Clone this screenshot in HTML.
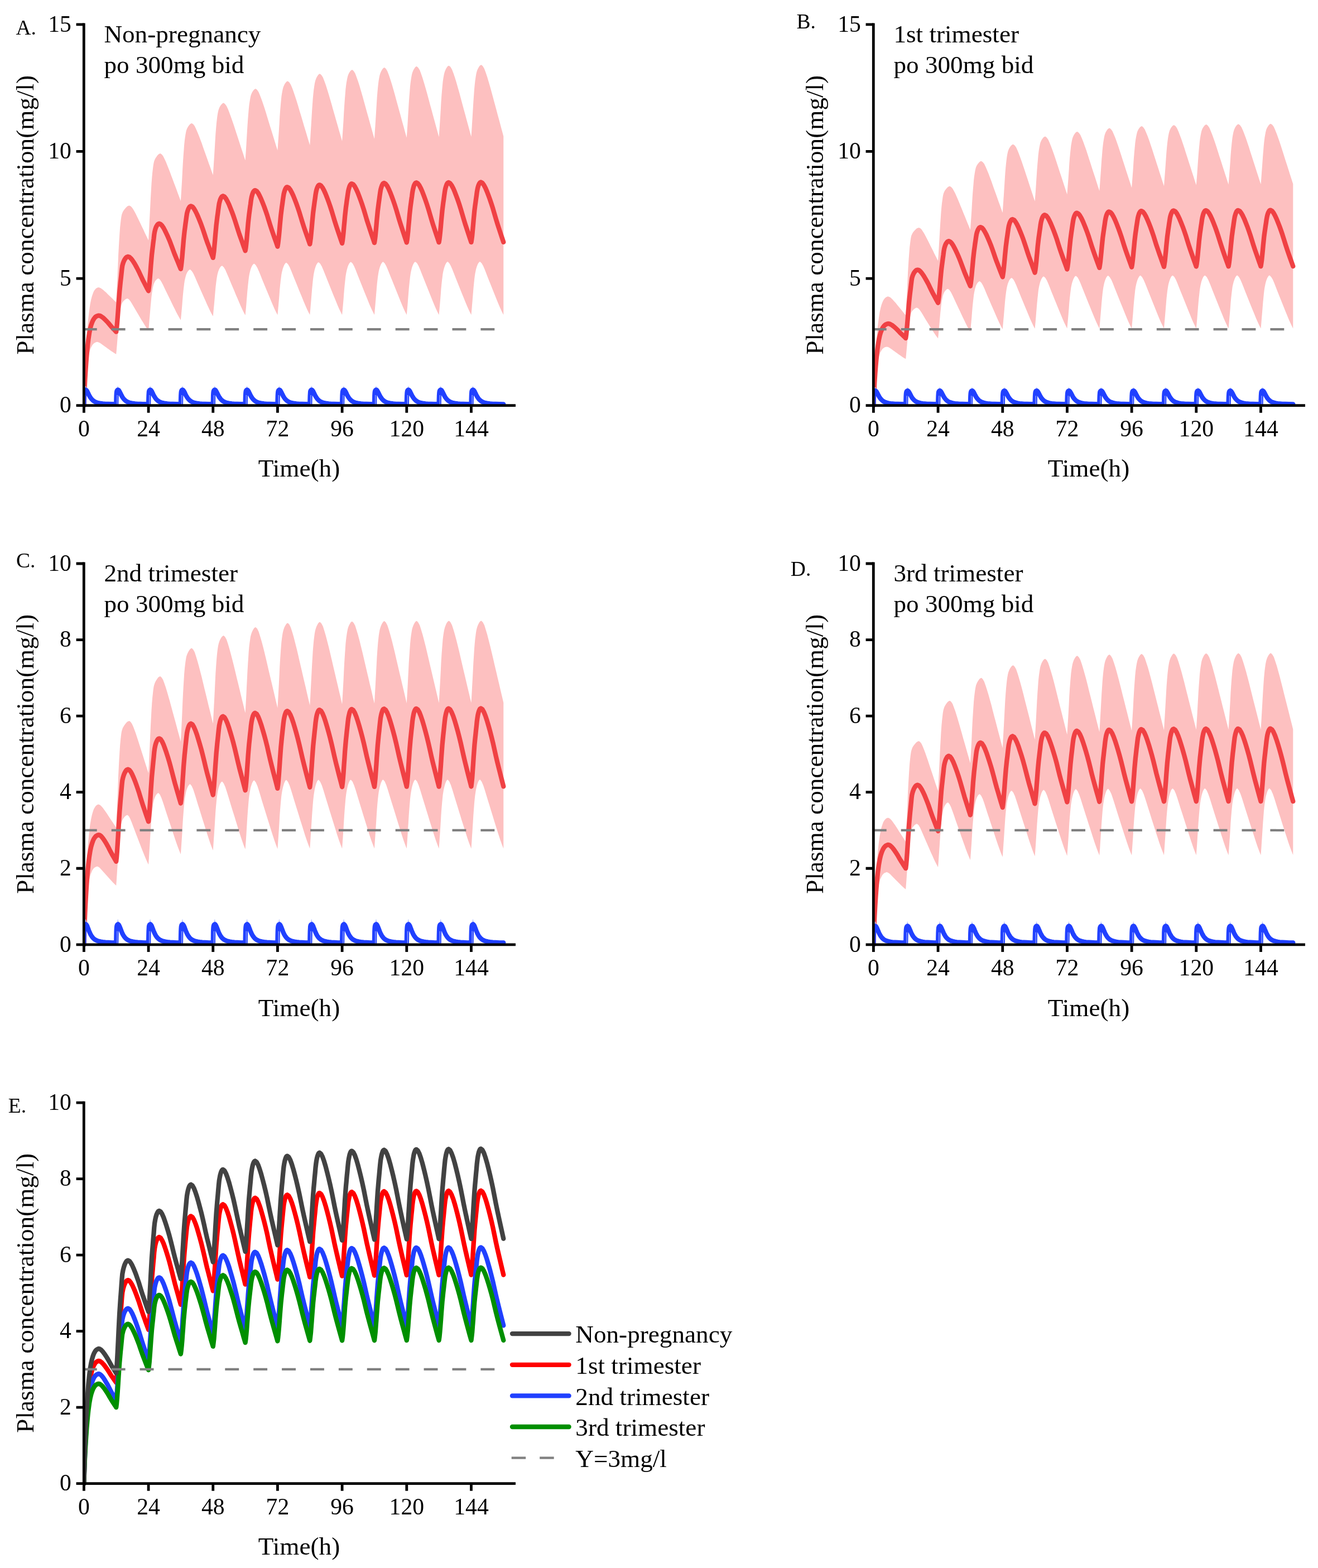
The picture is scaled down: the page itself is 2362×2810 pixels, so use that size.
<!DOCTYPE html>
<html lang="en"><head><meta charset="utf-8"><title>Plasma concentration-time profiles</title>
<style>html,body{margin:0;padding:0;background:#fff}body{width:2362px;height:2810px;overflow:hidden}svg{display:block}text{font-family:'Liberation Serif', 'DejaVu Serif', serif;font-size:41.67px;fill:#000}</style></head><body>
<svg width="2362" height="2810" viewBox="0 0 2362 2810">
<rect width="2362" height="2810" fill="#fff"/>
<clipPath id="cpA"><rect x="150.4" y="23.9" width="819.4" height="712.7"/></clipPath><g clip-path="url(#cpA)">
<polygon points="150.4,726.6 151.4,690.5 152.4,664.7 153.3,643.7 154.3,625.0 155.3,608.7 156.3,594.7 157.2,581.9 158.2,570.9 159.9,556.7 161.5,545.5 163.2,537.1 164.8,530.9 166.5,525.9 168.1,522.1 169.8,519.5 171.5,517.5 173.1,516.3 174.8,515.4 176.4,515.0 178.5,515.4 180.7,516.4 182.8,517.9 184.9,519.5 187.0,521.4 189.2,523.3 191.3,525.3 193.4,527.4 195.5,529.5 197.6,531.5 199.8,533.6 201.9,535.6 204.0,537.7 206.1,539.8 208.2,541.8 209.0,526.0 209.8,509.8 210.6,493.1 211.4,475.2 212.1,457.1 212.9,442.1 213.7,428.8 214.5,416.8 215.2,407.1 216.0,399.5 216.8,392.8 217.6,387.5 218.4,384.0 220.0,379.8 221.7,376.9 223.4,374.8 225.1,372.8 226.8,370.9 228.5,369.6 230.2,368.8 231.9,368.4 234.1,369.5 236.4,371.7 238.7,375.1 241.0,379.0 243.3,383.3 245.5,387.7 247.8,392.4 250.1,397.2 252.4,402.1 254.7,406.9 257.0,411.6 259.2,416.4 261.5,421.2 263.8,426.0 266.1,430.8 266.9,416.6 267.6,402.0 268.4,387.1 269.2,371.0 270.0,354.7 270.8,341.3 271.5,329.3 272.3,318.6 273.1,309.8 273.9,303.1 274.6,297.2 275.4,292.4 276.2,289.1 277.6,285.5 279.0,282.9 280.4,280.9 281.7,279.0 283.1,277.4 284.5,276.2 285.9,275.5 287.3,275.1 289.7,276.6 292.2,279.5 294.6,284.3 297.1,289.6 299.5,295.4 301.9,301.5 304.4,307.8 306.8,314.4 309.3,321.1 311.7,327.6 314.2,334.1 316.6,340.6 319.0,347.2 321.5,353.7 323.9,360.2 324.7,347.5 325.5,334.5 326.3,321.1 327.0,306.7 327.8,292.2 328.6,280.2 329.4,269.4 330.1,259.8 330.9,252.0 331.7,246.0 332.5,240.8 333.3,236.5 334.0,233.5 335.2,230.4 336.5,228.0 337.7,226.1 338.9,224.5 340.1,223.0 341.3,221.9 342.5,221.3 343.7,220.9 346.2,222.6 348.8,225.8 351.3,231.0 353.8,236.7 356.4,243.1 358.9,249.7 361.5,256.6 364.0,263.9 366.5,271.1 369.1,278.2 371.6,285.3 374.1,292.4 376.7,299.6 379.2,306.7 381.8,313.8 382.5,302.0 383.3,289.9 384.1,277.5 384.9,264.2 385.7,250.7 386.4,239.5 387.2,229.5 388.0,220.6 388.8,213.4 389.5,207.8 390.3,203.0 391.1,199.0 391.9,196.2 393.0,193.3 394.1,191.1 395.2,189.3 396.3,187.8 397.5,186.4 398.6,185.4 399.7,184.8 400.8,184.5 403.4,186.4 406.0,189.9 408.6,195.6 411.1,202.0 413.7,209.1 416.3,216.4 418.9,224.1 421.5,232.1 424.1,240.1 426.7,248.0 429.3,255.9 431.8,263.7 434.4,271.6 437.0,279.5 439.6,287.4 440.4,275.7 441.2,263.7 441.9,251.4 442.7,238.1 443.5,224.7 444.3,213.6 445.1,203.7 445.8,194.9 446.6,187.7 447.4,182.2 448.2,177.4 448.9,173.5 449.7,170.6 450.8,167.8 451.8,165.6 452.9,163.8 453.9,162.3 455.0,160.9 456.0,159.9 457.1,159.4 458.2,159.0 460.8,161.0 463.4,164.8 466.0,171.0 468.6,177.8 471.3,185.4 473.9,193.3 476.5,201.6 479.1,210.2 481.7,218.8 484.3,227.3 487.0,235.7 489.6,244.2 492.2,252.7 494.8,261.2 497.4,269.6 498.2,258.3 499.0,246.7 499.8,234.8 500.6,221.9 501.3,209.0 502.1,198.2 502.9,188.6 503.7,180.1 504.4,173.1 505.2,167.8 506.0,163.2 506.8,159.4 507.6,156.6 508.6,153.9 509.6,151.8 510.6,150.0 511.7,148.5 512.7,147.2 513.7,146.3 514.7,145.7 515.8,145.4 518.4,147.4 521.0,151.4 523.7,157.8 526.3,164.9 528.9,172.7 531.6,180.9 534.2,189.5 536.8,198.4 539.5,207.3 542.1,216.1 544.7,224.9 547.4,233.7 550.0,242.5 552.6,251.3 555.3,260.1 556.1,248.5 556.8,236.5 557.6,224.2 558.4,211.0 559.2,197.7 560.0,186.6 560.7,176.8 561.5,168.0 562.3,160.8 563.1,155.3 563.8,150.6 564.6,146.7 565.4,143.8 566.4,141.0 567.4,138.8 568.4,137.1 569.4,135.5 570.4,134.1 571.4,133.2 572.4,132.6 573.4,132.3 576.0,134.4 578.7,138.6 581.3,145.3 584.0,152.8 586.6,161.0 589.3,169.7 591.9,178.7 594.6,188.0 597.2,197.4 599.9,206.7 602.5,215.9 605.2,225.2 607.8,234.4 610.5,243.7 613.1,252.9 613.9,241.3 614.7,229.3 615.5,217.0 616.2,203.8 617.0,190.5 617.8,179.4 618.6,169.6 619.3,160.8 620.1,153.6 620.9,148.1 621.7,143.4 622.5,139.5 623.2,136.6 624.2,133.8 625.2,131.6 626.2,129.8 627.2,128.3 628.2,126.9 629.2,126.0 630.2,125.4 631.2,125.1 633.8,127.3 636.5,131.5 639.1,138.5 641.8,146.1 644.5,154.6 647.1,163.5 649.8,172.7 652.4,182.3 655.1,192.0 657.7,201.5 660.4,211.0 663.0,220.5 665.7,230.0 668.3,239.5 671.0,249.0 671.7,237.3 672.5,225.4 673.3,213.1 674.1,199.9 674.9,186.5 675.6,175.5 676.4,165.6 677.2,156.8 678.0,149.6 678.7,144.1 679.5,139.4 680.3,135.5 681.1,132.6 682.1,129.9 683.1,127.7 684.1,125.9 685.1,124.3 686.1,123.0 687.0,122.0 688.0,121.4 689.0,121.1 691.7,123.3 694.3,127.7 697.0,134.7 699.6,142.4 702.3,151.1 704.9,160.1 707.6,169.4 710.2,179.2 712.9,189.0 715.5,198.6 718.2,208.3 720.8,217.9 723.5,227.5 726.1,237.2 728.8,246.8 729.6,235.2 730.4,223.2 731.1,210.9 731.9,197.7 732.7,184.4 733.5,173.3 734.3,163.4 735.0,154.6 735.8,147.5 736.6,142.0 737.4,137.2 738.1,133.4 738.9,130.4 739.9,127.7 740.9,125.5 741.9,123.7 742.9,122.2 743.9,120.8 744.9,119.8 745.9,119.2 746.9,118.9 749.5,121.2 752.2,125.5 754.8,132.6 757.5,140.4 760.1,149.1 762.8,158.2 765.4,167.6 768.1,177.5 770.7,187.3 773.4,197.1 776.0,206.8 778.7,216.5 781.3,226.2 784.0,235.9 786.6,245.6 787.4,234.0 788.2,222.0 789.0,209.7 789.8,196.5 790.5,183.2 791.3,172.1 792.1,162.2 792.9,153.5 793.6,146.3 794.4,140.8 795.2,136.0 796.0,132.2 796.8,129.2 797.8,126.5 798.8,124.3 799.7,122.5 800.7,121.0 801.7,119.6 802.7,118.6 803.7,118.0 804.7,117.7 807.4,120.0 810.0,124.4 812.7,131.5 815.3,139.3 818.0,148.1 820.6,157.2 823.3,166.6 825.9,176.5 828.6,186.4 831.2,196.2 833.9,205.9 836.5,215.7 839.2,225.5 841.8,235.2 844.5,245.0 845.3,233.2 846.0,221.2 846.8,208.8 847.6,195.5 848.4,182.1 849.2,171.0 849.9,161.0 850.7,152.2 851.5,145.0 852.3,139.4 853.0,134.7 853.8,130.8 854.6,127.8 855.6,125.1 856.6,122.9 857.6,121.1 858.6,119.5 859.6,118.1 860.6,117.2 861.6,116.6 862.6,116.3 865.2,118.5 867.9,122.9 870.5,130.1 873.2,138.0 875.8,146.8 878.5,155.9 881.1,165.4 883.8,175.4 886.4,185.3 889.1,195.1 891.7,204.9 894.4,214.7 897.0,224.5 899.7,234.4 902.3,244.2 902.3,564.3 899.5,558.7 896.7,552.7 893.9,546.2 891.1,539.4 888.3,532.4 885.5,525.5 882.7,518.5 879.9,511.4 877.1,504.4 874.3,497.4 871.5,490.2 868.7,483.1 865.9,476.6 863.0,471.6 860.2,469.0 859.5,469.2 858.8,469.7 858.1,470.4 857.4,471.4 856.7,472.6 856.0,474.0 855.3,475.7 854.6,477.6 853.8,480.0 853.0,482.8 852.3,486.2 851.5,490.3 850.7,495.6 849.9,502.2 849.2,509.5 848.4,517.8 847.6,527.7 846.8,537.5 846.0,546.7 845.3,555.6 844.5,564.3 841.7,558.7 838.9,552.7 836.1,546.3 833.3,539.4 830.5,532.5 827.6,525.5 824.8,518.5 822.0,511.5 819.2,504.5 816.4,497.5 813.6,490.3 810.8,483.2 808.0,476.7 805.2,471.7 802.4,469.1 801.7,469.3 801.0,469.8 800.3,470.5 799.6,471.5 798.9,472.7 798.2,474.1 797.5,475.8 796.8,477.7 796.0,480.1 795.2,482.9 794.4,486.3 793.6,490.3 792.9,495.7 792.1,502.2 791.3,509.6 790.5,517.8 789.8,527.7 789.0,537.6 788.2,546.7 787.4,555.6 786.6,564.3 783.8,558.7 781.0,552.7 778.2,546.3 775.4,539.4 772.6,532.5 769.8,525.5 767.0,518.5 764.2,511.5 761.4,504.5 758.6,497.5 755.8,490.4 753.0,483.2 750.2,476.7 747.4,471.8 744.6,469.2 743.9,469.4 743.2,469.8 742.4,470.5 741.7,471.6 741.0,472.7 740.3,474.2 739.6,475.8 738.9,477.7 738.1,480.1 737.4,483.0 736.6,486.3 735.8,490.4 735.0,495.7 734.3,502.3 733.5,509.6 732.7,517.8 731.9,527.8 731.1,537.6 730.4,546.7 729.6,555.6 728.8,564.3 726.0,558.7 723.2,552.8 720.4,546.3 717.6,539.4 714.8,532.5 712.0,525.6 709.2,518.6 706.4,511.6 703.6,504.6 700.7,497.6 697.9,490.5 695.1,483.4 692.3,476.9 689.5,471.9 686.7,469.3 686.0,469.5 685.3,470.0 684.6,470.7 683.9,471.7 683.2,472.9 682.5,474.3 681.8,476.0 681.1,477.8 680.3,480.2 679.5,483.1 678.7,486.5 678.0,490.5 677.2,495.8 676.4,502.4 675.6,509.7 674.9,517.9 674.1,527.8 673.3,537.6 672.5,546.8 671.7,555.7 671.0,564.3 668.2,558.8 665.3,552.8 662.5,546.4 659.7,539.5 656.9,532.6 654.1,525.7 651.3,518.7 648.5,511.8 645.7,504.8 642.9,497.8 640.1,490.7 637.3,483.6 634.5,477.1 631.7,472.1 628.9,469.5 628.2,469.8 627.5,470.2 626.8,470.9 626.1,471.9 625.4,473.1 624.7,474.5 623.9,476.2 623.2,478.1 622.5,480.5 621.7,483.3 620.9,486.7 620.1,490.7 619.3,496.0 618.6,502.5 617.8,509.8 617.0,518.0 616.2,527.9 615.5,537.7 614.7,546.8 613.9,555.7 613.1,564.3 610.3,558.8 607.5,552.9 604.7,546.4 601.9,539.6 599.1,532.8 596.3,525.9 593.5,519.0 590.7,512.0 587.9,505.1 585.1,498.1 582.3,491.0 579.5,484.0 576.7,477.5 573.8,472.6 571.0,470.0 570.3,470.2 569.6,470.7 568.9,471.4 568.2,472.4 567.5,473.5 566.8,475.0 566.1,476.6 565.4,478.5 564.6,480.9 563.8,483.7 563.1,487.0 562.3,491.1 561.5,496.3 560.7,502.8 560.0,510.1 559.2,518.3 558.4,528.1 557.6,537.9 556.8,546.9 556.1,555.8 555.3,564.3 552.5,558.9 549.7,553.0 546.9,546.6 544.1,539.9 541.3,533.1 538.5,526.2 535.7,519.4 532.9,512.5 530.1,505.6 527.3,498.7 524.5,491.7 521.7,484.7 518.9,478.3 516.1,473.4 513.2,470.8 512.5,471.0 511.8,471.5 511.1,472.2 510.4,473.2 509.7,474.3 509.0,475.7 508.3,477.4 507.6,479.3 506.8,481.6 506.0,484.4 505.2,487.7 504.4,491.7 503.7,497.0 502.9,503.4 502.1,510.7 501.3,518.8 500.6,528.6 499.8,538.3 499.0,547.3 498.2,556.0 497.4,564.6 494.7,559.2 491.9,553.4 489.1,547.1 486.3,540.5 483.5,533.8 480.7,527.1 477.9,520.3 475.1,513.6 472.3,506.8 469.5,500.0 466.8,493.1 464.0,486.2 461.2,479.9 458.4,475.2 455.6,472.6 454.9,472.9 454.1,473.3 453.4,474.0 452.7,475.0 451.9,476.1 451.2,477.5 450.5,479.1 449.7,481.0 448.9,483.3 448.2,486.0 447.4,489.3 446.6,493.3 445.8,498.4 445.1,504.8 444.3,511.9 443.5,519.9 442.7,529.5 441.9,539.1 441.2,548.0 440.4,556.6 439.6,565.0 436.8,559.8 434.1,554.2 431.3,548.2 428.5,541.8 425.8,535.3 423.0,528.9 420.3,522.3 417.5,515.8 414.7,509.3 412.0,502.7 409.2,496.1 406.4,489.4 403.7,483.3 400.9,478.7 398.1,476.3 397.4,476.5 396.6,476.9 395.8,477.6 395.0,478.6 394.2,479.7 393.4,481.0 392.7,482.6 391.9,484.4 391.1,486.6 390.3,489.4 389.5,492.6 388.8,496.5 388.0,501.6 387.2,507.8 386.4,514.8 385.7,522.6 384.9,532.1 384.1,541.4 383.3,550.1 382.5,558.6 381.8,566.8 379.0,561.9 376.3,556.7 373.6,551.0 370.8,544.9 368.1,538.8 365.4,532.7 362.6,526.6 359.9,520.4 357.2,514.2 354.4,508.1 351.7,501.8 349.0,495.5 346.3,489.8 343.5,485.4 340.8,483.1 339.9,483.3 339.1,483.7 338.3,484.4 337.4,485.4 336.6,486.5 335.7,487.8 334.9,489.4 334.0,491.3 333.3,493.4 332.5,496.2 331.7,499.4 330.9,503.3 330.1,508.4 329.4,514.6 328.6,521.6 327.8,529.4 327.0,538.9 326.3,548.2 325.5,556.9 324.7,565.4 323.9,573.7 321.3,569.3 318.6,564.6 315.9,559.5 313.3,554.1 310.6,548.7 307.9,543.3 305.3,537.8 302.6,532.3 299.9,526.8 297.2,521.3 294.6,515.7 291.9,510.1 289.2,505.0 286.6,501.1 283.9,499.0 283.0,499.3 282.0,499.7 281.0,500.4 280.1,501.4 279.1,502.5 278.1,503.8 277.2,505.4 276.2,507.4 275.4,509.6 274.6,512.4 273.9,515.8 273.1,519.9 272.3,525.1 271.5,531.5 270.8,538.7 270.0,546.8 269.2,556.5 268.4,566.1 267.6,575.1 266.9,583.8 266.1,592.3 263.6,589.0 261.1,585.4 258.6,581.5 256.1,577.3 253.5,573.2 251.0,569.0 248.5,564.8 246.0,560.5 243.5,556.3 241.0,552.1 238.5,547.8 236.0,543.5 233.5,539.5 231.0,536.6 228.5,535.0 227.2,535.2 226.0,535.7 224.7,536.4 223.4,537.5 222.2,538.7 220.9,540.0 219.6,541.7 218.4,544.0 217.6,546.1 216.8,549.2 216.0,552.9 215.2,557.2 214.5,562.8 213.7,569.7 212.9,577.4 212.1,586.0 211.4,596.4 210.6,606.7 209.8,616.3 209.0,625.6 208.2,634.7 206.0,633.4 203.7,632.0 201.5,630.5 199.2,628.9 197.0,627.4 194.7,625.8 192.5,624.2 190.2,622.5 188.0,620.9 185.7,619.3 183.5,617.7 181.2,616.0 179.0,614.6 176.7,613.4 174.5,612.8 173.0,613.0 171.4,613.5 169.9,614.2 168.4,615.3 166.8,616.7 165.3,618.7 163.8,621.4 162.2,624.7 160.7,629.3 159.2,635.3 157.6,642.9 156.7,648.8 155.8,655.7 154.9,663.2 154.0,672.0 153.1,682.0 152.2,693.3 151.3,707.2 150.4,726.6" fill="#FDC0C0"/>
<polyline points="150.4,726.6 151.4,699.1 152.4,679.5 153.4,663.5 154.4,649.3 155.4,636.8 156.4,626.2 157.4,616.5 158.4,608.1 160.0,597.3 161.7,588.8 163.4,582.3 165.1,577.6 166.8,573.8 168.5,571.0 170.2,568.9 171.8,567.4 173.5,566.5 175.2,565.8 176.9,565.5 179.0,565.9 181.1,566.8 183.2,568.3 185.3,569.9 187.4,571.8 189.4,573.9 191.5,576.0 193.6,578.3 195.7,580.8 197.8,583.3 199.9,585.7 202.0,588.0 204.1,590.2 206.2,592.4 208.2,594.6 209.1,588.0 209.9,579.6 210.8,568.7 211.7,556.8 212.5,544.9 213.4,533.1 214.2,522.8 215.1,513.8 215.9,505.7 216.8,498.0 217.6,490.3 218.5,482.0 219.3,476.1 220.6,471.5 221.9,468.1 223.1,465.6 224.4,463.6 225.7,461.9 226.9,460.8 228.2,460.2 229.4,459.9 231.9,460.7 234.3,462.8 236.8,465.7 239.2,469.3 241.7,473.3 244.1,477.6 246.5,482.1 249.0,487.0 251.4,492.2 253.9,497.6 256.3,502.6 258.8,507.4 261.2,512.1 263.6,516.7 266.1,521.3 266.9,515.4 267.8,507.9 268.6,498.2 269.5,487.5 270.3,476.8 271.2,466.2 272.0,457.0 272.9,449.0 273.8,441.7 274.6,434.8 275.5,428.0 276.3,420.7 277.2,415.2 278.2,411.3 279.2,408.2 280.2,405.9 281.3,404.0 282.3,402.5 283.3,401.6 284.3,401.0 285.4,400.7 287.9,401.8 290.5,404.5 293.1,408.4 295.6,413.1 298.2,418.5 300.8,424.1 303.4,430.1 305.9,436.5 308.5,443.5 311.1,450.6 313.6,457.2 316.2,463.5 318.8,469.7 321.3,475.9 323.9,482.0 324.8,476.4 325.6,469.4 326.5,460.3 327.3,450.3 328.2,440.4 329.0,430.5 329.9,421.9 330.7,414.4 331.6,407.6 332.4,401.2 333.3,394.8 334.2,388.1 335.0,382.8 335.9,379.3 336.8,376.4 337.7,374.1 338.6,372.4 339.5,371.0 340.4,370.1 341.3,369.6 342.2,369.3 344.9,370.5 347.5,373.7 350.1,378.1 352.8,383.5 355.4,389.5 358.0,395.9 360.7,402.8 363.3,410.1 366.0,418.1 368.6,426.1 371.2,433.7 373.9,440.9 376.5,448.0 379.1,455.0 381.8,461.9 382.6,456.5 383.5,449.6 384.3,440.7 385.2,430.9 386.0,421.1 386.9,411.4 387.7,402.9 388.6,395.6 389.4,388.9 390.3,382.6 391.1,376.3 392.0,369.8 392.8,364.6 393.7,361.2 394.5,358.3 395.4,356.1 396.2,354.4 397.1,353.0 397.9,352.1 398.8,351.6 399.6,351.3 402.3,352.6 404.9,355.9 407.6,360.7 410.3,366.3 412.9,372.8 415.6,379.5 418.3,386.8 420.9,394.5 423.6,403.0 426.3,411.5 428.9,419.5 431.6,427.1 434.3,434.6 436.9,442.1 439.6,449.4 440.5,444.1 441.3,437.3 442.2,428.6 443.0,419.0 443.9,409.4 444.7,399.9 445.6,391.6 446.4,384.5 447.3,377.9 448.1,371.7 449.0,365.6 449.8,359.2 450.7,354.1 451.5,350.8 452.3,348.0 453.1,345.8 453.9,344.1 454.8,342.7 455.6,341.9 456.4,341.3 457.2,341.1 459.9,342.4 462.6,345.8 465.2,350.7 467.9,356.5 470.6,363.1 473.3,370.0 476.0,377.5 478.7,385.4 481.3,394.0 484.0,402.8 486.7,411.0 489.4,418.8 492.1,426.5 494.8,434.1 497.4,441.7 498.3,436.4 499.1,429.8 500.0,421.2 500.9,411.8 501.7,402.4 502.6,393.0 503.4,384.9 504.3,377.8 505.1,371.4 506.0,365.3 506.8,359.2 507.7,353.0 508.5,348.0 509.3,344.7 510.1,342.0 510.9,339.8 511.7,338.1 512.4,336.8 513.2,335.9 514.0,335.4 514.8,335.2 517.5,336.5 520.2,340.0 522.9,344.9 525.6,350.8 528.3,357.5 531.0,364.6 533.7,372.2 536.4,380.3 539.1,389.1 541.8,398.0 544.5,406.4 547.2,414.3 549.9,422.1 552.6,429.9 555.3,437.6 556.1,432.4 557.0,425.7 557.8,417.2 558.7,407.8 559.5,398.4 560.4,389.0 561.2,380.9 562.1,373.9 563.0,367.4 563.8,361.3 564.7,355.3 565.5,349.1 566.4,344.0 567.1,340.8 567.9,338.1 568.7,335.9 569.5,334.2 570.3,332.9 571.0,332.0 571.8,331.5 572.6,331.3 575.3,332.7 578.0,336.2 580.7,341.2 583.4,347.3 586.1,354.1 588.8,361.4 591.5,369.1 594.2,377.4 596.9,386.4 599.6,395.5 602.3,404.0 605.0,412.2 607.7,420.2 610.4,428.1 613.1,436.0 614.0,430.7 614.8,424.0 615.7,415.4 616.5,406.0 617.4,396.5 618.2,387.2 619.1,379.0 619.9,371.9 620.8,365.5 621.6,359.3 622.5,353.3 623.4,347.0 624.2,342.0 625.0,338.7 625.8,336.0 626.5,333.8 627.3,332.1 628.1,330.8 628.9,329.9 629.6,329.4 630.4,329.2 633.1,330.5 635.8,334.1 638.5,339.2 641.2,345.3 643.9,352.3 646.6,359.6 649.3,367.4 652.0,375.8 654.7,384.9 657.4,394.1 660.2,402.7 662.9,411.0 665.6,419.1 668.3,427.1 671.0,435.1 671.8,429.8 672.7,423.1 673.5,414.5 674.4,405.0 675.2,395.5 676.1,386.1 676.9,377.9 677.8,370.9 678.6,364.4 679.5,358.2 680.3,352.2 681.2,345.9 682.0,340.8 682.8,337.6 683.6,334.8 684.4,332.6 685.2,330.9 685.9,329.6 686.7,328.7 687.5,328.2 688.3,328.0 691.0,329.4 693.7,333.0 696.4,338.1 699.1,344.3 701.8,351.2 704.5,358.6 707.2,366.5 709.9,374.9 712.6,384.1 715.3,393.4 718.0,402.0 720.7,410.3 723.4,418.5 726.1,426.6 728.8,434.6 729.7,429.3 730.5,422.6 731.4,414.0 732.2,404.5 733.1,395.0 733.9,385.6 734.8,377.4 735.6,370.3 736.5,363.8 737.3,357.6 738.2,351.6 739.0,345.3 739.9,340.2 740.7,336.9 741.4,334.2 742.2,331.9 743.0,330.3 743.8,328.9 744.5,328.1 745.3,327.6 746.1,327.3 748.8,328.7 751.5,332.3 754.2,337.5 756.9,343.7 759.6,350.7 762.3,358.1 765.0,366.0 767.7,374.4 770.4,383.6 773.1,392.9 775.8,401.7 778.5,410.0 781.2,418.1 783.9,426.3 786.6,434.3 787.5,429.0 788.3,422.3 789.2,413.7 790.1,404.2 790.9,394.7 791.8,385.3 792.6,377.0 793.5,369.9 794.3,363.5 795.2,357.3 796.0,351.2 796.9,344.9 797.7,339.9 798.5,336.6 799.3,333.8 800.1,331.6 800.8,329.9 801.6,328.6 802.4,327.7 803.2,327.2 803.9,327.0 806.6,328.4 809.3,332.0 812.1,337.2 814.8,343.4 817.5,350.4 820.2,357.8 822.9,365.7 825.6,374.2 828.3,383.4 831.0,392.7 833.7,401.4 836.4,409.8 839.1,418.0 841.8,426.1 844.5,434.1 845.3,428.8 846.2,422.1 847.0,413.5 847.9,403.9 848.7,394.4 849.6,385.0 850.4,376.7 851.3,369.6 852.2,363.1 853.0,357.0 853.9,350.8 854.7,344.5 855.6,339.4 856.3,336.2 857.1,333.4 857.9,331.2 858.7,329.5 859.5,328.2 860.2,327.3 861.0,326.8 861.8,326.5 864.5,327.9 867.2,331.6 869.9,336.7 872.6,343.0 875.3,350.0 878.0,357.4 880.7,365.4 883.4,373.8 886.1,383.1 888.8,392.4 891.5,401.2 894.2,409.5 896.9,417.7 899.6,425.9 902.3,433.9" fill="none" stroke="#F04144" stroke-width="8.33" stroke-linejoin="round" stroke-linecap="round"/>
<path d="M148.8,590.06H902.3" stroke="#808080" stroke-width="4.2" stroke-dasharray="24.9 26" fill="none"/>
<polygon points="150.4,726.6 150.6,716.5 150.8,709.4 151.1,703.4 151.4,699.6 151.8,695.8 152.3,693.6 153.1,691.8 153.8,691.8 154.5,693.8 155.2,696.6 156.2,700.1 157.1,702.7 158.1,704.9 159.2,707.3 160.3,709.4 161.5,711.5 162.7,713.3 163.8,714.7 164.9,715.9 166.1,717.1 167.3,718.2 168.3,718.9 170.2,720.0 172.1,720.9 174.5,721.7 177.4,722.4 180.8,723.0 184.1,723.4 189.0,723.8 193.8,724.0 201.0,724.2 208.2,724.3 208.4,714.5 208.6,707.8 208.9,702.2 209.2,698.8 209.7,695.8 210.2,693.6 210.9,691.8 211.6,691.8 212.3,693.8 213.1,696.6 214.0,700.1 215.0,702.7 216.0,704.9 217.1,707.3 218.1,709.4 219.3,711.5 220.5,713.3 221.6,714.7 222.7,715.9 223.9,717.1 225.1,718.2 226.1,718.9 228.0,720.0 229.9,720.9 232.3,721.7 235.2,722.4 238.6,723.0 242.0,723.4 246.8,723.8 251.6,724.0 258.9,724.2 266.1,724.3 266.3,714.5 266.5,707.8 266.8,702.2 267.0,698.8 267.5,695.8 268.0,693.6 268.7,691.8 269.5,691.8 270.2,693.8 270.9,696.6 271.9,700.1 272.8,702.7 273.8,704.9 274.9,707.3 276.0,709.4 277.2,711.5 278.4,713.3 279.4,714.7 280.5,715.9 281.7,717.1 283.0,718.2 284.0,718.9 285.8,720.0 287.8,720.9 290.2,721.7 293.1,722.4 296.4,723.0 299.8,723.4 304.6,723.8 309.5,724.0 316.7,724.2 323.9,724.3 324.1,714.5 324.3,707.8 324.6,702.2 324.9,698.8 325.4,695.8 325.8,693.6 326.6,691.8 327.3,691.8 328.0,693.8 328.7,696.6 329.7,700.1 330.7,702.7 331.6,704.9 332.7,707.3 333.8,709.4 335.0,711.5 336.2,713.3 337.3,714.7 338.4,715.9 339.6,717.1 340.8,718.2 341.8,718.9 343.7,720.0 345.6,720.9 348.0,721.7 350.9,722.4 354.3,723.0 357.7,723.4 362.5,723.8 367.3,724.0 374.5,724.2 381.8,724.3 382.0,714.5 382.1,707.8 382.4,702.2 382.7,698.8 383.2,695.8 383.7,693.6 384.4,691.8 385.1,691.8 385.9,693.8 386.6,696.6 387.5,700.1 388.5,702.7 389.5,704.9 390.6,707.3 391.6,709.4 392.8,711.5 394.1,713.3 395.1,714.7 396.2,715.9 397.4,717.1 398.6,718.2 399.6,718.9 401.5,720.0 403.5,720.9 405.9,721.7 408.8,722.4 412.1,723.0 415.5,723.4 420.3,723.8 425.1,724.0 432.4,724.2 439.6,724.3 439.8,714.5 440.0,707.8 440.3,702.2 440.6,698.8 441.0,695.8 441.5,693.6 442.3,691.8 443.0,691.8 443.7,693.8 444.4,696.6 445.4,700.1 446.3,702.7 447.3,704.9 448.4,707.3 449.5,709.4 450.7,711.5 451.9,713.3 453.0,714.7 454.1,715.9 455.3,717.1 456.5,718.2 457.5,718.9 459.4,720.0 461.3,720.9 463.7,721.7 466.6,722.4 470.0,723.0 473.3,723.4 478.2,723.8 483.0,724.0 490.2,724.2 497.4,724.3 497.6,714.5 497.8,707.8 498.1,702.2 498.4,698.8 498.9,695.8 499.4,693.6 500.1,691.8 500.8,691.8 501.5,693.8 502.3,696.6 503.2,700.1 504.2,702.7 505.2,704.9 506.3,707.3 507.3,709.4 508.5,711.5 509.7,713.3 510.8,714.7 511.9,715.9 513.1,717.1 514.3,718.2 515.3,718.9 517.2,720.0 519.1,720.9 521.5,721.7 524.4,722.4 527.8,723.0 531.2,723.4 536.0,723.8 540.8,724.0 548.1,724.2 555.3,724.3 555.5,714.5 555.7,707.8 556.0,702.2 556.2,698.8 556.7,695.8 557.2,693.6 557.9,691.8 558.7,691.8 559.4,693.8 560.1,696.6 561.1,700.1 562.0,702.7 563.0,704.9 564.1,707.3 565.2,709.4 566.4,711.5 567.6,713.3 568.6,714.7 569.7,715.9 570.9,717.1 572.1,718.2 573.2,718.9 575.0,720.0 577.0,720.9 579.4,721.7 582.3,722.4 585.6,723.0 589.0,723.4 593.8,723.8 598.7,724.0 605.9,724.2 613.1,724.3 613.3,714.5 613.5,707.8 613.8,702.2 614.1,698.8 614.6,695.8 615.0,693.6 615.8,691.8 616.5,691.8 617.2,693.8 617.9,696.6 618.9,700.1 619.9,702.7 620.8,704.9 621.9,707.3 623.0,709.4 624.2,711.5 625.4,713.3 626.5,714.7 627.6,715.9 628.8,717.1 630.0,718.2 631.0,718.9 632.9,720.0 634.8,720.9 637.2,721.7 640.1,722.4 643.5,723.0 646.9,723.4 651.7,723.8 656.5,724.0 663.7,724.2 671.0,724.3 671.2,714.5 671.3,707.8 671.6,702.2 671.9,698.8 672.4,695.8 672.9,693.6 673.6,691.8 674.3,691.8 675.1,693.8 675.8,696.6 676.7,700.1 677.7,702.7 678.7,704.9 679.8,707.3 680.8,709.4 682.0,711.5 683.3,713.3 684.3,714.7 685.4,715.9 686.6,717.1 687.8,718.2 688.8,718.9 690.7,720.0 692.6,720.9 695.1,721.7 698.0,722.4 701.3,723.0 704.7,723.4 709.5,723.8 714.3,724.0 721.6,724.2 728.8,724.3 729.0,714.5 729.2,707.8 729.5,702.2 729.8,698.8 730.2,695.8 730.7,693.6 731.5,691.8 732.2,691.8 732.9,693.8 733.6,696.6 734.6,700.1 735.5,702.7 736.5,704.9 737.6,707.3 738.7,709.4 739.9,711.5 741.1,713.3 742.2,714.7 743.3,715.9 744.5,717.1 745.7,718.2 746.7,718.9 748.6,720.0 750.5,720.9 752.9,721.7 755.8,722.4 759.2,723.0 762.5,723.4 767.4,723.8 772.2,724.0 779.4,724.2 786.6,724.3 786.8,714.5 787.0,707.8 787.3,702.2 787.6,698.8 788.1,695.8 788.6,693.6 789.3,691.8 790.0,691.8 790.7,693.8 791.5,696.6 792.4,700.1 793.4,702.7 794.4,704.9 795.5,707.3 796.5,709.4 797.7,711.5 798.9,713.3 800.0,714.7 801.1,715.9 802.3,717.1 803.5,718.2 804.5,718.9 806.4,720.0 808.3,720.9 810.7,721.7 813.6,722.4 817.0,723.0 820.4,723.4 825.2,723.8 830.0,724.0 837.2,724.2 844.5,724.3 844.7,714.5 844.9,707.8 845.2,702.2 845.4,698.8 845.9,695.8 846.4,693.6 847.1,691.8 847.9,691.8 848.6,693.8 849.3,696.6 850.3,700.1 851.2,702.7 852.2,704.9 853.3,707.3 854.4,709.4 855.6,711.5 856.8,713.3 857.8,714.7 858.9,715.9 860.1,717.1 861.4,718.2 862.4,718.9 864.2,720.0 866.2,720.9 868.6,721.7 871.5,722.4 874.8,723.0 878.2,723.4 883.0,723.8 887.9,724.0 895.1,724.2 902.3,724.3 902.3,724.3 895.1,724.2 887.9,724.0 883.0,723.8 878.2,723.4 874.8,723.0 871.5,722.4 868.6,721.7 866.2,720.9 864.2,720.0 862.4,718.9 861.4,718.2 860.1,717.1 858.9,715.9 857.8,714.7 856.8,713.3 855.6,711.5 854.4,709.4 853.3,707.5 852.2,705.5 851.2,704.2 850.3,703.4 849.3,703.1 848.6,702.8 847.9,702.4 847.1,702.0 846.4,701.8 845.9,701.9 845.4,702.9 845.2,705.1 844.9,709.4 844.7,715.4 844.5,724.3 837.2,724.2 830.0,724.0 825.2,723.8 820.4,723.4 817.0,723.0 813.6,722.4 810.7,721.7 808.3,720.9 806.4,720.0 804.5,718.9 803.5,718.2 802.3,717.1 801.1,715.9 800.0,714.7 798.9,713.3 797.7,711.5 796.5,709.4 795.5,707.5 794.4,705.5 793.4,704.2 792.4,703.4 791.5,703.1 790.7,702.8 790.0,702.4 789.3,702.0 788.6,701.8 788.1,701.9 787.6,702.9 787.3,705.1 787.0,709.4 786.8,715.4 786.6,724.3 779.4,724.2 772.2,724.0 767.4,723.8 762.5,723.4 759.2,723.0 755.8,722.4 752.9,721.7 750.5,720.9 748.6,720.0 746.7,718.9 745.7,718.2 744.5,717.1 743.3,715.9 742.2,714.7 741.1,713.3 739.9,711.5 738.7,709.4 737.6,707.5 736.5,705.5 735.5,704.2 734.6,703.4 733.6,703.1 732.9,702.8 732.2,702.4 731.5,702.0 730.7,701.8 730.2,701.9 729.8,702.9 729.5,705.1 729.2,709.4 729.0,715.4 728.8,724.3 721.6,724.2 714.3,724.0 709.5,723.8 704.7,723.4 701.3,723.0 698.0,722.4 695.1,721.7 692.6,720.9 690.7,720.0 688.8,718.9 687.8,718.2 686.6,717.1 685.4,715.9 684.3,714.7 683.3,713.3 682.0,711.5 680.8,709.4 679.8,707.5 678.7,705.5 677.7,704.2 676.7,703.4 675.8,703.1 675.1,702.8 674.3,702.4 673.6,702.0 672.9,701.8 672.4,701.9 671.9,702.9 671.6,705.1 671.3,709.4 671.2,715.4 671.0,724.3 663.7,724.2 656.5,724.0 651.7,723.8 646.9,723.4 643.5,723.0 640.1,722.4 637.2,721.7 634.8,720.9 632.9,720.0 631.0,718.9 630.0,718.2 628.8,717.1 627.6,715.9 626.5,714.7 625.4,713.3 624.2,711.5 623.0,709.4 621.9,707.5 620.8,705.5 619.9,704.2 618.9,703.4 617.9,703.1 617.2,702.8 616.5,702.4 615.8,702.0 615.0,701.8 614.6,701.9 614.1,702.9 613.8,705.1 613.5,709.4 613.3,715.4 613.1,724.3 605.9,724.2 598.7,724.0 593.8,723.8 589.0,723.4 585.6,723.0 582.3,722.4 579.4,721.7 577.0,720.9 575.0,720.0 573.2,718.9 572.1,718.2 570.9,717.1 569.7,715.9 568.6,714.7 567.6,713.3 566.4,711.5 565.2,709.4 564.1,707.5 563.0,705.5 562.0,704.2 561.1,703.4 560.1,703.1 559.4,702.8 558.7,702.4 557.9,702.0 557.2,701.8 556.7,701.9 556.2,702.9 556.0,705.1 555.7,709.4 555.5,715.4 555.3,724.3 548.1,724.2 540.8,724.0 536.0,723.8 531.2,723.4 527.8,723.0 524.4,722.4 521.5,721.7 519.1,720.9 517.2,720.0 515.3,718.9 514.3,718.2 513.1,717.1 511.9,715.9 510.8,714.7 509.7,713.3 508.5,711.5 507.3,709.4 506.3,707.5 505.2,705.5 504.2,704.2 503.2,703.4 502.3,703.1 501.5,702.8 500.8,702.4 500.1,702.0 499.4,701.8 498.9,701.9 498.4,702.9 498.1,705.1 497.8,709.4 497.6,715.4 497.4,724.3 490.2,724.2 483.0,724.0 478.2,723.8 473.3,723.4 470.0,723.0 466.6,722.4 463.7,721.7 461.3,720.9 459.4,720.0 457.5,718.9 456.5,718.2 455.3,717.1 454.1,715.9 453.0,714.7 451.9,713.3 450.7,711.5 449.5,709.4 448.4,707.5 447.3,705.5 446.3,704.2 445.4,703.4 444.4,703.1 443.7,702.8 443.0,702.4 442.3,702.0 441.5,701.8 441.0,701.9 440.6,702.9 440.3,705.1 440.0,709.4 439.8,715.4 439.6,724.3 432.4,724.2 425.1,724.0 420.3,723.8 415.5,723.4 412.1,723.0 408.8,722.4 405.9,721.7 403.5,720.9 401.5,720.0 399.6,718.9 398.6,718.2 397.4,717.1 396.2,715.9 395.1,714.7 394.1,713.3 392.8,711.5 391.6,709.4 390.6,707.5 389.5,705.5 388.5,704.2 387.5,703.4 386.6,703.1 385.9,702.8 385.1,702.4 384.4,702.0 383.7,701.8 383.2,701.9 382.7,702.9 382.4,705.1 382.1,709.4 382.0,715.4 381.8,724.3 374.5,724.2 367.3,724.0 362.5,723.8 357.7,723.4 354.3,723.0 350.9,722.4 348.0,721.7 345.6,720.9 343.7,720.0 341.8,718.9 340.8,718.2 339.6,717.1 338.4,715.9 337.3,714.7 336.2,713.3 335.0,711.5 333.8,709.4 332.7,707.5 331.6,705.5 330.7,704.2 329.7,703.4 328.7,703.1 328.0,702.8 327.3,702.4 326.6,702.0 325.8,701.8 325.4,701.9 324.9,702.9 324.6,705.1 324.3,709.4 324.1,715.4 323.9,724.3 316.7,724.2 309.5,724.0 304.6,723.8 299.8,723.4 296.4,723.0 293.1,722.4 290.2,721.7 287.8,720.9 285.8,720.0 284.0,718.9 283.0,718.2 281.7,717.1 280.5,715.9 279.4,714.7 278.4,713.3 277.2,711.5 276.0,709.4 274.9,707.5 273.8,705.5 272.8,704.2 271.9,703.4 270.9,703.1 270.2,702.8 269.5,702.4 268.7,702.0 268.0,701.8 267.5,701.9 267.0,702.9 266.8,705.1 266.5,709.4 266.3,715.4 266.1,724.3 258.9,724.2 251.6,724.0 246.8,723.8 242.0,723.4 238.6,723.0 235.2,722.4 232.3,721.7 229.9,720.9 228.0,720.0 226.1,718.9 225.1,718.2 223.9,717.1 222.7,715.9 221.6,714.7 220.5,713.3 219.3,711.5 218.1,709.4 217.1,707.5 216.0,705.5 215.0,704.2 214.0,703.4 213.1,703.1 212.3,702.8 211.6,702.4 210.9,702.0 210.2,701.8 209.7,701.9 209.2,702.9 208.9,705.1 208.6,709.4 208.4,715.4 208.2,724.3 201.0,724.2 193.8,724.0 189.0,723.8 184.1,723.4 180.8,723.0 177.4,722.4 174.5,721.7 172.1,720.9 170.2,720.0 168.3,718.9 167.3,718.2 166.1,717.1 164.9,715.9 163.8,714.7 162.7,713.3 161.5,711.5 160.3,709.4 159.2,707.5 158.1,705.5 157.1,704.2 156.2,703.4 155.2,703.1 154.5,702.8 153.8,702.4 153.1,702.0 152.3,701.8 151.8,701.9 151.4,703.7 151.1,706.3 150.8,711.1 150.6,717.3 150.4,726.6" fill="#C4CCFF"/>
<polyline points="150.4,726.6 150.6,717.1 150.8,710.6 151.1,705.4 151.4,702.5 151.8,700.1 152.3,699.4 153.1,698.8 153.8,698.6 154.5,699.0 155.2,699.8 156.2,701.2 157.1,703.0 158.1,705.0 159.2,707.4 160.3,709.4 161.5,711.5 162.7,713.3 163.8,714.7 164.9,715.9 166.1,717.1 167.3,718.2 168.3,718.9 170.2,720.0 172.1,720.9 174.5,721.7 177.4,722.4 180.8,723.0 184.1,723.4 189.0,723.8 193.8,724.0 201.0,724.2 208.2,724.3 208.4,715.1 208.6,708.9 208.9,704.2 209.2,701.7 209.7,700.1 210.2,699.4 210.9,698.8 211.6,698.6 212.3,699.0 213.1,699.8 214.0,701.2 215.0,703.0 216.0,705.0 217.1,707.4 218.1,709.4 219.3,711.5 220.5,713.3 221.6,714.7 222.7,715.9 223.9,717.1 225.1,718.2 226.1,718.9 228.0,720.0 229.9,720.9 232.3,721.7 235.2,722.4 238.6,723.0 242.0,723.4 246.8,723.8 251.6,724.0 258.9,724.2 266.1,724.3 266.3,715.1 266.5,708.9 266.8,704.2 267.0,701.7 267.5,700.1 268.0,699.4 268.7,698.8 269.5,698.6 270.2,699.0 270.9,699.8 271.9,701.2 272.8,703.0 273.8,705.0 274.9,707.4 276.0,709.4 277.2,711.5 278.4,713.3 279.4,714.7 280.5,715.9 281.7,717.1 283.0,718.2 284.0,718.9 285.8,720.0 287.8,720.9 290.2,721.7 293.1,722.4 296.4,723.0 299.8,723.4 304.6,723.8 309.5,724.0 316.7,724.2 323.9,724.3 324.1,715.1 324.3,708.9 324.6,704.2 324.9,701.7 325.4,700.1 325.8,699.4 326.6,698.8 327.3,698.6 328.0,699.0 328.7,699.8 329.7,701.2 330.7,703.0 331.6,705.0 332.7,707.4 333.8,709.4 335.0,711.5 336.2,713.3 337.3,714.7 338.4,715.9 339.6,717.1 340.8,718.2 341.8,718.9 343.7,720.0 345.6,720.9 348.0,721.7 350.9,722.4 354.3,723.0 357.7,723.4 362.5,723.8 367.3,724.0 374.5,724.2 381.8,724.3 382.0,715.1 382.1,708.9 382.4,704.2 382.7,701.7 383.2,700.1 383.7,699.4 384.4,698.8 385.1,698.6 385.9,699.0 386.6,699.8 387.5,701.2 388.5,703.0 389.5,705.0 390.6,707.4 391.6,709.4 392.8,711.5 394.1,713.3 395.1,714.7 396.2,715.9 397.4,717.1 398.6,718.2 399.6,718.9 401.5,720.0 403.5,720.9 405.9,721.7 408.8,722.4 412.1,723.0 415.5,723.4 420.3,723.8 425.1,724.0 432.4,724.2 439.6,724.3 439.8,715.1 440.0,708.9 440.3,704.2 440.6,701.7 441.0,700.1 441.5,699.4 442.3,698.8 443.0,698.6 443.7,699.0 444.4,699.8 445.4,701.2 446.3,703.0 447.3,705.0 448.4,707.4 449.5,709.4 450.7,711.5 451.9,713.3 453.0,714.7 454.1,715.9 455.3,717.1 456.5,718.2 457.5,718.9 459.4,720.0 461.3,720.9 463.7,721.7 466.6,722.4 470.0,723.0 473.3,723.4 478.2,723.8 483.0,724.0 490.2,724.2 497.4,724.3 497.6,715.1 497.8,708.9 498.1,704.2 498.4,701.7 498.9,700.1 499.4,699.4 500.1,698.8 500.8,698.6 501.5,699.0 502.3,699.8 503.2,701.2 504.2,703.0 505.2,705.0 506.3,707.4 507.3,709.4 508.5,711.5 509.7,713.3 510.8,714.7 511.9,715.9 513.1,717.1 514.3,718.2 515.3,718.9 517.2,720.0 519.1,720.9 521.5,721.7 524.4,722.4 527.8,723.0 531.2,723.4 536.0,723.8 540.8,724.0 548.1,724.2 555.3,724.3 555.5,715.1 555.7,708.9 556.0,704.2 556.2,701.7 556.7,700.1 557.2,699.4 557.9,698.8 558.7,698.6 559.4,699.0 560.1,699.8 561.1,701.2 562.0,703.0 563.0,705.0 564.1,707.4 565.2,709.4 566.4,711.5 567.6,713.3 568.6,714.7 569.7,715.9 570.9,717.1 572.1,718.2 573.2,718.9 575.0,720.0 577.0,720.9 579.4,721.7 582.3,722.4 585.6,723.0 589.0,723.4 593.8,723.8 598.7,724.0 605.9,724.2 613.1,724.3 613.3,715.1 613.5,708.9 613.8,704.2 614.1,701.7 614.6,700.1 615.0,699.4 615.8,698.8 616.5,698.6 617.2,699.0 617.9,699.8 618.9,701.2 619.9,703.0 620.8,705.0 621.9,707.4 623.0,709.4 624.2,711.5 625.4,713.3 626.5,714.7 627.6,715.9 628.8,717.1 630.0,718.2 631.0,718.9 632.9,720.0 634.8,720.9 637.2,721.7 640.1,722.4 643.5,723.0 646.9,723.4 651.7,723.8 656.5,724.0 663.7,724.2 671.0,724.3 671.2,715.1 671.3,708.9 671.6,704.2 671.9,701.7 672.4,700.1 672.9,699.4 673.6,698.8 674.3,698.6 675.1,699.0 675.8,699.8 676.7,701.2 677.7,703.0 678.7,705.0 679.8,707.4 680.8,709.4 682.0,711.5 683.3,713.3 684.3,714.7 685.4,715.9 686.6,717.1 687.8,718.2 688.8,718.9 690.7,720.0 692.6,720.9 695.1,721.7 698.0,722.4 701.3,723.0 704.7,723.4 709.5,723.8 714.3,724.0 721.6,724.2 728.8,724.3 729.0,715.1 729.2,708.9 729.5,704.2 729.8,701.7 730.2,700.1 730.7,699.4 731.5,698.8 732.2,698.6 732.9,699.0 733.6,699.8 734.6,701.2 735.5,703.0 736.5,705.0 737.6,707.4 738.7,709.4 739.9,711.5 741.1,713.3 742.2,714.7 743.3,715.9 744.5,717.1 745.7,718.2 746.7,718.9 748.6,720.0 750.5,720.9 752.9,721.7 755.8,722.4 759.2,723.0 762.5,723.4 767.4,723.8 772.2,724.0 779.4,724.2 786.6,724.3 786.8,715.1 787.0,708.9 787.3,704.2 787.6,701.7 788.1,700.1 788.6,699.4 789.3,698.8 790.0,698.6 790.7,699.0 791.5,699.8 792.4,701.2 793.4,703.0 794.4,705.0 795.5,707.4 796.5,709.4 797.7,711.5 798.9,713.3 800.0,714.7 801.1,715.9 802.3,717.1 803.5,718.2 804.5,718.9 806.4,720.0 808.3,720.9 810.7,721.7 813.6,722.4 817.0,723.0 820.4,723.4 825.2,723.8 830.0,724.0 837.2,724.2 844.5,724.3 844.7,715.1 844.9,708.9 845.2,704.2 845.4,701.7 845.9,700.1 846.4,699.4 847.1,698.8 847.9,698.6 848.6,699.0 849.3,699.8 850.3,701.2 851.2,703.0 852.2,705.0 853.3,707.4 854.4,709.4 855.6,711.5 856.8,713.3 857.8,714.7 858.9,715.9 860.1,717.1 861.4,718.2 862.4,718.9 864.2,720.0 866.2,720.9 868.6,721.7 871.5,722.4 874.8,723.0 878.2,723.4 883.0,723.8 887.9,724.0 895.1,724.2 902.3,724.3" fill="none" stroke="#2040FF" stroke-width="8.33" stroke-linejoin="round" stroke-linecap="round"/>
<path d="M152.1,708.1V726.6M210.0,708.1V726.6M267.8,708.1V726.6M325.7,708.1V726.6M383.5,708.1V726.6M441.3,708.1V726.6M499.2,708.1V726.6M557.0,708.1V726.6M614.9,708.1V726.6M672.7,708.1V726.6M730.5,708.1V726.6M788.4,708.1V726.6M846.2,708.1V726.6" stroke="#93A3FF" stroke-width="1.3" fill="none"/>
</g>
<path d="M150.30,41.50V729.00" stroke="#000" stroke-width="4.8" fill="none"/>
<path d="M148.00,726.60H924.00" stroke="#000" stroke-width="4.8" fill="none"/>
<text x="127.8" y="739.3" text-anchor="end">0</text>
<text x="127.8" y="511.7" text-anchor="end">5</text>
<text x="127.8" y="284.2" text-anchor="end">10</text>
<text x="127.8" y="56.6" text-anchor="end">15</text>
<text x="150.4" y="782.1" text-anchor="middle">0</text>
<text x="266.1" y="782.1" text-anchor="middle">24</text>
<text x="381.8" y="782.1" text-anchor="middle">48</text>
<text x="497.4" y="782.1" text-anchor="middle">72</text>
<text x="613.1" y="782.1" text-anchor="middle">96</text>
<text x="728.8" y="782.1" text-anchor="middle">120</text>
<text x="844.5" y="782.1" text-anchor="middle">144</text>
<path d="M136.60,726.60H150.40M136.60,499.03H150.40M136.60,271.47H150.40M136.60,43.90H150.40M150.40,726.60V739.80M266.08,726.60V739.80M381.76,726.60V739.80M497.44,726.60V739.80M613.12,726.60V739.80M728.80,726.60V739.80M844.48,726.60V739.80" stroke="#000" stroke-width="4.8" fill="none"/>
<text x="536.0" y="854.3" text-anchor="middle" style="font-size:45.2px">Time(h)</text>
<text transform="translate(60.0,385.2) rotate(-90)" text-anchor="middle" style="font-size:45.2px">Plasma concentration(mg/l)</text>
<text x="186.4" y="75.7" style="font-size:45.2px">Non-pregnancy</text>
<text x="186.4" y="130.7" style="font-size:45.2px">po 300mg bid</text>
<text x="28.5" y="61.5" style="font-size:37.5px">A.</text>
<clipPath id="cpB"><rect x="1565.4" y="23.9" width="819.4" height="712.7"/></clipPath><g clip-path="url(#cpB)">
<polygon points="1565.4,726.6 1566.4,693.3 1567.4,669.5 1568.3,650.1 1569.3,632.9 1570.3,617.8 1571.3,604.9 1572.2,593.1 1573.2,583.0 1574.9,569.9 1576.5,559.6 1578.2,551.8 1579.8,546.1 1581.5,541.5 1583.1,538.0 1584.8,535.5 1586.5,533.7 1588.1,532.6 1589.8,531.7 1591.4,531.3 1593.5,531.9 1595.7,533.1 1597.8,535.0 1599.9,537.1 1602.0,539.4 1604.2,541.8 1606.3,544.3 1608.4,546.9 1610.5,549.5 1612.6,552.1 1614.8,554.7 1616.9,557.3 1619.0,559.9 1621.1,562.4 1623.2,565.0 1624.0,550.7 1624.8,536.0 1625.6,520.9 1626.4,504.7 1627.1,488.3 1627.9,474.8 1628.7,462.6 1629.5,451.9 1630.2,443.1 1631.0,436.2 1631.8,430.1 1632.6,425.3 1633.4,422.1 1635.0,418.4 1636.7,415.7 1638.4,413.8 1640.1,412.0 1641.8,410.3 1643.5,409.1 1645.2,408.4 1646.9,408.0 1649.1,409.1 1651.4,411.1 1653.7,414.4 1656.0,418.1 1658.3,422.2 1660.5,426.5 1662.8,430.9 1665.1,435.6 1667.4,440.2 1669.7,444.8 1672.0,449.3 1674.2,453.9 1676.5,458.5 1678.8,463.1 1681.1,467.6 1681.9,455.4 1682.6,442.9 1683.4,430.1 1684.2,416.2 1685.0,402.3 1685.8,390.7 1686.5,380.4 1687.3,371.2 1688.1,363.7 1688.9,357.9 1689.6,352.8 1690.4,348.7 1691.2,345.9 1692.6,342.8 1694.0,340.5 1695.4,338.8 1696.7,337.2 1698.1,335.8 1699.5,334.8 1700.9,334.1 1702.3,333.8 1704.7,335.2 1707.2,337.9 1709.6,342.3 1712.1,347.1 1714.5,352.5 1716.9,358.1 1719.4,363.9 1721.8,370.0 1724.3,376.1 1726.7,382.1 1729.2,388.1 1731.6,394.1 1734.0,400.1 1736.5,406.1 1738.9,412.1 1739.7,400.9 1740.5,389.3 1741.3,377.5 1742.0,364.7 1742.8,351.9 1743.6,341.2 1744.4,331.7 1745.1,323.2 1745.9,316.3 1746.7,311.0 1747.5,306.3 1748.3,302.5 1749.0,299.9 1750.2,297.1 1751.5,295.0 1752.7,293.3 1753.9,291.9 1755.1,290.5 1756.3,289.6 1757.5,289.1 1758.7,288.8 1761.2,290.4 1763.8,293.6 1766.3,298.7 1768.8,304.4 1771.4,310.8 1773.9,317.4 1776.5,324.3 1779.0,331.5 1781.5,338.7 1784.1,345.7 1786.6,352.8 1789.1,359.9 1791.7,367.0 1794.2,374.1 1796.8,381.2 1797.5,370.0 1798.3,358.5 1799.1,346.8 1799.9,334.1 1800.7,321.4 1801.4,310.8 1802.2,301.3 1803.0,292.9 1803.8,286.0 1804.5,280.8 1805.3,276.2 1806.1,272.5 1806.9,269.7 1808.0,267.0 1809.1,265.0 1810.2,263.3 1811.3,261.8 1812.5,260.5 1813.6,259.6 1814.7,259.0 1815.8,258.7 1818.4,260.5 1821.0,264.0 1823.6,269.7 1826.1,276.0 1828.7,283.0 1831.3,290.3 1833.9,297.9 1836.5,305.8 1839.1,313.8 1841.7,321.6 1844.3,329.4 1846.8,337.2 1849.4,345.0 1852.0,352.9 1854.6,360.7 1855.4,350.1 1856.2,339.2 1856.9,328.1 1857.7,316.1 1858.5,304.0 1859.3,294.0 1860.1,285.0 1860.8,277.0 1861.6,270.5 1862.4,265.5 1863.2,261.2 1863.9,257.7 1864.7,255.1 1865.8,252.5 1866.8,250.5 1867.9,248.9 1868.9,247.5 1870.0,246.3 1871.0,245.4 1872.1,244.9 1873.2,244.6 1875.8,246.5 1878.4,250.0 1881.0,255.8 1883.6,262.2 1886.3,269.4 1888.9,276.8 1891.5,284.5 1894.1,292.6 1896.7,300.6 1899.3,308.6 1902.0,316.6 1904.6,324.5 1907.2,332.5 1909.8,340.4 1912.4,348.4 1913.2,338.1 1914.0,327.6 1914.8,316.8 1915.6,305.2 1916.3,293.5 1917.1,283.8 1917.9,275.1 1918.7,267.4 1919.4,261.1 1920.2,256.2 1921.0,252.0 1921.8,248.6 1922.6,246.1 1923.6,243.7 1924.6,241.7 1925.6,240.2 1926.7,238.8 1927.7,237.6 1928.7,236.8 1929.7,236.2 1930.8,236.0 1933.4,237.9 1936.0,241.5 1938.7,247.4 1941.3,254.0 1943.9,261.2 1946.6,268.8 1949.2,276.7 1951.8,285.0 1954.5,293.2 1957.1,301.4 1959.7,309.5 1962.4,317.6 1965.0,325.8 1967.6,333.9 1970.3,342.0 1971.1,331.8 1971.8,321.3 1972.6,310.5 1973.4,298.8 1974.2,287.1 1975.0,277.4 1975.7,268.7 1976.5,261.0 1977.3,254.7 1978.1,249.9 1978.8,245.7 1979.6,242.3 1980.4,239.7 1981.4,237.3 1982.4,235.4 1983.4,233.8 1984.4,232.5 1985.4,231.2 1986.4,230.4 1987.4,229.9 1988.4,229.6 1991.0,231.5 1993.7,235.2 1996.3,241.2 1999.0,247.8 2001.6,255.1 2004.3,262.7 2006.9,270.7 2009.6,279.0 2012.2,287.3 2014.9,295.5 2017.5,303.7 2020.2,311.9 2022.8,320.1 2025.5,328.3 2028.1,336.5 2028.9,326.4 2029.7,316.1 2030.5,305.5 2031.2,294.1 2032.0,282.6 2032.8,273.1 2033.6,264.5 2034.3,256.9 2035.1,250.8 2035.9,246.0 2036.7,241.9 2037.5,238.6 2038.2,236.1 2039.2,233.7 2040.2,231.8 2041.2,230.2 2042.2,228.9 2043.2,227.7 2044.2,226.9 2045.2,226.4 2046.2,226.1 2048.8,228.0 2051.5,231.7 2054.1,237.7 2056.8,244.3 2059.5,251.7 2062.1,259.4 2064.8,267.4 2067.4,275.7 2070.1,284.1 2072.7,292.3 2075.4,300.5 2078.0,308.8 2080.7,317.0 2083.3,325.2 2086.0,333.4 2086.7,323.5 2087.5,313.3 2088.3,302.8 2089.1,291.5 2089.9,280.1 2090.6,270.7 2091.4,262.2 2092.2,254.7 2093.0,248.6 2093.7,243.9 2094.5,239.8 2095.3,236.5 2096.1,234.0 2097.1,231.7 2098.1,229.8 2099.1,228.3 2100.1,227.0 2101.1,225.8 2102.0,225.0 2103.0,224.5 2104.0,224.2 2106.7,226.1 2109.3,229.8 2112.0,235.8 2114.6,242.5 2117.3,249.8 2119.9,257.5 2122.6,265.6 2125.2,273.9 2127.9,282.3 2130.5,290.5 2133.2,298.8 2135.8,307.0 2138.5,315.3 2141.1,323.5 2143.8,331.8 2144.6,321.9 2145.4,311.7 2146.1,301.3 2146.9,290.1 2147.7,278.7 2148.5,269.3 2149.3,260.9 2150.0,253.5 2150.8,247.4 2151.6,242.7 2152.4,238.7 2153.1,235.4 2153.9,232.9 2154.9,230.6 2155.9,228.7 2156.9,227.2 2157.9,225.9 2158.9,224.7 2159.9,223.9 2160.9,223.4 2161.9,223.1 2164.5,225.1 2167.2,228.8 2169.8,234.8 2172.5,241.4 2175.1,248.8 2177.8,256.5 2180.4,264.6 2183.1,272.9 2185.7,281.3 2188.4,289.6 2191.0,297.8 2193.7,306.1 2196.3,314.3 2199.0,322.6 2201.6,330.8 2202.4,321.0 2203.2,310.8 2204.0,300.4 2204.8,289.3 2205.5,278.0 2206.3,268.6 2207.1,260.2 2207.9,252.8 2208.6,246.7 2209.4,242.1 2210.2,238.1 2211.0,234.8 2211.8,232.3 2212.8,230.0 2213.8,228.1 2214.7,226.6 2215.7,225.3 2216.7,224.1 2217.7,223.3 2218.7,222.8 2219.7,222.6 2222.4,224.5 2225.0,228.2 2227.7,234.2 2230.3,240.9 2233.0,248.3 2235.6,256.0 2238.3,264.0 2240.9,272.4 2243.6,280.8 2246.2,289.0 2248.9,297.3 2251.5,305.6 2254.2,313.8 2256.8,322.1 2259.5,330.3 2260.3,320.5 2261.0,310.3 2261.8,299.9 2262.6,288.7 2263.4,277.4 2264.2,268.0 2264.9,259.6 2265.7,252.2 2266.5,246.1 2267.3,241.4 2268.0,237.4 2268.8,234.1 2269.6,231.6 2270.6,229.3 2271.6,227.4 2272.6,225.9 2273.6,224.6 2274.6,223.4 2275.6,222.6 2276.6,222.1 2277.6,221.9 2280.2,223.8 2282.9,227.5 2285.5,233.5 2288.2,240.2 2290.8,247.6 2293.5,255.3 2296.1,263.3 2298.8,271.7 2301.4,280.1 2304.1,288.4 2306.7,296.6 2309.4,304.9 2312.0,313.2 2314.7,321.5 2317.3,329.7 2317.3,588.7 2314.5,583.1 2311.7,577.1 2308.9,570.7 2306.1,563.8 2303.3,556.9 2300.5,549.9 2297.7,542.9 2294.9,535.9 2292.1,528.9 2289.3,521.9 2286.5,514.8 2283.7,507.6 2280.9,501.1 2278.0,496.2 2275.2,493.6 2274.5,493.8 2273.8,494.2 2273.1,494.9 2272.4,496.0 2271.7,497.2 2271.0,498.6 2270.3,500.2 2269.6,502.1 2268.8,504.5 2268.0,507.4 2267.3,510.8 2266.5,514.8 2265.7,520.1 2264.9,526.7 2264.2,534.0 2263.4,542.2 2262.6,552.2 2261.8,562.0 2261.0,571.1 2260.3,580.0 2259.5,588.7 2256.7,583.1 2253.9,577.1 2251.1,570.7 2248.3,563.8 2245.5,556.9 2242.6,550.0 2239.8,543.0 2237.0,536.0 2234.2,529.0 2231.4,522.0 2228.6,514.8 2225.8,507.7 2223.0,501.2 2220.2,496.2 2217.4,493.6 2216.7,493.8 2216.0,494.3 2215.3,495.0 2214.6,496.0 2213.9,497.2 2213.2,498.6 2212.5,500.3 2211.8,502.2 2211.0,504.6 2210.2,507.4 2209.4,510.8 2208.6,514.8 2207.9,520.2 2207.1,526.7 2206.3,534.0 2205.5,542.3 2204.8,552.2 2204.0,562.0 2203.2,571.1 2202.4,580.0 2201.6,588.7 2198.8,583.1 2196.0,577.1 2193.2,570.7 2190.4,563.8 2187.6,556.9 2184.8,550.0 2182.0,543.0 2179.2,536.0 2176.4,529.0 2173.6,522.0 2170.8,514.8 2168.0,507.7 2165.2,501.2 2162.4,496.3 2159.6,493.7 2158.9,493.9 2158.2,494.3 2157.4,495.0 2156.7,496.1 2156.0,497.2 2155.3,498.7 2154.6,500.3 2153.9,502.2 2153.1,504.6 2152.4,507.4 2151.6,510.8 2150.8,514.9 2150.0,520.2 2149.3,526.7 2148.5,534.1 2147.7,542.3 2146.9,552.2 2146.1,562.0 2145.4,571.1 2144.6,580.0 2143.8,588.7 2141.0,583.1 2138.2,577.2 2135.4,570.7 2132.6,563.8 2129.8,556.9 2127.0,550.0 2124.2,543.0 2121.4,536.0 2118.6,529.0 2115.7,522.0 2112.9,514.9 2110.1,507.8 2107.3,501.3 2104.5,496.3 2101.7,493.7 2101.0,494.0 2100.3,494.4 2099.6,495.1 2098.9,496.1 2098.2,497.3 2097.5,498.7 2096.8,500.4 2096.1,502.3 2095.3,504.7 2094.5,507.5 2093.7,510.9 2093.0,514.9 2092.2,520.2 2091.4,526.8 2090.6,534.1 2089.9,542.3 2089.1,552.2 2088.3,562.0 2087.5,571.2 2086.7,580.0 2086.0,588.7 2083.2,583.1 2080.3,577.2 2077.5,570.7 2074.7,563.9 2071.9,557.0 2069.1,550.0 2066.3,543.1 2063.5,536.1 2060.7,529.1 2057.9,522.1 2055.1,515.0 2052.3,507.9 2049.5,501.4 2046.7,496.4 2043.9,493.8 2043.2,494.1 2042.5,494.5 2041.8,495.2 2041.1,496.2 2040.4,497.4 2039.7,498.8 2038.9,500.5 2038.2,502.4 2037.5,504.8 2036.7,507.6 2035.9,511.0 2035.1,515.0 2034.3,520.3 2033.6,526.9 2032.8,534.2 2032.0,542.4 2031.2,552.3 2030.5,562.1 2029.7,571.2 2028.9,580.1 2028.1,588.7 2025.3,583.1 2022.5,577.2 2019.7,570.8 2016.9,563.9 2014.1,557.0 2011.3,550.1 2008.5,543.2 2005.7,536.2 2002.9,529.3 2000.1,522.3 1997.3,515.2 1994.5,508.1 1991.7,501.6 1988.8,496.7 1986.0,494.1 1985.3,494.3 1984.6,494.7 1983.9,495.4 1983.2,496.5 1982.5,497.6 1981.8,499.1 1981.1,500.7 1980.4,502.6 1979.6,505.0 1978.8,507.8 1978.1,511.2 1977.3,515.2 1976.5,520.5 1975.7,527.0 1975.0,534.3 1974.2,542.5 1973.4,552.4 1972.6,562.1 1971.8,571.2 1971.1,580.1 1970.3,588.7 1967.5,583.2 1964.7,577.2 1961.9,570.8 1959.1,564.0 1956.3,557.2 1953.5,550.3 1950.7,543.4 1947.9,536.4 1945.1,529.5 1942.3,522.6 1939.5,515.5 1936.7,508.4 1933.9,502.0 1931.1,497.1 1928.2,494.5 1927.5,494.7 1926.8,495.1 1926.1,495.8 1925.4,496.9 1924.7,498.0 1924.0,499.4 1923.3,501.1 1922.6,503.0 1921.8,505.3 1921.0,508.1 1920.2,511.5 1919.4,515.5 1918.7,520.8 1917.9,527.3 1917.1,534.5 1916.3,542.7 1915.6,552.5 1914.8,562.2 1914.0,571.3 1913.2,580.1 1912.4,588.7 1909.7,583.2 1906.9,577.4 1904.1,571.0 1901.3,564.3 1898.5,557.5 1895.7,550.7 1892.9,543.8 1890.1,537.0 1887.3,530.1 1884.5,523.2 1881.8,516.2 1879.0,509.2 1876.2,502.8 1873.4,497.9 1870.6,495.4 1869.9,495.6 1869.1,496.0 1868.4,496.7 1867.7,497.8 1866.9,498.9 1866.2,500.3 1865.5,502.0 1864.7,503.8 1863.9,506.2 1863.2,509.0 1862.4,512.3 1861.6,516.3 1860.8,521.6 1860.1,528.0 1859.3,535.3 1858.5,543.4 1857.7,553.1 1856.9,562.8 1856.2,571.8 1855.4,580.6 1854.6,589.1 1851.8,583.8 1849.1,578.1 1846.3,571.9 1843.5,565.3 1840.8,558.7 1838.0,552.1 1835.3,545.4 1832.5,538.7 1829.7,532.0 1827.0,525.3 1824.2,518.4 1821.4,511.6 1818.7,505.4 1815.9,500.6 1813.1,498.1 1812.4,498.3 1811.6,498.8 1810.8,499.5 1810.0,500.4 1809.2,501.6 1808.4,502.9 1807.7,504.5 1806.9,506.4 1806.1,508.6 1805.3,511.4 1804.5,514.7 1803.8,518.6 1803.0,523.8 1802.2,530.1 1801.4,537.2 1800.7,545.2 1799.9,554.8 1799.1,564.2 1798.3,573.1 1797.5,581.7 1796.8,590.1 1794.0,585.0 1791.3,579.6 1788.6,573.8 1785.8,567.5 1783.1,561.3 1780.4,555.0 1777.6,548.7 1774.9,542.4 1772.2,536.0 1769.4,529.7 1766.7,523.2 1764.0,516.8 1761.3,510.9 1758.5,506.4 1755.8,504.0 1754.9,504.3 1754.1,504.7 1753.3,505.4 1752.4,506.3 1751.6,507.4 1750.7,508.7 1749.9,510.3 1749.0,512.2 1748.3,514.4 1747.5,517.1 1746.7,520.4 1745.9,524.3 1745.1,529.3 1744.4,535.6 1743.6,542.6 1742.8,550.4 1742.0,559.8 1741.3,569.2 1740.5,577.9 1739.7,586.4 1738.9,594.6 1736.3,590.1 1733.6,585.3 1730.9,580.0 1728.3,574.5 1725.6,568.9 1722.9,563.3 1720.3,557.6 1717.6,552.0 1714.9,546.3 1712.2,540.6 1709.6,534.8 1706.9,529.1 1704.2,523.8 1701.6,519.8 1698.9,517.7 1698.0,517.9 1697.0,518.3 1696.0,519.0 1695.1,519.9 1694.1,521.0 1693.1,522.3 1692.2,523.8 1691.2,525.7 1690.4,527.7 1689.6,530.4 1688.9,533.7 1688.1,537.5 1687.3,542.5 1686.5,548.6 1685.8,555.4 1685.0,563.1 1684.2,572.4 1683.4,581.5 1682.6,590.1 1681.9,598.4 1681.1,606.4 1678.6,603.2 1676.1,599.8 1673.6,596.0 1671.1,592.0 1668.5,588.0 1666.0,584.0 1663.5,580.0 1661.0,575.9 1658.5,571.9 1656.0,567.8 1653.5,563.6 1651.0,559.5 1648.5,555.8 1646.0,552.9 1643.5,551.4 1642.2,551.6 1641.0,552.0 1639.7,552.7 1638.4,553.7 1637.2,554.8 1635.9,556.0 1634.6,557.6 1633.4,559.6 1632.6,561.6 1631.8,564.4 1631.0,567.9 1630.2,571.9 1629.5,577.1 1628.7,583.4 1627.9,590.5 1627.1,598.4 1626.4,608.0 1625.6,617.5 1624.8,626.3 1624.0,634.9 1623.2,643.3 1621.0,642.0 1618.7,640.7 1616.5,639.2 1614.2,637.6 1612.0,636.0 1609.7,634.4 1607.5,632.8 1605.2,631.2 1603.0,629.6 1600.7,628.0 1598.5,626.3 1596.2,624.7 1594.0,623.2 1591.7,622.1 1589.5,621.5 1588.0,621.7 1586.4,622.1 1584.9,622.7 1583.4,623.7 1581.8,625.0 1580.3,626.9 1578.8,629.4 1577.2,632.5 1575.7,636.7 1574.2,642.2 1572.6,649.3 1571.7,654.7 1570.8,661.1 1569.9,668.0 1569.0,676.1 1568.1,685.4 1567.2,695.8 1566.3,708.7 1565.4,726.6" fill="#FDC0C0"/>
<polyline points="1565.4,726.6 1566.4,701.6 1567.4,683.7 1568.4,669.2 1569.4,656.3 1570.4,645.0 1571.4,635.3 1572.4,626.4 1573.4,618.8 1575.0,609.0 1576.7,601.2 1578.4,595.4 1580.1,591.1 1581.8,587.6 1583.5,585.0 1585.2,583.2 1586.8,581.8 1588.5,581.0 1590.2,580.3 1591.9,580.0 1594.0,580.4 1596.1,581.3 1598.2,582.5 1600.3,584.0 1602.4,585.7 1604.4,587.5 1606.5,589.4 1608.6,591.5 1610.7,593.7 1612.8,596.0 1614.9,598.1 1617.0,600.1 1619.1,602.1 1621.2,604.0 1623.2,606.0 1624.1,600.0 1624.9,592.3 1625.8,582.5 1626.7,571.6 1627.5,560.8 1628.4,550.1 1629.2,540.7 1630.1,532.6 1630.9,525.2 1631.8,518.2 1632.6,511.2 1633.5,503.7 1634.3,498.3 1635.6,494.1 1636.9,491.0 1638.1,488.7 1639.4,486.9 1640.7,485.4 1641.9,484.4 1643.2,483.8 1644.4,483.6 1646.9,484.3 1649.3,486.3 1651.8,489.2 1654.2,492.6 1656.7,496.5 1659.1,500.6 1661.5,504.9 1664.0,509.6 1666.4,514.7 1668.9,519.9 1671.3,524.7 1673.8,529.3 1676.2,533.8 1678.6,538.3 1681.1,542.7 1681.9,537.3 1682.8,530.4 1683.6,521.5 1684.5,511.7 1685.3,501.9 1686.2,492.2 1687.0,483.7 1687.9,476.4 1688.8,469.7 1689.6,463.4 1690.5,457.1 1691.3,450.4 1692.2,445.4 1693.2,441.8 1694.2,439.0 1695.2,436.8 1696.3,435.2 1697.3,433.8 1698.3,432.9 1699.3,432.4 1700.4,432.1 1702.9,433.2 1705.5,435.9 1708.1,439.8 1710.6,444.4 1713.2,449.7 1715.8,455.3 1718.4,461.2 1720.9,467.6 1723.5,474.5 1726.1,481.5 1728.6,488.1 1731.2,494.4 1733.8,500.5 1736.3,506.7 1738.9,512.7 1739.8,507.5 1740.6,500.9 1741.5,492.4 1742.3,483.0 1743.2,473.7 1744.0,464.5 1744.9,456.4 1745.7,449.4 1746.6,443.0 1747.4,436.9 1748.3,430.9 1749.2,424.7 1750.0,419.8 1750.9,416.4 1751.8,413.7 1752.7,411.6 1753.6,410.0 1754.5,408.7 1755.4,407.8 1756.3,407.3 1757.2,407.1 1759.9,408.3 1762.5,411.3 1765.1,415.6 1767.8,420.7 1770.4,426.6 1773.0,432.7 1775.7,439.3 1778.3,446.4 1781.0,454.1 1783.6,461.8 1786.2,469.1 1788.9,476.0 1791.5,482.8 1794.1,489.6 1796.8,496.3 1797.6,491.2 1798.5,484.8 1799.3,476.5 1800.2,467.3 1801.0,458.2 1801.9,449.1 1802.7,441.2 1803.6,434.4 1804.4,428.1 1805.3,422.2 1806.1,416.3 1807.0,410.2 1807.8,405.4 1808.7,402.2 1809.5,399.5 1810.4,397.4 1811.2,395.8 1812.1,394.5 1812.9,393.7 1813.8,393.2 1814.6,393.0 1817.3,394.2 1819.9,397.5 1822.6,402.1 1825.3,407.6 1827.9,413.9 1830.6,420.5 1833.3,427.5 1835.9,435.1 1838.6,443.3 1841.3,451.6 1843.9,459.4 1846.6,466.8 1849.3,474.1 1851.9,481.4 1854.6,488.6 1855.5,483.5 1856.3,477.0 1857.2,468.7 1858.0,459.6 1858.9,450.4 1859.7,441.4 1860.6,433.5 1861.4,426.6 1862.3,420.4 1863.1,414.5 1864.0,408.6 1864.8,402.5 1865.7,397.6 1866.5,394.5 1867.3,391.8 1868.1,389.7 1868.9,388.1 1869.8,386.8 1870.6,386.0 1871.4,385.5 1872.2,385.2 1874.9,386.5 1877.6,389.8 1880.2,394.5 1882.9,400.1 1885.6,406.5 1888.3,413.3 1891.0,420.5 1893.7,428.1 1896.3,436.5 1899.0,445.0 1901.7,452.9 1904.4,460.5 1907.1,468.0 1909.8,475.3 1912.4,482.6 1913.3,477.7 1914.1,471.4 1915.0,463.2 1915.9,454.3 1916.7,445.4 1917.6,436.5 1918.4,428.8 1919.3,422.1 1920.1,416.0 1921.0,410.2 1921.8,404.4 1922.7,398.5 1923.5,393.7 1924.3,390.6 1925.1,388.0 1925.9,386.0 1926.7,384.4 1927.4,383.1 1928.2,382.3 1929.0,381.8 1929.8,381.6 1932.5,382.9 1935.2,386.2 1937.9,390.9 1940.6,396.6 1943.3,403.1 1946.0,409.9 1948.7,417.1 1951.4,424.9 1954.1,433.4 1956.8,441.9 1959.5,449.9 1962.2,457.6 1964.9,465.1 1967.6,472.6 1970.3,479.9 1971.1,475.0 1972.0,468.7 1972.8,460.6 1973.7,451.7 1974.5,442.8 1975.4,434.0 1976.2,426.3 1977.1,419.6 1978.0,413.5 1978.8,407.8 1979.7,402.1 1980.5,396.2 1981.4,391.4 1982.1,388.4 1982.9,385.8 1983.7,383.7 1984.5,382.1 1985.3,380.9 1986.0,380.1 1986.8,379.6 1987.6,379.4 1990.3,380.7 1993.0,384.0 1995.7,388.8 1998.4,394.5 2001.1,401.0 2003.8,407.9 2006.5,415.3 2009.2,423.1 2011.9,431.6 2014.6,440.3 2017.3,448.4 2020.0,456.1 2022.7,463.7 2025.4,471.2 2028.1,478.7 2029.0,473.7 2029.8,467.5 2030.7,459.4 2031.5,450.5 2032.4,441.6 2033.2,432.8 2034.1,425.0 2034.9,418.4 2035.8,412.3 2036.6,406.6 2037.5,400.8 2038.4,394.9 2039.2,390.2 2040.0,387.1 2040.8,384.5 2041.5,382.4 2042.3,380.9 2043.1,379.6 2043.9,378.8 2044.6,378.3 2045.4,378.1 2048.1,379.4 2050.8,382.8 2053.5,387.6 2056.2,393.4 2058.9,399.9 2061.6,406.8 2064.3,414.2 2067.0,422.1 2069.7,430.7 2072.4,439.4 2075.2,447.5 2077.9,455.3 2080.6,462.9 2083.3,470.5 2086.0,478.0 2086.8,473.1 2087.7,466.8 2088.5,458.7 2089.4,449.8 2090.2,440.9 2091.1,432.1 2091.9,424.4 2092.8,417.7 2093.6,411.6 2094.5,405.9 2095.3,400.2 2096.2,394.3 2097.0,389.5 2097.8,386.4 2098.6,383.8 2099.4,381.8 2100.2,380.2 2100.9,379.0 2101.7,378.1 2102.5,377.7 2103.3,377.4 2106.0,378.7 2108.7,382.1 2111.4,387.0 2114.1,392.8 2116.8,399.3 2119.5,406.2 2122.2,413.7 2124.9,421.6 2127.6,430.2 2130.3,438.9 2133.0,447.1 2135.7,454.9 2138.4,462.5 2141.1,470.1 2143.8,477.6 2144.7,472.7 2145.5,466.4 2146.4,458.3 2147.2,449.4 2148.1,440.5 2148.9,431.7 2149.8,424.0 2150.6,417.3 2151.5,411.3 2152.3,405.5 2153.2,399.8 2154.0,393.9 2154.9,389.1 2155.7,386.1 2156.4,383.5 2157.2,381.4 2158.0,379.8 2158.8,378.6 2159.5,377.8 2160.3,377.3 2161.1,377.1 2163.8,378.4 2166.5,381.8 2169.2,386.6 2171.9,392.4 2174.6,399.0 2177.3,405.9 2180.0,413.3 2182.7,421.3 2185.4,429.9 2188.1,438.6 2190.8,446.8 2193.5,454.6 2196.2,462.3 2198.9,469.9 2201.6,477.4 2202.5,472.5 2203.3,466.2 2204.2,458.1 2205.1,449.2 2205.9,440.3 2206.8,431.5 2207.6,423.8 2208.5,417.1 2209.3,411.0 2210.2,405.3 2211.0,399.6 2211.9,393.7 2212.7,388.9 2213.5,385.9 2214.3,383.3 2215.1,381.2 2215.8,379.6 2216.6,378.4 2217.4,377.6 2218.2,377.1 2218.9,376.9 2221.6,378.2 2224.3,381.6 2227.1,386.4 2229.8,392.2 2232.5,398.8 2235.2,405.7 2237.9,413.2 2240.6,421.1 2243.3,429.7 2246.0,438.5 2248.7,446.7 2251.4,454.5 2254.1,462.2 2256.8,469.8 2259.5,477.3 2260.3,472.4 2261.2,466.1 2262.0,458.0 2262.9,449.1 2263.7,440.1 2264.6,431.3 2265.4,423.6 2266.3,416.9 2267.2,410.8 2268.0,405.1 2268.9,399.4 2269.7,393.5 2270.6,388.7 2271.3,385.6 2272.1,383.0 2272.9,380.9 2273.7,379.4 2274.5,378.1 2275.2,377.3 2276.0,376.8 2276.8,376.6 2279.5,377.9 2282.2,381.3 2284.9,386.2 2287.6,392.0 2290.3,398.6 2293.0,405.5 2295.7,413.0 2298.4,420.9 2301.1,429.5 2303.8,438.3 2306.5,446.5 2309.2,454.3 2311.9,462.0 2314.6,469.6 2317.3,477.2" fill="none" stroke="#F04144" stroke-width="8.33" stroke-linejoin="round" stroke-linecap="round"/>
<path d="M1563.8,590.06H2317.3" stroke="#808080" stroke-width="4.2" stroke-dasharray="24.9 26" fill="none"/>
<polygon points="1565.4,726.6 1565.6,717.1 1565.8,710.5 1566.1,704.8 1566.4,701.2 1566.8,697.6 1567.3,695.5 1568.1,693.8 1568.8,693.8 1569.5,695.7 1570.2,698.4 1571.2,701.6 1572.1,704.1 1573.1,706.1 1574.2,708.4 1575.3,710.3 1576.5,712.3 1577.7,714.0 1578.8,715.3 1579.9,716.5 1581.1,717.6 1582.3,718.6 1583.3,719.3 1585.2,720.3 1587.1,721.1 1589.5,721.8 1592.4,722.5 1595.8,723.1 1599.1,723.4 1604.0,723.8 1608.8,724.0 1616.0,724.2 1623.2,724.3 1623.4,715.2 1623.6,708.8 1623.9,703.6 1624.2,700.4 1624.7,697.6 1625.2,695.5 1625.9,693.8 1626.6,693.8 1627.3,695.7 1628.1,698.4 1629.0,701.6 1630.0,704.1 1631.0,706.1 1632.1,708.4 1633.1,710.3 1634.3,712.3 1635.5,714.0 1636.6,715.3 1637.7,716.5 1638.9,717.6 1640.1,718.6 1641.1,719.3 1643.0,720.3 1644.9,721.1 1647.3,721.8 1650.2,722.5 1653.6,723.1 1657.0,723.4 1661.8,723.8 1666.6,724.0 1673.9,724.2 1681.1,724.3 1681.3,715.2 1681.5,708.8 1681.8,703.6 1682.0,700.4 1682.5,697.6 1683.0,695.5 1683.7,693.8 1684.5,693.8 1685.2,695.7 1685.9,698.4 1686.9,701.6 1687.8,704.1 1688.8,706.1 1689.9,708.4 1691.0,710.3 1692.2,712.3 1693.4,714.0 1694.4,715.3 1695.5,716.5 1696.7,717.6 1698.0,718.6 1699.0,719.3 1700.8,720.3 1702.8,721.1 1705.2,721.8 1708.1,722.5 1711.4,723.1 1714.8,723.4 1719.6,723.8 1724.5,724.0 1731.7,724.2 1738.9,724.3 1739.1,715.2 1739.3,708.8 1739.6,703.6 1739.9,700.4 1740.4,697.6 1740.8,695.5 1741.6,693.8 1742.3,693.8 1743.0,695.7 1743.7,698.4 1744.7,701.6 1745.7,704.1 1746.6,706.1 1747.7,708.4 1748.8,710.3 1750.0,712.3 1751.2,714.0 1752.3,715.3 1753.4,716.5 1754.6,717.6 1755.8,718.6 1756.8,719.3 1758.7,720.3 1760.6,721.1 1763.0,721.8 1765.9,722.5 1769.3,723.1 1772.7,723.4 1777.5,723.8 1782.3,724.0 1789.5,724.2 1796.8,724.3 1797.0,715.2 1797.1,708.8 1797.4,703.6 1797.7,700.4 1798.2,697.6 1798.7,695.5 1799.4,693.8 1800.1,693.8 1800.9,695.7 1801.6,698.4 1802.5,701.6 1803.5,704.1 1804.5,706.1 1805.6,708.4 1806.6,710.3 1807.8,712.3 1809.1,714.0 1810.1,715.3 1811.2,716.5 1812.4,717.6 1813.6,718.6 1814.6,719.3 1816.5,720.3 1818.5,721.1 1820.9,721.8 1823.8,722.5 1827.1,723.1 1830.5,723.4 1835.3,723.8 1840.1,724.0 1847.4,724.2 1854.6,724.3 1854.8,715.2 1855.0,708.8 1855.3,703.6 1855.6,700.4 1856.0,697.6 1856.5,695.5 1857.3,693.8 1858.0,693.8 1858.7,695.7 1859.4,698.4 1860.4,701.6 1861.3,704.1 1862.3,706.1 1863.4,708.4 1864.5,710.3 1865.7,712.3 1866.9,714.0 1868.0,715.3 1869.1,716.5 1870.3,717.6 1871.5,718.6 1872.5,719.3 1874.4,720.3 1876.3,721.1 1878.7,721.8 1881.6,722.5 1885.0,723.1 1888.3,723.4 1893.2,723.8 1898.0,724.0 1905.2,724.2 1912.4,724.3 1912.6,715.2 1912.8,708.8 1913.1,703.6 1913.4,700.4 1913.9,697.6 1914.4,695.5 1915.1,693.8 1915.8,693.8 1916.5,695.7 1917.3,698.4 1918.2,701.6 1919.2,704.1 1920.2,706.1 1921.3,708.4 1922.3,710.3 1923.5,712.3 1924.7,714.0 1925.8,715.3 1926.9,716.5 1928.1,717.6 1929.3,718.6 1930.3,719.3 1932.2,720.3 1934.1,721.1 1936.5,721.8 1939.4,722.5 1942.8,723.1 1946.2,723.4 1951.0,723.8 1955.8,724.0 1963.1,724.2 1970.3,724.3 1970.5,715.2 1970.7,708.8 1971.0,703.6 1971.2,700.4 1971.7,697.6 1972.2,695.5 1972.9,693.8 1973.7,693.8 1974.4,695.7 1975.1,698.4 1976.1,701.6 1977.0,704.1 1978.0,706.1 1979.1,708.4 1980.2,710.3 1981.4,712.3 1982.6,714.0 1983.6,715.3 1984.7,716.5 1985.9,717.6 1987.2,718.6 1988.2,719.3 1990.0,720.3 1992.0,721.1 1994.4,721.8 1997.3,722.5 2000.6,723.1 2004.0,723.4 2008.8,723.8 2013.7,724.0 2020.9,724.2 2028.1,724.3 2028.3,715.2 2028.5,708.8 2028.8,703.6 2029.1,700.4 2029.6,697.6 2030.0,695.5 2030.8,693.8 2031.5,693.8 2032.2,695.7 2032.9,698.4 2033.9,701.6 2034.9,704.1 2035.8,706.1 2036.9,708.4 2038.0,710.3 2039.2,712.3 2040.4,714.0 2041.5,715.3 2042.6,716.5 2043.8,717.6 2045.0,718.6 2046.0,719.3 2047.9,720.3 2049.8,721.1 2052.2,721.8 2055.1,722.5 2058.5,723.1 2061.9,723.4 2066.7,723.8 2071.5,724.0 2078.7,724.2 2086.0,724.3 2086.2,715.2 2086.3,708.8 2086.6,703.6 2086.9,700.4 2087.4,697.6 2087.9,695.5 2088.6,693.8 2089.3,693.8 2090.1,695.7 2090.8,698.4 2091.7,701.6 2092.7,704.1 2093.7,706.1 2094.8,708.4 2095.8,710.3 2097.0,712.3 2098.3,714.0 2099.3,715.3 2100.4,716.5 2101.6,717.6 2102.8,718.6 2103.8,719.3 2105.7,720.3 2107.7,721.1 2110.1,721.8 2113.0,722.5 2116.3,723.1 2119.7,723.4 2124.5,723.8 2129.3,724.0 2136.6,724.2 2143.8,724.3 2144.0,715.2 2144.2,708.8 2144.5,703.6 2144.8,700.4 2145.2,697.6 2145.7,695.5 2146.5,693.8 2147.2,693.8 2147.9,695.7 2148.6,698.4 2149.6,701.6 2150.5,704.1 2151.5,706.1 2152.6,708.4 2153.7,710.3 2154.9,712.3 2156.1,714.0 2157.2,715.3 2158.3,716.5 2159.5,717.6 2160.7,718.6 2161.7,719.3 2163.6,720.3 2165.5,721.1 2167.9,721.8 2170.8,722.5 2174.2,723.1 2177.5,723.4 2182.4,723.8 2187.2,724.0 2194.4,724.2 2201.6,724.3 2201.8,715.2 2202.0,708.8 2202.3,703.6 2202.6,700.4 2203.1,697.6 2203.6,695.5 2204.3,693.8 2205.0,693.8 2205.7,695.7 2206.5,698.4 2207.4,701.6 2208.4,704.1 2209.4,706.1 2210.5,708.4 2211.5,710.3 2212.7,712.3 2213.9,714.0 2215.0,715.3 2216.1,716.5 2217.3,717.6 2218.5,718.6 2219.5,719.3 2221.4,720.3 2223.3,721.1 2225.7,721.8 2228.6,722.5 2232.0,723.1 2235.4,723.4 2240.2,723.8 2245.0,724.0 2252.2,724.2 2259.5,724.3 2259.7,715.2 2259.9,708.8 2260.2,703.6 2260.4,700.4 2260.9,697.6 2261.4,695.5 2262.1,693.8 2262.9,693.8 2263.6,695.7 2264.3,698.4 2265.3,701.6 2266.2,704.1 2267.2,706.1 2268.3,708.4 2269.4,710.3 2270.6,712.3 2271.8,714.0 2272.8,715.3 2273.9,716.5 2275.1,717.6 2276.4,718.6 2277.4,719.3 2279.2,720.3 2281.2,721.1 2283.6,721.8 2286.5,722.5 2289.8,723.1 2293.2,723.4 2298.0,723.8 2302.9,724.0 2310.1,724.2 2317.3,724.3 2317.3,724.3 2310.1,724.2 2302.9,724.0 2298.0,723.8 2293.2,723.4 2289.8,723.1 2286.5,722.5 2283.6,721.8 2281.2,721.1 2279.2,720.3 2277.4,719.3 2276.4,718.6 2275.1,717.6 2273.9,716.5 2272.8,715.3 2271.8,714.0 2270.6,712.3 2269.4,710.3 2268.3,708.5 2267.2,706.6 2266.2,705.4 2265.3,704.7 2264.3,704.4 2263.6,704.1 2262.9,703.7 2262.1,703.4 2261.4,703.2 2260.9,703.3 2260.4,704.3 2260.2,706.3 2259.9,710.4 2259.7,715.9 2259.5,724.3 2252.2,724.2 2245.0,724.0 2240.2,723.8 2235.4,723.4 2232.0,723.1 2228.6,722.5 2225.7,721.8 2223.3,721.1 2221.4,720.3 2219.5,719.3 2218.5,718.6 2217.3,717.6 2216.1,716.5 2215.0,715.3 2213.9,714.0 2212.7,712.3 2211.5,710.3 2210.5,708.5 2209.4,706.6 2208.4,705.4 2207.4,704.7 2206.5,704.4 2205.7,704.1 2205.0,703.7 2204.3,703.4 2203.6,703.2 2203.1,703.3 2202.6,704.3 2202.3,706.3 2202.0,710.4 2201.8,715.9 2201.6,724.3 2194.4,724.2 2187.2,724.0 2182.4,723.8 2177.5,723.4 2174.2,723.1 2170.8,722.5 2167.9,721.8 2165.5,721.1 2163.6,720.3 2161.7,719.3 2160.7,718.6 2159.5,717.6 2158.3,716.5 2157.2,715.3 2156.1,714.0 2154.9,712.3 2153.7,710.3 2152.6,708.5 2151.5,706.6 2150.5,705.4 2149.6,704.7 2148.6,704.4 2147.9,704.1 2147.2,703.7 2146.5,703.4 2145.7,703.2 2145.2,703.3 2144.8,704.3 2144.5,706.3 2144.2,710.4 2144.0,715.9 2143.8,724.3 2136.6,724.2 2129.3,724.0 2124.5,723.8 2119.7,723.4 2116.3,723.1 2113.0,722.5 2110.1,721.8 2107.7,721.1 2105.7,720.3 2103.8,719.3 2102.8,718.6 2101.6,717.6 2100.4,716.5 2099.3,715.3 2098.3,714.0 2097.0,712.3 2095.8,710.3 2094.8,708.5 2093.7,706.6 2092.7,705.4 2091.7,704.7 2090.8,704.4 2090.1,704.1 2089.3,703.7 2088.6,703.4 2087.9,703.2 2087.4,703.3 2086.9,704.3 2086.6,706.3 2086.3,710.4 2086.2,715.9 2086.0,724.3 2078.7,724.2 2071.5,724.0 2066.7,723.8 2061.9,723.4 2058.5,723.1 2055.1,722.5 2052.2,721.8 2049.8,721.1 2047.9,720.3 2046.0,719.3 2045.0,718.6 2043.8,717.6 2042.6,716.5 2041.5,715.3 2040.4,714.0 2039.2,712.3 2038.0,710.3 2036.9,708.5 2035.8,706.6 2034.9,705.4 2033.9,704.7 2032.9,704.4 2032.2,704.1 2031.5,703.7 2030.8,703.4 2030.0,703.2 2029.6,703.3 2029.1,704.3 2028.8,706.3 2028.5,710.4 2028.3,715.9 2028.1,724.3 2020.9,724.2 2013.7,724.0 2008.8,723.8 2004.0,723.4 2000.6,723.1 1997.3,722.5 1994.4,721.8 1992.0,721.1 1990.0,720.3 1988.2,719.3 1987.2,718.6 1985.9,717.6 1984.7,716.5 1983.6,715.3 1982.6,714.0 1981.4,712.3 1980.2,710.3 1979.1,708.5 1978.0,706.6 1977.0,705.4 1976.1,704.7 1975.1,704.4 1974.4,704.1 1973.7,703.7 1972.9,703.4 1972.2,703.2 1971.7,703.3 1971.2,704.3 1971.0,706.3 1970.7,710.4 1970.5,715.9 1970.3,724.3 1963.1,724.2 1955.8,724.0 1951.0,723.8 1946.2,723.4 1942.8,723.1 1939.4,722.5 1936.5,721.8 1934.1,721.1 1932.2,720.3 1930.3,719.3 1929.3,718.6 1928.1,717.6 1926.9,716.5 1925.8,715.3 1924.7,714.0 1923.5,712.3 1922.3,710.3 1921.3,708.5 1920.2,706.6 1919.2,705.4 1918.2,704.7 1917.3,704.4 1916.5,704.1 1915.8,703.7 1915.1,703.4 1914.4,703.2 1913.9,703.3 1913.4,704.3 1913.1,706.3 1912.8,710.4 1912.6,715.9 1912.4,724.3 1905.2,724.2 1898.0,724.0 1893.2,723.8 1888.3,723.4 1885.0,723.1 1881.6,722.5 1878.7,721.8 1876.3,721.1 1874.4,720.3 1872.5,719.3 1871.5,718.6 1870.3,717.6 1869.1,716.5 1868.0,715.3 1866.9,714.0 1865.7,712.3 1864.5,710.3 1863.4,708.5 1862.3,706.6 1861.3,705.4 1860.4,704.7 1859.4,704.4 1858.7,704.1 1858.0,703.7 1857.3,703.4 1856.5,703.2 1856.0,703.3 1855.6,704.3 1855.3,706.3 1855.0,710.4 1854.8,715.9 1854.6,724.3 1847.4,724.2 1840.1,724.0 1835.3,723.8 1830.5,723.4 1827.1,723.1 1823.8,722.5 1820.9,721.8 1818.5,721.1 1816.5,720.3 1814.6,719.3 1813.6,718.6 1812.4,717.6 1811.2,716.5 1810.1,715.3 1809.1,714.0 1807.8,712.3 1806.6,710.3 1805.6,708.5 1804.5,706.6 1803.5,705.4 1802.5,704.7 1801.6,704.4 1800.9,704.1 1800.1,703.7 1799.4,703.4 1798.7,703.2 1798.2,703.3 1797.7,704.3 1797.4,706.3 1797.1,710.4 1797.0,715.9 1796.8,724.3 1789.5,724.2 1782.3,724.0 1777.5,723.8 1772.7,723.4 1769.3,723.1 1765.9,722.5 1763.0,721.8 1760.6,721.1 1758.7,720.3 1756.8,719.3 1755.8,718.6 1754.6,717.6 1753.4,716.5 1752.3,715.3 1751.2,714.0 1750.0,712.3 1748.8,710.3 1747.7,708.5 1746.6,706.6 1745.7,705.4 1744.7,704.7 1743.7,704.4 1743.0,704.1 1742.3,703.7 1741.6,703.4 1740.8,703.2 1740.4,703.3 1739.9,704.3 1739.6,706.3 1739.3,710.4 1739.1,715.9 1738.9,724.3 1731.7,724.2 1724.5,724.0 1719.6,723.8 1714.8,723.4 1711.4,723.1 1708.1,722.5 1705.2,721.8 1702.8,721.1 1700.8,720.3 1699.0,719.3 1698.0,718.6 1696.7,717.6 1695.5,716.5 1694.4,715.3 1693.4,714.0 1692.2,712.3 1691.0,710.3 1689.9,708.5 1688.8,706.6 1687.8,705.4 1686.9,704.7 1685.9,704.4 1685.2,704.1 1684.5,703.7 1683.7,703.4 1683.0,703.2 1682.5,703.3 1682.0,704.3 1681.8,706.3 1681.5,710.4 1681.3,715.9 1681.1,724.3 1673.9,724.2 1666.6,724.0 1661.8,723.8 1657.0,723.4 1653.6,723.1 1650.2,722.5 1647.3,721.8 1644.9,721.1 1643.0,720.3 1641.1,719.3 1640.1,718.6 1638.9,717.6 1637.7,716.5 1636.6,715.3 1635.5,714.0 1634.3,712.3 1633.1,710.3 1632.1,708.5 1631.0,706.6 1630.0,705.4 1629.0,704.7 1628.1,704.4 1627.3,704.1 1626.6,703.7 1625.9,703.4 1625.2,703.2 1624.7,703.3 1624.2,704.3 1623.9,706.3 1623.6,710.4 1623.4,715.9 1623.2,724.3 1616.0,724.2 1608.8,724.0 1604.0,723.8 1599.1,723.4 1595.8,723.1 1592.4,722.5 1589.5,721.8 1587.1,721.1 1585.2,720.3 1583.3,719.3 1582.3,718.6 1581.1,717.6 1579.9,716.5 1578.8,715.3 1577.7,714.0 1576.5,712.3 1575.3,710.3 1574.2,708.5 1573.1,706.6 1572.1,705.4 1571.2,704.7 1570.2,704.4 1569.5,704.1 1568.8,703.7 1568.1,703.4 1567.3,703.2 1566.8,703.3 1566.4,705.0 1566.1,707.5 1565.8,712.0 1565.6,717.9 1565.4,726.6" fill="#C4CCFF"/>
<polyline points="1565.4,726.6 1565.6,717.6 1565.8,711.5 1566.1,706.6 1566.4,703.9 1566.8,701.6 1567.3,700.9 1568.1,700.4 1568.8,700.2 1569.5,700.6 1570.2,701.3 1571.2,702.6 1572.1,704.3 1573.1,706.2 1574.2,708.4 1575.3,710.3 1576.5,712.3 1577.7,714.0 1578.8,715.3 1579.9,716.5 1581.1,717.6 1582.3,718.6 1583.3,719.3 1585.2,720.3 1587.1,721.1 1589.5,721.8 1592.4,722.5 1595.8,723.1 1599.1,723.4 1604.0,723.8 1608.8,724.0 1616.0,724.2 1623.2,724.3 1623.4,715.7 1623.6,709.9 1623.9,705.4 1624.2,703.1 1624.7,701.6 1625.2,700.9 1625.9,700.4 1626.6,700.2 1627.3,700.6 1628.1,701.3 1629.0,702.6 1630.0,704.3 1631.0,706.2 1632.1,708.4 1633.1,710.3 1634.3,712.3 1635.5,714.0 1636.6,715.3 1637.7,716.5 1638.9,717.6 1640.1,718.6 1641.1,719.3 1643.0,720.3 1644.9,721.1 1647.3,721.8 1650.2,722.5 1653.6,723.1 1657.0,723.4 1661.8,723.8 1666.6,724.0 1673.9,724.2 1681.1,724.3 1681.3,715.7 1681.5,709.9 1681.8,705.4 1682.0,703.1 1682.5,701.6 1683.0,700.9 1683.7,700.4 1684.5,700.2 1685.2,700.6 1685.9,701.3 1686.9,702.6 1687.8,704.3 1688.8,706.2 1689.9,708.4 1691.0,710.3 1692.2,712.3 1693.4,714.0 1694.4,715.3 1695.5,716.5 1696.7,717.6 1698.0,718.6 1699.0,719.3 1700.8,720.3 1702.8,721.1 1705.2,721.8 1708.1,722.5 1711.4,723.1 1714.8,723.4 1719.6,723.8 1724.5,724.0 1731.7,724.2 1738.9,724.3 1739.1,715.7 1739.3,709.9 1739.6,705.4 1739.9,703.1 1740.4,701.6 1740.8,700.9 1741.6,700.4 1742.3,700.2 1743.0,700.6 1743.7,701.3 1744.7,702.6 1745.7,704.3 1746.6,706.2 1747.7,708.4 1748.8,710.3 1750.0,712.3 1751.2,714.0 1752.3,715.3 1753.4,716.5 1754.6,717.6 1755.8,718.6 1756.8,719.3 1758.7,720.3 1760.6,721.1 1763.0,721.8 1765.9,722.5 1769.3,723.1 1772.7,723.4 1777.5,723.8 1782.3,724.0 1789.5,724.2 1796.8,724.3 1797.0,715.7 1797.1,709.9 1797.4,705.4 1797.7,703.1 1798.2,701.6 1798.7,700.9 1799.4,700.4 1800.1,700.2 1800.9,700.6 1801.6,701.3 1802.5,702.6 1803.5,704.3 1804.5,706.2 1805.6,708.4 1806.6,710.3 1807.8,712.3 1809.1,714.0 1810.1,715.3 1811.2,716.5 1812.4,717.6 1813.6,718.6 1814.6,719.3 1816.5,720.3 1818.5,721.1 1820.9,721.8 1823.8,722.5 1827.1,723.1 1830.5,723.4 1835.3,723.8 1840.1,724.0 1847.4,724.2 1854.6,724.3 1854.8,715.7 1855.0,709.9 1855.3,705.4 1855.6,703.1 1856.0,701.6 1856.5,700.9 1857.3,700.4 1858.0,700.2 1858.7,700.6 1859.4,701.3 1860.4,702.6 1861.3,704.3 1862.3,706.2 1863.4,708.4 1864.5,710.3 1865.7,712.3 1866.9,714.0 1868.0,715.3 1869.1,716.5 1870.3,717.6 1871.5,718.6 1872.5,719.3 1874.4,720.3 1876.3,721.1 1878.7,721.8 1881.6,722.5 1885.0,723.1 1888.3,723.4 1893.2,723.8 1898.0,724.0 1905.2,724.2 1912.4,724.3 1912.6,715.7 1912.8,709.9 1913.1,705.4 1913.4,703.1 1913.9,701.6 1914.4,700.9 1915.1,700.4 1915.8,700.2 1916.5,700.6 1917.3,701.3 1918.2,702.6 1919.2,704.3 1920.2,706.2 1921.3,708.4 1922.3,710.3 1923.5,712.3 1924.7,714.0 1925.8,715.3 1926.9,716.5 1928.1,717.6 1929.3,718.6 1930.3,719.3 1932.2,720.3 1934.1,721.1 1936.5,721.8 1939.4,722.5 1942.8,723.1 1946.2,723.4 1951.0,723.8 1955.8,724.0 1963.1,724.2 1970.3,724.3 1970.5,715.7 1970.7,709.9 1971.0,705.4 1971.2,703.1 1971.7,701.6 1972.2,700.9 1972.9,700.4 1973.7,700.2 1974.4,700.6 1975.1,701.3 1976.1,702.6 1977.0,704.3 1978.0,706.2 1979.1,708.4 1980.2,710.3 1981.4,712.3 1982.6,714.0 1983.6,715.3 1984.7,716.5 1985.9,717.6 1987.2,718.6 1988.2,719.3 1990.0,720.3 1992.0,721.1 1994.4,721.8 1997.3,722.5 2000.6,723.1 2004.0,723.4 2008.8,723.8 2013.7,724.0 2020.9,724.2 2028.1,724.3 2028.3,715.7 2028.5,709.9 2028.8,705.4 2029.1,703.1 2029.6,701.6 2030.0,700.9 2030.8,700.4 2031.5,700.2 2032.2,700.6 2032.9,701.3 2033.9,702.6 2034.9,704.3 2035.8,706.2 2036.9,708.4 2038.0,710.3 2039.2,712.3 2040.4,714.0 2041.5,715.3 2042.6,716.5 2043.8,717.6 2045.0,718.6 2046.0,719.3 2047.9,720.3 2049.8,721.1 2052.2,721.8 2055.1,722.5 2058.5,723.1 2061.9,723.4 2066.7,723.8 2071.5,724.0 2078.7,724.2 2086.0,724.3 2086.2,715.7 2086.3,709.9 2086.6,705.4 2086.9,703.1 2087.4,701.6 2087.9,700.9 2088.6,700.4 2089.3,700.2 2090.1,700.6 2090.8,701.3 2091.7,702.6 2092.7,704.3 2093.7,706.2 2094.8,708.4 2095.8,710.3 2097.0,712.3 2098.3,714.0 2099.3,715.3 2100.4,716.5 2101.6,717.6 2102.8,718.6 2103.8,719.3 2105.7,720.3 2107.7,721.1 2110.1,721.8 2113.0,722.5 2116.3,723.1 2119.7,723.4 2124.5,723.8 2129.3,724.0 2136.6,724.2 2143.8,724.3 2144.0,715.7 2144.2,709.9 2144.5,705.4 2144.8,703.1 2145.2,701.6 2145.7,700.9 2146.5,700.4 2147.2,700.2 2147.9,700.6 2148.6,701.3 2149.6,702.6 2150.5,704.3 2151.5,706.2 2152.6,708.4 2153.7,710.3 2154.9,712.3 2156.1,714.0 2157.2,715.3 2158.3,716.5 2159.5,717.6 2160.7,718.6 2161.7,719.3 2163.6,720.3 2165.5,721.1 2167.9,721.8 2170.8,722.5 2174.2,723.1 2177.5,723.4 2182.4,723.8 2187.2,724.0 2194.4,724.2 2201.6,724.3 2201.8,715.7 2202.0,709.9 2202.3,705.4 2202.6,703.1 2203.1,701.6 2203.6,700.9 2204.3,700.4 2205.0,700.2 2205.7,700.6 2206.5,701.3 2207.4,702.6 2208.4,704.3 2209.4,706.2 2210.5,708.4 2211.5,710.3 2212.7,712.3 2213.9,714.0 2215.0,715.3 2216.1,716.5 2217.3,717.6 2218.5,718.6 2219.5,719.3 2221.4,720.3 2223.3,721.1 2225.7,721.8 2228.6,722.5 2232.0,723.1 2235.4,723.4 2240.2,723.8 2245.0,724.0 2252.2,724.2 2259.5,724.3 2259.7,715.7 2259.9,709.9 2260.2,705.4 2260.4,703.1 2260.9,701.6 2261.4,700.9 2262.1,700.4 2262.9,700.2 2263.6,700.6 2264.3,701.3 2265.3,702.6 2266.2,704.3 2267.2,706.2 2268.3,708.4 2269.4,710.3 2270.6,712.3 2271.8,714.0 2272.8,715.3 2273.9,716.5 2275.1,717.6 2276.4,718.6 2277.4,719.3 2279.2,720.3 2281.2,721.1 2283.6,721.8 2286.5,722.5 2289.8,723.1 2293.2,723.4 2298.0,723.8 2302.9,724.0 2310.1,724.2 2317.3,724.3" fill="none" stroke="#2040FF" stroke-width="8.33" stroke-linejoin="round" stroke-linecap="round"/>
<path d="M1567.1,709.2V726.6M1625.0,709.2V726.6M1682.8,709.2V726.6M1740.7,709.2V726.6M1798.5,709.2V726.6M1856.3,709.2V726.6M1914.2,709.2V726.6M1972.0,709.2V726.6M2029.9,709.2V726.6M2087.7,709.2V726.6M2145.5,709.2V726.6M2203.4,709.2V726.6M2261.2,709.2V726.6" stroke="#93A3FF" stroke-width="1.3" fill="none"/>
</g>
<path d="M1565.30,41.50V729.00" stroke="#000" stroke-width="4.8" fill="none"/>
<path d="M1563.00,726.60H2339.00" stroke="#000" stroke-width="4.8" fill="none"/>
<text x="1542.8" y="739.3" text-anchor="end">0</text>
<text x="1542.8" y="511.7" text-anchor="end">5</text>
<text x="1542.8" y="284.2" text-anchor="end">10</text>
<text x="1542.8" y="56.6" text-anchor="end">15</text>
<text x="1565.4" y="782.1" text-anchor="middle">0</text>
<text x="1681.1" y="782.1" text-anchor="middle">24</text>
<text x="1796.8" y="782.1" text-anchor="middle">48</text>
<text x="1912.4" y="782.1" text-anchor="middle">72</text>
<text x="2028.1" y="782.1" text-anchor="middle">96</text>
<text x="2143.8" y="782.1" text-anchor="middle">120</text>
<text x="2259.5" y="782.1" text-anchor="middle">144</text>
<path d="M1551.60,726.60H1565.40M1551.60,499.03H1565.40M1551.60,271.47H1565.40M1551.60,43.90H1565.40M1565.40,726.60V739.80M1681.08,726.60V739.80M1796.76,726.60V739.80M1912.44,726.60V739.80M2028.12,726.60V739.80M2143.80,726.60V739.80M2259.48,726.60V739.80" stroke="#000" stroke-width="4.8" fill="none"/>
<text x="1951.0" y="854.3" text-anchor="middle" style="font-size:45.2px">Time(h)</text>
<text transform="translate(1475.0,385.2) rotate(-90)" text-anchor="middle" style="font-size:45.2px">Plasma concentration(mg/l)</text>
<text x="1601.4" y="75.7" style="font-size:45.2px">1st trimester</text>
<text x="1601.4" y="130.7" style="font-size:45.2px">po 300mg bid</text>
<text x="1427.5" y="51" style="font-size:37.5px">B.</text>
<clipPath id="cpC"><rect x="150.4" y="990.0" width="819.4" height="712.8"/></clipPath><g clip-path="url(#cpC)">
<polygon points="150.4,1692.8 151.4,1649.9 152.4,1619.3 153.3,1594.4 154.3,1572.2 155.3,1552.8 156.3,1536.2 157.2,1521.1 158.2,1507.9 159.9,1491.1 161.5,1477.8 163.2,1467.8 164.8,1460.5 166.5,1454.5 168.1,1450.1 169.8,1446.9 171.5,1444.6 173.1,1443.1 174.8,1442.0 176.4,1441.5 178.5,1442.3 180.7,1443.7 182.8,1446.0 184.9,1448.6 187.0,1451.5 189.2,1454.4 191.3,1457.5 193.4,1460.8 195.5,1464.0 197.6,1467.2 199.8,1470.4 201.9,1473.6 204.0,1476.8 206.1,1480.0 208.2,1483.2 209.0,1465.8 209.8,1447.9 210.6,1429.5 211.4,1409.8 212.1,1389.8 212.9,1373.3 213.7,1358.5 214.5,1345.4 215.2,1334.7 216.0,1326.3 216.8,1318.9 217.6,1313.0 218.4,1309.2 220.0,1304.6 221.7,1301.4 223.4,1299.0 225.1,1296.8 226.8,1294.8 228.5,1293.3 230.2,1292.5 231.9,1292.0 234.1,1293.7 236.4,1296.9 238.7,1302.1 241.0,1307.9 243.3,1314.3 245.5,1321.0 247.8,1328.0 250.1,1335.2 252.4,1342.5 254.7,1349.7 257.0,1356.9 259.2,1364.0 261.5,1371.2 263.8,1378.4 266.1,1385.5 266.9,1369.7 267.6,1353.5 268.4,1336.9 269.2,1318.9 270.0,1300.8 270.8,1285.9 271.5,1272.5 272.3,1260.5 273.1,1250.8 273.9,1243.3 274.6,1236.7 275.4,1231.3 276.2,1227.7 277.6,1223.7 279.0,1220.8 280.4,1218.5 281.7,1216.5 283.1,1214.6 284.5,1213.3 285.9,1212.5 287.3,1212.1 289.7,1214.2 292.2,1218.2 294.6,1224.7 297.1,1231.9 299.5,1239.9 301.9,1248.3 304.4,1257.0 306.8,1266.1 309.3,1275.2 311.7,1284.1 314.2,1293.1 316.6,1302.0 319.0,1311.0 321.5,1319.9 323.9,1328.9 324.7,1313.6 325.5,1298.0 326.3,1281.9 327.0,1264.6 327.8,1247.2 328.6,1232.7 329.4,1219.8 330.1,1208.3 330.9,1198.9 331.7,1191.7 332.5,1185.4 333.3,1180.3 334.0,1176.6 335.2,1172.9 336.5,1170.0 337.7,1167.8 338.9,1165.8 340.1,1164.0 341.3,1162.8 342.5,1162.0 343.7,1161.6 346.2,1164.0 348.8,1168.6 351.3,1176.2 353.8,1184.5 356.4,1193.8 358.9,1203.5 361.5,1213.6 364.0,1224.1 366.5,1234.6 369.1,1245.0 371.6,1255.3 374.1,1265.7 376.7,1276.0 379.2,1286.4 381.8,1296.8 382.5,1282.4 383.3,1267.6 384.1,1252.5 384.9,1236.2 385.7,1219.7 386.4,1206.1 387.2,1193.9 388.0,1183.1 388.8,1174.3 389.5,1167.4 390.3,1161.6 391.1,1156.7 391.9,1153.2 393.0,1149.8 394.1,1147.1 395.2,1144.9 396.3,1143.0 397.5,1141.3 398.6,1140.2 399.7,1139.4 400.8,1139.0 403.4,1141.5 406.0,1146.3 408.6,1154.0 411.1,1162.6 413.7,1172.1 416.3,1182.0 418.9,1192.3 421.5,1203.1 424.1,1213.9 426.7,1224.5 429.3,1235.2 431.8,1245.8 434.4,1256.4 437.0,1267.0 439.6,1277.7 440.4,1263.7 441.2,1249.3 441.9,1234.5 442.7,1218.7 443.5,1202.6 444.3,1189.4 445.1,1177.5 445.8,1166.9 446.6,1158.3 447.4,1151.7 448.2,1146.0 448.9,1141.3 449.7,1137.9 450.8,1134.5 451.8,1131.9 452.9,1129.7 453.9,1127.9 455.0,1126.3 456.0,1125.1 457.1,1124.4 458.2,1124.0 460.8,1126.6 463.4,1131.6 466.0,1139.7 468.6,1148.6 471.3,1158.5 473.9,1168.9 476.5,1179.7 479.1,1190.9 481.7,1202.2 484.3,1213.3 487.0,1224.4 489.6,1235.5 492.2,1246.6 494.8,1257.7 497.4,1268.8 498.2,1254.9 499.0,1240.7 499.8,1226.0 500.6,1210.3 501.3,1194.4 502.1,1181.3 502.9,1169.5 503.7,1159.0 504.4,1150.5 505.2,1143.9 506.0,1138.3 506.8,1133.7 507.6,1130.2 508.6,1126.9 509.6,1124.3 510.6,1122.2 511.7,1120.4 512.7,1118.7 513.7,1117.6 514.7,1116.9 515.8,1116.5 518.4,1119.1 521.0,1124.2 523.7,1132.4 526.3,1141.6 528.9,1151.7 531.6,1162.2 534.2,1173.2 536.8,1184.7 539.5,1196.2 542.1,1207.5 544.7,1218.8 547.4,1230.1 550.0,1241.4 552.6,1252.7 555.3,1264.0 556.1,1250.4 556.8,1236.4 557.6,1222.1 558.4,1206.7 559.2,1191.1 560.0,1178.2 560.7,1166.6 561.5,1156.4 562.3,1148.0 563.1,1141.6 563.8,1136.1 564.6,1131.5 565.4,1128.1 566.4,1124.9 567.4,1122.3 568.4,1120.2 569.4,1118.4 570.4,1116.8 571.4,1115.7 572.4,1115.0 573.4,1114.7 576.0,1117.3 578.7,1122.3 581.3,1130.6 584.0,1139.7 586.6,1149.8 589.3,1160.3 591.9,1171.3 594.6,1182.7 597.2,1194.1 599.9,1205.4 602.5,1216.7 605.2,1228.0 607.8,1239.3 610.5,1250.6 613.1,1261.9 613.9,1248.4 614.7,1234.5 615.5,1220.2 616.2,1204.9 617.0,1189.5 617.8,1176.7 618.6,1165.2 619.3,1155.0 620.1,1146.7 620.9,1140.4 621.7,1134.9 622.5,1130.4 623.2,1127.0 624.2,1123.8 625.2,1121.3 626.2,1119.2 627.2,1117.4 628.2,1115.8 629.2,1114.7 630.2,1114.0 631.2,1113.7 633.8,1116.3 636.5,1121.3 639.1,1129.5 641.8,1138.6 644.5,1148.7 647.1,1159.2 649.8,1170.2 652.4,1181.6 655.1,1193.0 657.7,1204.3 660.4,1215.6 663.0,1226.9 665.7,1238.1 668.3,1249.4 671.0,1260.7 671.7,1247.2 672.5,1233.4 673.3,1219.2 674.1,1204.0 674.9,1188.6 675.6,1175.9 676.4,1164.5 677.2,1154.3 678.0,1146.0 678.7,1139.7 679.5,1134.2 680.3,1129.8 681.1,1126.4 682.1,1123.2 683.1,1120.7 684.1,1118.6 685.1,1116.8 686.1,1115.2 687.0,1114.1 688.0,1113.5 689.0,1113.1 691.7,1115.7 694.3,1120.7 697.0,1129.0 699.6,1138.0 702.3,1148.1 704.9,1158.6 707.6,1169.6 710.2,1181.0 712.9,1192.4 715.5,1203.7 718.2,1215.0 720.8,1226.2 723.5,1237.5 726.1,1248.8 728.8,1260.0 729.6,1246.6 730.4,1232.8 731.1,1218.7 731.9,1203.5 732.7,1188.1 733.5,1175.4 734.3,1164.0 735.0,1153.9 735.8,1145.7 736.6,1139.3 737.4,1133.9 738.1,1129.4 738.9,1126.0 739.9,1122.9 740.9,1120.4 741.9,1118.3 742.9,1116.5 743.9,1114.9 744.9,1113.8 745.9,1113.2 746.9,1112.8 749.5,1115.4 752.2,1120.4 754.8,1128.7 757.5,1137.7 760.1,1147.8 762.8,1158.3 765.4,1169.3 768.1,1180.7 770.7,1192.1 773.4,1203.4 776.0,1214.6 778.7,1225.9 781.3,1237.1 784.0,1248.4 786.6,1259.7 787.4,1246.3 788.2,1232.5 789.0,1218.4 789.8,1203.2 790.5,1187.8 791.3,1175.2 792.1,1163.8 792.9,1153.7 793.6,1145.4 794.4,1139.1 795.2,1133.7 796.0,1129.2 796.8,1125.9 797.8,1122.7 798.8,1120.2 799.7,1118.1 800.7,1116.3 801.7,1114.8 802.7,1113.7 803.7,1113.0 804.7,1112.6 807.4,1115.2 810.0,1120.3 812.7,1128.5 815.3,1137.6 818.0,1147.6 820.6,1158.1 823.3,1169.1 825.9,1180.5 828.6,1191.9 831.2,1203.2 833.9,1214.4 836.5,1225.7 839.2,1236.9 841.8,1248.2 844.5,1259.5 845.3,1246.1 846.0,1232.3 846.8,1218.2 847.6,1203.0 848.4,1187.6 849.2,1174.9 849.9,1163.6 850.7,1153.5 851.5,1145.2 852.3,1138.9 853.0,1133.5 853.8,1129.0 854.6,1125.7 855.6,1122.5 856.6,1120.0 857.6,1117.9 858.6,1116.1 859.6,1114.5 860.6,1113.4 861.6,1112.8 862.6,1112.4 865.2,1115.0 867.9,1120.1 870.5,1128.3 873.2,1137.3 875.8,1147.4 878.5,1157.9 881.1,1168.9 883.8,1180.3 886.4,1191.7 889.1,1202.9 891.7,1214.2 894.4,1225.5 897.0,1236.7 899.7,1248.0 902.3,1259.2 902.3,1520.7 899.5,1513.5 896.7,1505.7 893.9,1497.3 891.1,1488.4 888.3,1479.4 885.5,1470.4 882.7,1461.3 879.9,1452.2 877.1,1443.1 874.3,1434.0 871.5,1424.7 868.7,1415.4 865.9,1407.0 863.0,1400.5 860.2,1397.1 859.5,1397.4 858.8,1398.0 858.1,1398.9 857.4,1400.3 856.7,1401.8 856.0,1403.7 855.3,1405.8 854.6,1408.3 853.8,1411.4 853.0,1415.1 852.3,1419.5 851.5,1424.7 850.7,1431.7 849.9,1440.2 849.2,1449.7 848.4,1460.4 847.6,1473.3 846.8,1486.0 846.0,1497.9 845.3,1509.5 844.5,1520.7 841.7,1513.5 838.9,1505.7 836.1,1497.3 833.3,1488.4 830.5,1479.4 827.6,1470.4 824.8,1461.3 822.0,1452.2 819.2,1443.1 816.4,1434.0 813.6,1424.7 810.8,1415.5 808.0,1407.0 805.2,1400.6 802.4,1397.2 801.7,1397.5 801.0,1398.0 800.3,1399.0 799.6,1400.3 798.9,1401.8 798.2,1403.7 797.5,1405.8 796.8,1408.3 796.0,1411.4 795.2,1415.1 794.4,1419.5 793.6,1424.8 792.9,1431.7 792.1,1440.2 791.3,1449.7 790.5,1460.4 789.8,1473.3 789.0,1486.0 788.2,1497.9 787.4,1509.5 786.6,1520.7 783.8,1513.5 781.0,1505.7 778.2,1497.3 775.4,1488.4 772.6,1479.4 769.8,1470.4 767.0,1461.3 764.2,1452.2 761.4,1443.1 758.6,1434.0 755.8,1424.7 753.0,1415.5 750.2,1407.0 747.4,1400.6 744.6,1397.2 743.9,1397.5 743.2,1398.1 742.4,1399.0 741.7,1400.3 741.0,1401.9 740.3,1403.7 739.6,1405.9 738.9,1408.3 738.1,1411.4 737.4,1415.1 736.6,1419.5 735.8,1424.8 735.0,1431.7 734.3,1440.2 733.5,1449.7 732.7,1460.4 731.9,1473.3 731.1,1486.1 730.4,1497.9 729.6,1509.5 728.8,1520.7 726.0,1513.5 723.2,1505.7 720.4,1497.3 717.6,1488.4 714.8,1479.4 712.0,1470.4 709.2,1461.3 706.4,1452.3 703.6,1443.2 700.7,1434.1 697.9,1424.8 695.1,1415.5 692.3,1407.1 689.5,1400.6 686.7,1397.3 686.0,1397.6 685.3,1398.1 684.6,1399.0 683.9,1400.4 683.2,1401.9 682.5,1403.8 681.8,1405.9 681.1,1408.4 680.3,1411.5 679.5,1415.2 678.7,1419.6 678.0,1424.8 677.2,1431.7 676.4,1440.2 675.6,1449.8 674.9,1460.4 674.1,1473.3 673.3,1486.1 672.5,1497.9 671.7,1509.5 671.0,1520.7 668.2,1513.5 665.3,1505.7 662.5,1497.4 659.7,1488.4 656.9,1479.5 654.1,1470.5 651.3,1461.4 648.5,1452.3 645.7,1443.2 642.9,1434.1 640.1,1424.8 637.3,1415.6 634.5,1407.2 631.7,1400.7 628.9,1397.4 628.2,1397.7 627.5,1398.2 626.8,1399.1 626.1,1400.5 625.4,1402.0 624.7,1403.8 623.9,1406.0 623.2,1408.5 622.5,1411.6 621.7,1415.3 620.9,1419.6 620.1,1424.9 619.3,1431.8 618.6,1440.3 617.8,1449.8 617.0,1460.5 616.2,1473.4 615.5,1486.1 614.7,1497.9 613.9,1509.5 613.1,1520.7 610.3,1513.5 607.5,1505.8 604.7,1497.4 601.9,1488.5 599.1,1479.5 596.3,1470.5 593.5,1461.5 590.7,1452.4 587.9,1443.3 585.1,1434.3 582.3,1425.0 579.5,1415.8 576.7,1407.3 573.8,1400.9 571.0,1397.5 570.3,1397.8 569.6,1398.4 568.9,1399.3 568.2,1400.6 567.5,1402.2 566.8,1404.0 566.1,1406.2 565.4,1408.6 564.6,1411.7 563.8,1415.4 563.1,1419.8 562.3,1425.0 561.5,1431.9 560.7,1440.4 560.0,1449.9 559.2,1460.6 558.4,1473.4 557.6,1486.1 556.8,1498.0 556.1,1509.5 555.3,1520.7 552.5,1513.5 549.7,1505.8 546.9,1497.4 544.1,1488.6 541.3,1479.6 538.5,1470.7 535.7,1461.6 532.9,1452.6 530.1,1443.5 527.3,1434.5 524.5,1425.2 521.7,1416.0 518.9,1407.6 516.1,1401.2 513.2,1397.8 512.5,1398.1 511.8,1398.7 511.1,1399.6 510.4,1400.9 509.7,1402.5 509.0,1404.3 508.3,1406.5 507.6,1409.0 506.8,1412.1 506.0,1415.8 505.2,1420.2 504.4,1425.4 503.7,1432.3 502.9,1440.8 502.1,1450.4 501.3,1461.1 500.6,1474.0 499.8,1486.7 499.0,1498.6 498.2,1510.2 497.4,1521.4 494.7,1514.2 491.9,1506.5 489.1,1498.1 486.3,1489.2 483.5,1480.3 480.7,1471.3 477.9,1462.3 475.1,1453.3 472.3,1444.2 469.5,1435.2 466.8,1425.9 464.0,1416.7 461.2,1408.3 458.4,1401.9 455.6,1398.5 454.9,1398.8 454.1,1399.4 453.4,1400.3 452.7,1401.6 451.9,1403.2 451.2,1405.0 450.5,1407.2 449.7,1409.6 448.9,1412.7 448.2,1416.4 447.4,1420.8 446.6,1426.1 445.8,1433.0 445.1,1441.5 444.3,1451.1 443.5,1461.7 442.7,1474.6 441.9,1487.4 441.2,1499.3 440.4,1510.8 439.6,1522.1 436.8,1515.0 434.1,1507.3 431.3,1499.1 428.5,1490.3 425.8,1481.5 423.0,1472.6 420.3,1463.6 417.5,1454.7 414.7,1445.8 412.0,1436.8 409.2,1427.6 406.4,1418.5 403.7,1410.2 400.9,1403.9 398.1,1400.6 397.4,1400.9 396.6,1401.4 395.8,1402.4 395.0,1403.7 394.2,1405.2 393.4,1407.0 392.7,1409.2 391.9,1411.7 391.1,1414.7 390.3,1418.4 389.5,1422.9 388.8,1428.1 388.0,1435.1 387.2,1443.6 386.4,1453.1 385.7,1463.8 384.9,1476.7 384.1,1489.5 383.3,1501.3 382.5,1512.9 381.8,1524.1 379.0,1517.2 376.3,1509.7 373.6,1501.6 370.8,1493.1 368.1,1484.4 365.4,1475.7 362.6,1467.0 359.9,1458.3 357.2,1449.5 354.4,1440.8 351.7,1431.8 349.0,1422.9 346.3,1414.8 343.5,1408.6 340.8,1405.3 339.9,1405.6 339.1,1406.2 338.3,1407.2 337.4,1408.5 336.6,1410.0 335.7,1411.9 334.9,1414.0 334.0,1416.6 333.3,1419.7 332.5,1423.4 331.7,1428.0 330.9,1433.4 330.1,1440.4 329.4,1449.1 328.6,1458.8 327.8,1469.6 327.0,1482.7 326.3,1495.7 325.5,1507.8 324.7,1519.5 323.9,1531.0 321.3,1524.5 318.6,1517.6 315.9,1510.1 313.3,1502.2 310.6,1494.2 307.9,1486.2 305.3,1478.1 302.6,1470.0 299.9,1461.9 297.2,1453.8 294.6,1445.5 291.9,1437.3 289.2,1429.8 286.6,1424.1 283.9,1421.0 283.0,1421.4 282.0,1421.9 281.0,1422.9 280.1,1424.3 279.1,1425.8 278.1,1427.7 277.2,1429.9 276.2,1432.6 275.4,1435.6 274.6,1439.4 273.9,1444.2 273.1,1449.7 272.3,1456.9 271.5,1465.7 270.8,1475.6 270.0,1486.7 269.2,1500.1 268.4,1513.4 267.6,1525.7 266.9,1537.7 266.1,1549.4 263.6,1544.2 261.1,1538.6 258.6,1532.6 256.1,1526.2 253.5,1519.7 251.0,1513.2 248.5,1506.7 246.0,1500.2 243.5,1493.7 241.0,1487.1 238.5,1480.4 236.0,1473.8 233.5,1467.7 231.0,1463.1 228.5,1460.6 227.2,1461.0 226.0,1461.5 224.7,1462.5 223.4,1463.8 222.2,1465.3 220.9,1467.0 219.6,1469.2 218.4,1472.0 217.6,1474.7 216.8,1478.6 216.0,1483.4 215.2,1488.8 214.5,1495.9 213.7,1504.6 212.9,1514.4 212.1,1525.3 211.4,1538.5 210.6,1551.5 209.8,1563.6 209.0,1575.5 208.2,1587.0 206.0,1585.0 203.7,1582.8 201.5,1580.5 199.2,1578.0 197.0,1575.5 194.7,1573.1 192.5,1570.5 190.2,1568.0 188.0,1565.5 185.7,1563.0 183.5,1560.4 181.2,1557.9 179.0,1555.5 176.7,1553.8 174.5,1552.8 173.0,1553.1 171.4,1553.7 169.9,1554.5 168.4,1555.8 166.8,1557.6 165.3,1560.1 163.8,1563.4 162.2,1567.5 160.7,1573.0 159.2,1580.4 157.6,1589.8 156.7,1597.1 155.8,1605.6 154.9,1614.8 154.0,1625.6 153.1,1638.0 152.2,1651.8 151.3,1668.9 150.4,1692.8" fill="#FDC0C0"/>
<polyline points="150.4,1692.8 151.4,1659.2 152.4,1635.3 153.4,1615.8 154.4,1598.4 155.4,1583.2 156.4,1570.2 157.4,1558.4 158.4,1548.1 160.0,1535.0 161.7,1524.6 163.4,1516.7 165.1,1511.0 166.8,1506.3 168.5,1502.8 170.2,1500.4 171.8,1498.5 173.5,1497.4 175.2,1496.6 176.9,1496.2 179.0,1496.8 181.1,1498.4 183.2,1500.7 185.3,1503.5 187.4,1506.6 189.4,1509.9 191.5,1513.4 193.6,1517.2 195.7,1521.3 197.8,1525.5 199.9,1529.4 202.0,1533.1 204.1,1536.7 206.2,1540.4 208.2,1543.9 209.1,1535.8 209.9,1525.5 210.8,1512.2 211.7,1497.6 212.5,1483.0 213.4,1468.5 214.2,1455.8 215.1,1444.9 215.9,1434.9 216.8,1425.4 217.6,1416.0 218.5,1405.9 219.3,1398.5 220.6,1392.9 221.9,1388.8 223.1,1385.7 224.4,1383.3 225.7,1381.2 226.9,1379.9 228.2,1379.1 229.4,1378.7 231.9,1379.9 234.3,1383.1 236.8,1387.6 239.2,1393.0 241.7,1399.1 244.1,1405.6 246.5,1412.5 249.0,1419.9 251.4,1428.0 253.9,1436.1 256.3,1443.7 258.8,1451.0 261.2,1458.1 263.6,1465.2 266.1,1472.3 266.9,1464.9 267.8,1455.7 268.6,1443.7 269.5,1430.5 270.3,1417.3 271.2,1404.3 272.0,1392.9 272.9,1383.0 273.8,1374.0 274.6,1365.5 275.5,1357.0 276.3,1348.1 277.2,1341.3 278.2,1336.4 279.2,1332.7 280.2,1329.8 281.3,1327.5 282.3,1325.6 283.3,1324.4 284.3,1323.7 285.4,1323.4 287.9,1324.9 290.5,1328.8 293.1,1334.4 295.6,1341.2 298.2,1348.7 300.8,1356.8 303.4,1365.4 305.9,1374.5 308.5,1384.5 311.1,1394.6 313.6,1404.1 316.2,1413.1 318.8,1422.0 321.3,1430.8 323.9,1439.5 324.8,1432.5 325.6,1423.6 326.5,1412.1 327.3,1399.4 328.2,1386.8 329.0,1374.3 329.9,1363.4 330.7,1353.9 331.6,1345.3 332.4,1337.1 333.3,1329.0 334.2,1320.5 335.0,1313.9 335.9,1309.4 336.8,1305.8 337.7,1302.9 338.6,1300.7 339.5,1298.9 340.4,1297.8 341.3,1297.1 342.2,1296.8 344.9,1298.4 347.5,1302.8 350.1,1308.9 352.8,1316.3 355.4,1324.7 358.0,1333.5 360.7,1342.9 363.3,1353.0 366.0,1364.0 368.6,1375.1 371.2,1385.5 373.9,1395.4 376.5,1405.2 379.1,1414.9 381.8,1424.5 382.6,1417.5 383.5,1408.8 384.3,1397.5 385.2,1385.0 386.0,1372.5 386.9,1360.2 387.7,1349.4 388.6,1340.1 389.4,1331.6 390.3,1323.6 391.1,1315.6 392.0,1307.3 392.8,1300.7 393.7,1296.3 394.5,1292.7 395.4,1289.8 396.2,1287.7 397.1,1285.9 397.9,1284.8 398.8,1284.1 399.6,1283.8 402.3,1285.5 404.9,1290.0 407.6,1296.4 410.3,1304.1 412.9,1312.7 415.6,1321.9 418.3,1331.7 420.9,1342.1 423.6,1353.5 426.3,1365.1 428.9,1375.9 431.6,1386.1 434.3,1396.3 436.9,1406.3 439.6,1416.3 440.5,1409.4 441.3,1400.8 442.2,1389.7 443.0,1377.4 443.9,1365.1 444.7,1353.0 445.6,1342.3 446.4,1333.2 447.3,1324.8 448.1,1316.8 449.0,1309.0 449.8,1300.8 450.7,1294.3 451.5,1290.0 452.3,1286.5 453.1,1283.6 453.9,1281.5 454.8,1279.7 455.6,1278.6 456.4,1278.0 457.2,1277.7 459.9,1279.4 462.6,1284.0 465.2,1290.5 467.9,1298.3 470.6,1307.2 473.3,1316.5 476.0,1326.5 478.7,1337.2 481.3,1348.8 484.0,1360.6 486.7,1371.6 489.4,1382.1 492.1,1392.5 494.8,1402.7 497.4,1412.9 498.3,1406.0 499.1,1397.4 500.0,1386.2 500.9,1373.9 501.7,1361.7 502.6,1349.5 503.4,1338.9 504.3,1329.7 505.1,1321.4 506.0,1313.4 506.8,1305.6 507.7,1297.4 508.5,1290.9 509.3,1286.6 510.1,1283.1 510.9,1280.2 511.7,1278.1 512.4,1276.3 513.2,1275.2 514.0,1274.6 514.8,1274.2 517.5,1276.0 520.2,1280.6 522.9,1287.2 525.6,1295.1 528.3,1304.1 531.0,1313.5 533.7,1323.6 536.4,1334.4 539.1,1346.1 541.8,1358.0 544.5,1369.1 547.2,1379.7 549.9,1390.2 552.6,1400.6 555.3,1410.8 556.1,1404.0 557.0,1395.3 557.8,1384.2 558.7,1371.9 559.5,1359.6 560.4,1347.4 561.2,1336.8 562.1,1327.6 563.0,1319.3 563.8,1311.3 564.7,1303.4 565.5,1295.3 566.4,1288.7 567.1,1284.5 567.9,1280.9 568.7,1278.1 569.5,1275.9 570.3,1274.2 571.0,1273.1 571.8,1272.4 572.6,1272.1 575.3,1273.9 578.0,1278.6 580.7,1285.2 583.4,1293.2 586.1,1302.2 588.8,1311.8 591.5,1322.0 594.2,1332.9 596.9,1344.8 599.6,1356.8 602.3,1368.1 605.0,1378.8 607.7,1389.4 610.4,1399.8 613.1,1410.2 614.0,1403.3 614.8,1394.7 615.7,1383.4 616.5,1371.1 617.4,1358.8 618.2,1346.6 619.1,1335.9 619.9,1326.7 620.8,1318.3 621.6,1310.3 622.5,1302.4 623.4,1294.2 624.2,1287.6 625.0,1283.4 625.8,1279.8 626.5,1276.9 627.3,1274.7 628.1,1273.0 628.9,1271.9 629.6,1271.2 630.4,1270.9 633.1,1272.7 635.8,1277.4 638.5,1284.1 641.2,1292.2 643.9,1301.2 646.6,1310.9 649.3,1321.1 652.0,1332.1 654.7,1344.0 657.4,1356.1 660.2,1367.5 662.9,1378.3 665.6,1388.9 668.3,1399.4 671.0,1409.9 671.8,1403.0 672.7,1394.3 673.5,1383.0 674.4,1370.7 675.2,1358.3 676.1,1346.1 676.9,1335.4 677.8,1326.2 678.6,1317.7 679.5,1309.7 680.3,1301.8 681.2,1293.6 682.0,1287.0 682.8,1282.8 683.6,1279.2 684.4,1276.3 685.2,1274.1 685.9,1272.4 686.7,1271.2 687.5,1270.6 688.3,1270.3 691.0,1272.1 693.7,1276.8 696.4,1283.5 699.1,1291.6 701.8,1300.7 704.5,1310.3 707.2,1320.6 709.9,1331.7 712.6,1343.6 715.3,1355.8 718.0,1367.1 720.7,1378.0 723.4,1388.6 726.1,1399.2 728.8,1409.7 729.7,1402.8 730.5,1394.1 731.4,1382.8 732.2,1370.4 733.1,1358.1 733.9,1345.8 734.8,1335.1 735.6,1325.9 736.5,1317.4 737.3,1309.4 738.2,1301.5 739.0,1293.3 739.9,1286.7 740.7,1282.4 741.4,1278.8 742.2,1275.9 743.0,1273.7 743.8,1272.0 744.5,1270.9 745.3,1270.2 746.1,1269.9 748.8,1271.7 751.5,1276.4 754.2,1283.2 756.9,1291.3 759.6,1300.4 762.3,1310.1 765.0,1320.4 767.7,1331.4 770.4,1343.4 773.1,1355.6 775.8,1367.0 778.5,1377.8 781.2,1388.5 783.9,1399.1 786.6,1409.6 787.5,1402.7 788.3,1394.0 789.2,1382.7 790.1,1370.3 790.9,1357.9 791.8,1345.7 792.6,1335.0 793.5,1325.7 794.3,1317.3 795.2,1309.2 796.0,1301.3 796.9,1293.1 797.7,1286.5 798.5,1282.2 799.3,1278.6 800.1,1275.7 800.8,1273.5 801.6,1271.8 802.4,1270.7 803.2,1270.0 803.9,1269.7 806.6,1271.5 809.3,1276.3 812.1,1283.0 814.8,1291.1 817.5,1300.2 820.2,1309.9 822.9,1320.2 825.6,1331.3 828.3,1343.3 831.0,1355.5 833.7,1366.9 836.4,1377.7 839.1,1388.4 841.8,1399.0 844.5,1409.5 845.3,1402.6 846.2,1393.9 847.0,1382.6 847.9,1370.2 848.7,1357.8 849.6,1345.5 850.4,1334.8 851.3,1325.5 852.2,1317.1 853.0,1309.1 853.9,1301.1 854.7,1292.9 855.6,1286.3 856.3,1282.0 857.1,1278.4 857.9,1275.5 858.7,1273.3 859.5,1271.6 860.2,1270.4 861.0,1269.8 861.8,1269.5 864.5,1271.3 867.2,1276.0 869.9,1282.8 872.6,1290.9 875.3,1300.0 878.0,1309.7 880.7,1320.1 883.4,1331.1 886.1,1343.1 888.8,1355.3 891.5,1366.7 894.2,1377.6 896.9,1388.3 899.6,1398.9 902.3,1409.4" fill="none" stroke="#F04144" stroke-width="8.33" stroke-linejoin="round" stroke-linecap="round"/>
<path d="M148.8,1487.96H902.3" stroke="#808080" stroke-width="4.2" stroke-dasharray="24.9 26" fill="none"/>
<polygon points="150.4,1692.8 150.6,1679.8 150.8,1670.6 151.1,1662.7 151.4,1657.7 151.8,1652.6 152.3,1649.9 153.1,1647.5 153.8,1647.4 154.5,1650.1 155.2,1653.7 156.2,1658.2 157.1,1661.6 158.1,1664.4 159.2,1667.5 160.3,1670.1 161.5,1672.8 162.7,1675.2 163.8,1677.0 164.9,1678.6 166.1,1680.1 167.3,1681.5 168.3,1682.4 170.2,1683.8 172.1,1684.9 174.5,1686.0 177.4,1686.9 180.8,1687.6 184.1,1688.2 189.0,1688.7 193.8,1689.0 201.0,1689.3 208.2,1689.4 208.4,1676.8 208.6,1668.1 208.9,1660.9 209.2,1656.5 209.7,1652.6 210.2,1649.9 210.9,1647.5 211.6,1647.4 212.3,1650.1 213.1,1653.7 214.0,1658.2 215.0,1661.6 216.0,1664.4 217.1,1667.5 218.1,1670.1 219.3,1672.8 220.5,1675.2 221.6,1677.0 222.7,1678.6 223.9,1680.1 225.1,1681.5 226.1,1682.4 228.0,1683.8 229.9,1684.9 232.3,1686.0 235.2,1686.9 238.6,1687.6 242.0,1688.2 246.8,1688.7 251.6,1689.0 258.9,1689.3 266.1,1689.4 266.3,1676.8 266.5,1668.1 266.8,1660.9 267.0,1656.5 267.5,1652.6 268.0,1649.9 268.7,1647.5 269.5,1647.4 270.2,1650.1 270.9,1653.7 271.9,1658.2 272.8,1661.6 273.8,1664.4 274.9,1667.5 276.0,1670.1 277.2,1672.8 278.4,1675.2 279.4,1677.0 280.5,1678.6 281.7,1680.1 283.0,1681.5 284.0,1682.4 285.8,1683.8 287.8,1684.9 290.2,1686.0 293.1,1686.9 296.4,1687.6 299.8,1688.2 304.6,1688.7 309.5,1689.0 316.7,1689.3 323.9,1689.4 324.1,1676.8 324.3,1668.1 324.6,1660.9 324.9,1656.5 325.4,1652.6 325.8,1649.9 326.6,1647.5 327.3,1647.4 328.0,1650.1 328.7,1653.7 329.7,1658.2 330.7,1661.6 331.6,1664.4 332.7,1667.5 333.8,1670.1 335.0,1672.8 336.2,1675.2 337.3,1677.0 338.4,1678.6 339.6,1680.1 340.8,1681.5 341.8,1682.4 343.7,1683.8 345.6,1684.9 348.0,1686.0 350.9,1686.9 354.3,1687.6 357.7,1688.2 362.5,1688.7 367.3,1689.0 374.5,1689.3 381.8,1689.4 382.0,1676.8 382.1,1668.1 382.4,1660.9 382.7,1656.5 383.2,1652.6 383.7,1649.9 384.4,1647.5 385.1,1647.4 385.9,1650.1 386.6,1653.7 387.5,1658.2 388.5,1661.6 389.5,1664.4 390.6,1667.5 391.6,1670.1 392.8,1672.8 394.1,1675.2 395.1,1677.0 396.2,1678.6 397.4,1680.1 398.6,1681.5 399.6,1682.4 401.5,1683.8 403.5,1684.9 405.9,1686.0 408.8,1686.9 412.1,1687.6 415.5,1688.2 420.3,1688.7 425.1,1689.0 432.4,1689.3 439.6,1689.4 439.8,1676.8 440.0,1668.1 440.3,1660.9 440.6,1656.5 441.0,1652.6 441.5,1649.9 442.3,1647.5 443.0,1647.4 443.7,1650.1 444.4,1653.7 445.4,1658.2 446.3,1661.6 447.3,1664.4 448.4,1667.5 449.5,1670.1 450.7,1672.8 451.9,1675.2 453.0,1677.0 454.1,1678.6 455.3,1680.1 456.5,1681.5 457.5,1682.4 459.4,1683.8 461.3,1684.9 463.7,1686.0 466.6,1686.9 470.0,1687.6 473.3,1688.2 478.2,1688.7 483.0,1689.0 490.2,1689.3 497.4,1689.4 497.6,1676.8 497.8,1668.1 498.1,1660.9 498.4,1656.5 498.9,1652.6 499.4,1649.9 500.1,1647.5 500.8,1647.4 501.5,1650.1 502.3,1653.7 503.2,1658.2 504.2,1661.6 505.2,1664.4 506.3,1667.5 507.3,1670.1 508.5,1672.8 509.7,1675.2 510.8,1677.0 511.9,1678.6 513.1,1680.1 514.3,1681.5 515.3,1682.4 517.2,1683.8 519.1,1684.9 521.5,1686.0 524.4,1686.9 527.8,1687.6 531.2,1688.2 536.0,1688.7 540.8,1689.0 548.1,1689.3 555.3,1689.4 555.5,1676.8 555.7,1668.1 556.0,1660.9 556.2,1656.5 556.7,1652.6 557.2,1649.9 557.9,1647.5 558.7,1647.4 559.4,1650.1 560.1,1653.7 561.1,1658.2 562.0,1661.6 563.0,1664.4 564.1,1667.5 565.2,1670.1 566.4,1672.8 567.6,1675.2 568.6,1677.0 569.7,1678.6 570.9,1680.1 572.1,1681.5 573.2,1682.4 575.0,1683.8 577.0,1684.9 579.4,1686.0 582.3,1686.9 585.6,1687.6 589.0,1688.2 593.8,1688.7 598.7,1689.0 605.9,1689.3 613.1,1689.4 613.3,1676.8 613.5,1668.1 613.8,1660.9 614.1,1656.5 614.6,1652.6 615.0,1649.9 615.8,1647.5 616.5,1647.4 617.2,1650.1 617.9,1653.7 618.9,1658.2 619.9,1661.6 620.8,1664.4 621.9,1667.5 623.0,1670.1 624.2,1672.8 625.4,1675.2 626.5,1677.0 627.6,1678.6 628.8,1680.1 630.0,1681.5 631.0,1682.4 632.9,1683.8 634.8,1684.9 637.2,1686.0 640.1,1686.9 643.5,1687.6 646.9,1688.2 651.7,1688.7 656.5,1689.0 663.7,1689.3 671.0,1689.4 671.2,1676.8 671.3,1668.1 671.6,1660.9 671.9,1656.5 672.4,1652.6 672.9,1649.9 673.6,1647.5 674.3,1647.4 675.1,1650.1 675.8,1653.7 676.7,1658.2 677.7,1661.6 678.7,1664.4 679.8,1667.5 680.8,1670.1 682.0,1672.8 683.3,1675.2 684.3,1677.0 685.4,1678.6 686.6,1680.1 687.8,1681.5 688.8,1682.4 690.7,1683.8 692.6,1684.9 695.1,1686.0 698.0,1686.9 701.3,1687.6 704.7,1688.2 709.5,1688.7 714.3,1689.0 721.6,1689.3 728.8,1689.4 729.0,1676.8 729.2,1668.1 729.5,1660.9 729.8,1656.5 730.2,1652.6 730.7,1649.9 731.5,1647.5 732.2,1647.4 732.9,1650.1 733.6,1653.7 734.6,1658.2 735.5,1661.6 736.5,1664.4 737.6,1667.5 738.7,1670.1 739.9,1672.8 741.1,1675.2 742.2,1677.0 743.3,1678.6 744.5,1680.1 745.7,1681.5 746.7,1682.4 748.6,1683.8 750.5,1684.9 752.9,1686.0 755.8,1686.9 759.2,1687.6 762.5,1688.2 767.4,1688.7 772.2,1689.0 779.4,1689.3 786.6,1689.4 786.8,1676.8 787.0,1668.1 787.3,1660.9 787.6,1656.5 788.1,1652.6 788.6,1649.9 789.3,1647.5 790.0,1647.4 790.7,1650.1 791.5,1653.7 792.4,1658.2 793.4,1661.6 794.4,1664.4 795.5,1667.5 796.5,1670.1 797.7,1672.8 798.9,1675.2 800.0,1677.0 801.1,1678.6 802.3,1680.1 803.5,1681.5 804.5,1682.4 806.4,1683.8 808.3,1684.9 810.7,1686.0 813.6,1686.9 817.0,1687.6 820.4,1688.2 825.2,1688.7 830.0,1689.0 837.2,1689.3 844.5,1689.4 844.7,1676.8 844.9,1668.1 845.2,1660.9 845.4,1656.5 845.9,1652.6 846.4,1649.9 847.1,1647.5 847.9,1647.4 848.6,1650.1 849.3,1653.7 850.3,1658.2 851.2,1661.6 852.2,1664.4 853.3,1667.5 854.4,1670.1 855.6,1672.8 856.8,1675.2 857.8,1677.0 858.9,1678.6 860.1,1680.1 861.4,1681.5 862.4,1682.4 864.2,1683.8 866.2,1684.9 868.6,1686.0 871.5,1686.9 874.8,1687.6 878.2,1688.2 883.0,1688.7 887.9,1689.0 895.1,1689.3 902.3,1689.4 902.3,1689.4 895.1,1689.3 887.9,1689.0 883.0,1688.7 878.2,1688.2 874.8,1687.6 871.5,1686.9 868.6,1686.0 866.2,1684.9 864.2,1683.8 862.4,1682.4 861.4,1681.5 860.1,1680.1 858.9,1678.6 857.8,1677.0 856.8,1675.2 855.6,1672.8 854.4,1670.2 853.3,1667.7 852.2,1665.1 851.2,1663.4 850.3,1662.4 849.3,1662.0 848.6,1661.6 847.9,1661.1 847.1,1660.7 846.4,1660.4 845.9,1660.6 845.4,1661.9 845.2,1664.6 844.9,1670.2 844.7,1677.9 844.5,1689.4 837.2,1689.3 830.0,1689.0 825.2,1688.7 820.4,1688.2 817.0,1687.6 813.6,1686.9 810.7,1686.0 808.3,1684.9 806.4,1683.8 804.5,1682.4 803.5,1681.5 802.3,1680.1 801.1,1678.6 800.0,1677.0 798.9,1675.2 797.7,1672.8 796.5,1670.2 795.5,1667.7 794.4,1665.1 793.4,1663.4 792.4,1662.4 791.5,1662.0 790.7,1661.6 790.0,1661.1 789.3,1660.7 788.6,1660.4 788.1,1660.6 787.6,1661.9 787.3,1664.6 787.0,1670.2 786.8,1677.9 786.6,1689.4 779.4,1689.3 772.2,1689.0 767.4,1688.7 762.5,1688.2 759.2,1687.6 755.8,1686.9 752.9,1686.0 750.5,1684.9 748.6,1683.8 746.7,1682.4 745.7,1681.5 744.5,1680.1 743.3,1678.6 742.2,1677.0 741.1,1675.2 739.9,1672.8 738.7,1670.2 737.6,1667.7 736.5,1665.1 735.5,1663.4 734.6,1662.4 733.6,1662.0 732.9,1661.6 732.2,1661.1 731.5,1660.7 730.7,1660.4 730.2,1660.6 729.8,1661.9 729.5,1664.6 729.2,1670.2 729.0,1677.9 728.8,1689.4 721.6,1689.3 714.3,1689.0 709.5,1688.7 704.7,1688.2 701.3,1687.6 698.0,1686.9 695.1,1686.0 692.6,1684.9 690.7,1683.8 688.8,1682.4 687.8,1681.5 686.6,1680.1 685.4,1678.6 684.3,1677.0 683.3,1675.2 682.0,1672.8 680.8,1670.2 679.8,1667.7 678.7,1665.1 677.7,1663.4 676.7,1662.4 675.8,1662.0 675.1,1661.6 674.3,1661.1 673.6,1660.7 672.9,1660.4 672.4,1660.6 671.9,1661.9 671.6,1664.6 671.3,1670.2 671.2,1677.9 671.0,1689.4 663.7,1689.3 656.5,1689.0 651.7,1688.7 646.9,1688.2 643.5,1687.6 640.1,1686.9 637.2,1686.0 634.8,1684.9 632.9,1683.8 631.0,1682.4 630.0,1681.5 628.8,1680.1 627.6,1678.6 626.5,1677.0 625.4,1675.2 624.2,1672.8 623.0,1670.2 621.9,1667.7 620.8,1665.1 619.9,1663.4 618.9,1662.4 617.9,1662.0 617.2,1661.6 616.5,1661.1 615.8,1660.7 615.0,1660.4 614.6,1660.6 614.1,1661.9 613.8,1664.6 613.5,1670.2 613.3,1677.9 613.1,1689.4 605.9,1689.3 598.7,1689.0 593.8,1688.7 589.0,1688.2 585.6,1687.6 582.3,1686.9 579.4,1686.0 577.0,1684.9 575.0,1683.8 573.2,1682.4 572.1,1681.5 570.9,1680.1 569.7,1678.6 568.6,1677.0 567.6,1675.2 566.4,1672.8 565.2,1670.2 564.1,1667.7 563.0,1665.1 562.0,1663.4 561.1,1662.4 560.1,1662.0 559.4,1661.6 558.7,1661.1 557.9,1660.7 557.2,1660.4 556.7,1660.6 556.2,1661.9 556.0,1664.6 555.7,1670.2 555.5,1677.9 555.3,1689.4 548.1,1689.3 540.8,1689.0 536.0,1688.7 531.2,1688.2 527.8,1687.6 524.4,1686.9 521.5,1686.0 519.1,1684.9 517.2,1683.8 515.3,1682.4 514.3,1681.5 513.1,1680.1 511.9,1678.6 510.8,1677.0 509.7,1675.2 508.5,1672.8 507.3,1670.2 506.3,1667.7 505.2,1665.1 504.2,1663.4 503.2,1662.4 502.3,1662.0 501.5,1661.6 500.8,1661.1 500.1,1660.7 499.4,1660.4 498.9,1660.6 498.4,1661.9 498.1,1664.6 497.8,1670.2 497.6,1677.9 497.4,1689.4 490.2,1689.3 483.0,1689.0 478.2,1688.7 473.3,1688.2 470.0,1687.6 466.6,1686.9 463.7,1686.0 461.3,1684.9 459.4,1683.8 457.5,1682.4 456.5,1681.5 455.3,1680.1 454.1,1678.6 453.0,1677.0 451.9,1675.2 450.7,1672.8 449.5,1670.2 448.4,1667.7 447.3,1665.1 446.3,1663.4 445.4,1662.4 444.4,1662.0 443.7,1661.6 443.0,1661.1 442.3,1660.7 441.5,1660.4 441.0,1660.6 440.6,1661.9 440.3,1664.6 440.0,1670.2 439.8,1677.9 439.6,1689.4 432.4,1689.3 425.1,1689.0 420.3,1688.7 415.5,1688.2 412.1,1687.6 408.8,1686.9 405.9,1686.0 403.5,1684.9 401.5,1683.8 399.6,1682.4 398.6,1681.5 397.4,1680.1 396.2,1678.6 395.1,1677.0 394.1,1675.2 392.8,1672.8 391.6,1670.2 390.6,1667.7 389.5,1665.1 388.5,1663.4 387.5,1662.4 386.6,1662.0 385.9,1661.6 385.1,1661.1 384.4,1660.7 383.7,1660.4 383.2,1660.6 382.7,1661.9 382.4,1664.6 382.1,1670.2 382.0,1677.9 381.8,1689.4 374.5,1689.3 367.3,1689.0 362.5,1688.7 357.7,1688.2 354.3,1687.6 350.9,1686.9 348.0,1686.0 345.6,1684.9 343.7,1683.8 341.8,1682.4 340.8,1681.5 339.6,1680.1 338.4,1678.6 337.3,1677.0 336.2,1675.2 335.0,1672.8 333.8,1670.2 332.7,1667.7 331.6,1665.1 330.7,1663.4 329.7,1662.4 328.7,1662.0 328.0,1661.6 327.3,1661.1 326.6,1660.7 325.8,1660.4 325.4,1660.6 324.9,1661.9 324.6,1664.6 324.3,1670.2 324.1,1677.9 323.9,1689.4 316.7,1689.3 309.5,1689.0 304.6,1688.7 299.8,1688.2 296.4,1687.6 293.1,1686.9 290.2,1686.0 287.8,1684.9 285.8,1683.8 284.0,1682.4 283.0,1681.5 281.7,1680.1 280.5,1678.6 279.4,1677.0 278.4,1675.2 277.2,1672.8 276.0,1670.2 274.9,1667.7 273.8,1665.1 272.8,1663.4 271.9,1662.4 270.9,1662.0 270.2,1661.6 269.5,1661.1 268.7,1660.7 268.0,1660.4 267.5,1660.6 267.0,1661.9 266.8,1664.6 266.5,1670.2 266.3,1677.9 266.1,1689.4 258.9,1689.3 251.6,1689.0 246.8,1688.7 242.0,1688.2 238.6,1687.6 235.2,1686.9 232.3,1686.0 229.9,1684.9 228.0,1683.8 226.1,1682.4 225.1,1681.5 223.9,1680.1 222.7,1678.6 221.6,1677.0 220.5,1675.2 219.3,1672.8 218.1,1670.2 217.1,1667.7 216.0,1665.1 215.0,1663.4 214.0,1662.4 213.1,1662.0 212.3,1661.6 211.6,1661.1 210.9,1660.7 210.2,1660.4 209.7,1660.6 209.2,1661.9 208.9,1664.6 208.6,1670.2 208.4,1677.9 208.2,1689.4 201.0,1689.3 193.8,1689.0 189.0,1688.7 184.1,1688.2 180.8,1687.6 177.4,1686.9 174.5,1686.0 172.1,1684.9 170.2,1683.8 168.3,1682.4 167.3,1681.5 166.1,1680.1 164.9,1678.6 163.8,1677.0 162.7,1675.2 161.5,1672.8 160.3,1670.2 159.2,1667.7 158.1,1665.1 157.1,1663.4 156.2,1662.4 155.2,1662.0 154.5,1661.6 153.8,1661.1 153.1,1660.7 152.3,1660.4 151.8,1660.6 151.4,1663.0 151.1,1666.4 150.8,1672.7 150.6,1680.8 150.4,1692.8" fill="#C4CCFF"/>
<polyline points="150.4,1692.8 150.6,1680.5 150.8,1672.0 151.1,1665.3 151.4,1661.4 151.8,1658.2 152.3,1657.3 153.1,1656.6 153.8,1656.3 154.5,1656.8 155.2,1657.8 156.2,1659.6 157.1,1661.9 158.1,1664.5 159.2,1667.5 160.3,1670.1 161.5,1672.8 162.7,1675.2 163.8,1677.0 164.9,1678.6 166.1,1680.1 167.3,1681.5 168.3,1682.4 170.2,1683.8 172.1,1684.9 174.5,1686.0 177.4,1686.9 180.8,1687.6 184.1,1688.2 189.0,1688.7 193.8,1689.0 201.0,1689.3 208.2,1689.4 208.4,1677.5 208.6,1669.5 208.9,1663.4 209.2,1660.2 209.7,1658.2 210.2,1657.3 210.9,1656.6 211.6,1656.3 212.3,1656.8 213.1,1657.8 214.0,1659.6 215.0,1661.9 216.0,1664.5 217.1,1667.5 218.1,1670.1 219.3,1672.8 220.5,1675.2 221.6,1677.0 222.7,1678.6 223.9,1680.1 225.1,1681.5 226.1,1682.4 228.0,1683.8 229.9,1684.9 232.3,1686.0 235.2,1686.9 238.6,1687.6 242.0,1688.2 246.8,1688.7 251.6,1689.0 258.9,1689.3 266.1,1689.4 266.3,1677.5 266.5,1669.5 266.8,1663.4 267.0,1660.2 267.5,1658.2 268.0,1657.3 268.7,1656.6 269.5,1656.3 270.2,1656.8 270.9,1657.8 271.9,1659.6 272.8,1661.9 273.8,1664.5 274.9,1667.5 276.0,1670.1 277.2,1672.8 278.4,1675.2 279.4,1677.0 280.5,1678.6 281.7,1680.1 283.0,1681.5 284.0,1682.4 285.8,1683.8 287.8,1684.9 290.2,1686.0 293.1,1686.9 296.4,1687.6 299.8,1688.2 304.6,1688.7 309.5,1689.0 316.7,1689.3 323.9,1689.4 324.1,1677.5 324.3,1669.5 324.6,1663.4 324.9,1660.2 325.4,1658.2 325.8,1657.3 326.6,1656.6 327.3,1656.3 328.0,1656.8 328.7,1657.8 329.7,1659.6 330.7,1661.9 331.6,1664.5 332.7,1667.5 333.8,1670.1 335.0,1672.8 336.2,1675.2 337.3,1677.0 338.4,1678.6 339.6,1680.1 340.8,1681.5 341.8,1682.4 343.7,1683.8 345.6,1684.9 348.0,1686.0 350.9,1686.9 354.3,1687.6 357.7,1688.2 362.5,1688.7 367.3,1689.0 374.5,1689.3 381.8,1689.4 382.0,1677.5 382.1,1669.5 382.4,1663.4 382.7,1660.2 383.2,1658.2 383.7,1657.3 384.4,1656.6 385.1,1656.3 385.9,1656.8 386.6,1657.8 387.5,1659.6 388.5,1661.9 389.5,1664.5 390.6,1667.5 391.6,1670.1 392.8,1672.8 394.1,1675.2 395.1,1677.0 396.2,1678.6 397.4,1680.1 398.6,1681.5 399.6,1682.4 401.5,1683.8 403.5,1684.9 405.9,1686.0 408.8,1686.9 412.1,1687.6 415.5,1688.2 420.3,1688.7 425.1,1689.0 432.4,1689.3 439.6,1689.4 439.8,1677.5 440.0,1669.5 440.3,1663.4 440.6,1660.2 441.0,1658.2 441.5,1657.3 442.3,1656.6 443.0,1656.3 443.7,1656.8 444.4,1657.8 445.4,1659.6 446.3,1661.9 447.3,1664.5 448.4,1667.5 449.5,1670.1 450.7,1672.8 451.9,1675.2 453.0,1677.0 454.1,1678.6 455.3,1680.1 456.5,1681.5 457.5,1682.4 459.4,1683.8 461.3,1684.9 463.7,1686.0 466.6,1686.9 470.0,1687.6 473.3,1688.2 478.2,1688.7 483.0,1689.0 490.2,1689.3 497.4,1689.4 497.6,1677.5 497.8,1669.5 498.1,1663.4 498.4,1660.2 498.9,1658.2 499.4,1657.3 500.1,1656.6 500.8,1656.3 501.5,1656.8 502.3,1657.8 503.2,1659.6 504.2,1661.9 505.2,1664.5 506.3,1667.5 507.3,1670.1 508.5,1672.8 509.7,1675.2 510.8,1677.0 511.9,1678.6 513.1,1680.1 514.3,1681.5 515.3,1682.4 517.2,1683.8 519.1,1684.9 521.5,1686.0 524.4,1686.9 527.8,1687.6 531.2,1688.2 536.0,1688.7 540.8,1689.0 548.1,1689.3 555.3,1689.4 555.5,1677.5 555.7,1669.5 556.0,1663.4 556.2,1660.2 556.7,1658.2 557.2,1657.3 557.9,1656.6 558.7,1656.3 559.4,1656.8 560.1,1657.8 561.1,1659.6 562.0,1661.9 563.0,1664.5 564.1,1667.5 565.2,1670.1 566.4,1672.8 567.6,1675.2 568.6,1677.0 569.7,1678.6 570.9,1680.1 572.1,1681.5 573.2,1682.4 575.0,1683.8 577.0,1684.9 579.4,1686.0 582.3,1686.9 585.6,1687.6 589.0,1688.2 593.8,1688.7 598.7,1689.0 605.9,1689.3 613.1,1689.4 613.3,1677.5 613.5,1669.5 613.8,1663.4 614.1,1660.2 614.6,1658.2 615.0,1657.3 615.8,1656.6 616.5,1656.3 617.2,1656.8 617.9,1657.8 618.9,1659.6 619.9,1661.9 620.8,1664.5 621.9,1667.5 623.0,1670.1 624.2,1672.8 625.4,1675.2 626.5,1677.0 627.6,1678.6 628.8,1680.1 630.0,1681.5 631.0,1682.4 632.9,1683.8 634.8,1684.9 637.2,1686.0 640.1,1686.9 643.5,1687.6 646.9,1688.2 651.7,1688.7 656.5,1689.0 663.7,1689.3 671.0,1689.4 671.2,1677.5 671.3,1669.5 671.6,1663.4 671.9,1660.2 672.4,1658.2 672.9,1657.3 673.6,1656.6 674.3,1656.3 675.1,1656.8 675.8,1657.8 676.7,1659.6 677.7,1661.9 678.7,1664.5 679.8,1667.5 680.8,1670.1 682.0,1672.8 683.3,1675.2 684.3,1677.0 685.4,1678.6 686.6,1680.1 687.8,1681.5 688.8,1682.4 690.7,1683.8 692.6,1684.9 695.1,1686.0 698.0,1686.9 701.3,1687.6 704.7,1688.2 709.5,1688.7 714.3,1689.0 721.6,1689.3 728.8,1689.4 729.0,1677.5 729.2,1669.5 729.5,1663.4 729.8,1660.2 730.2,1658.2 730.7,1657.3 731.5,1656.6 732.2,1656.3 732.9,1656.8 733.6,1657.8 734.6,1659.6 735.5,1661.9 736.5,1664.5 737.6,1667.5 738.7,1670.1 739.9,1672.8 741.1,1675.2 742.2,1677.0 743.3,1678.6 744.5,1680.1 745.7,1681.5 746.7,1682.4 748.6,1683.8 750.5,1684.9 752.9,1686.0 755.8,1686.9 759.2,1687.6 762.5,1688.2 767.4,1688.7 772.2,1689.0 779.4,1689.3 786.6,1689.4 786.8,1677.5 787.0,1669.5 787.3,1663.4 787.6,1660.2 788.1,1658.2 788.6,1657.3 789.3,1656.6 790.0,1656.3 790.7,1656.8 791.5,1657.8 792.4,1659.6 793.4,1661.9 794.4,1664.5 795.5,1667.5 796.5,1670.1 797.7,1672.8 798.9,1675.2 800.0,1677.0 801.1,1678.6 802.3,1680.1 803.5,1681.5 804.5,1682.4 806.4,1683.8 808.3,1684.9 810.7,1686.0 813.6,1686.9 817.0,1687.6 820.4,1688.2 825.2,1688.7 830.0,1689.0 837.2,1689.3 844.5,1689.4 844.7,1677.5 844.9,1669.5 845.2,1663.4 845.4,1660.2 845.9,1658.2 846.4,1657.3 847.1,1656.6 847.9,1656.3 848.6,1656.8 849.3,1657.8 850.3,1659.6 851.2,1661.9 852.2,1664.5 853.3,1667.5 854.4,1670.1 855.6,1672.8 856.8,1675.2 857.8,1677.0 858.9,1678.6 860.1,1680.1 861.4,1681.5 862.4,1682.4 864.2,1683.8 866.2,1684.9 868.6,1686.0 871.5,1686.9 874.8,1687.6 878.2,1688.2 883.0,1688.7 887.9,1689.0 895.1,1689.3 902.3,1689.4" fill="none" stroke="#2040FF" stroke-width="8.33" stroke-linejoin="round" stroke-linecap="round"/>
<path d="M152.1,1668.7V1692.8M210.0,1668.7V1692.8M267.8,1668.7V1692.8M325.7,1668.7V1692.8M383.5,1668.7V1692.8M441.3,1668.7V1692.8M499.2,1668.7V1692.8M557.0,1668.7V1692.8M614.9,1668.7V1692.8M672.7,1668.7V1692.8M730.5,1668.7V1692.8M788.4,1668.7V1692.8M846.2,1668.7V1692.8" stroke="#93A3FF" stroke-width="1.3" fill="none"/>
</g>
<path d="M150.30,1007.60V1695.20" stroke="#000" stroke-width="4.8" fill="none"/>
<path d="M148.00,1692.80H924.00" stroke="#000" stroke-width="4.8" fill="none"/>
<text x="127.8" y="1705.5" text-anchor="end">0</text>
<text x="127.8" y="1568.9" text-anchor="end">2</text>
<text x="127.8" y="1432.4" text-anchor="end">4</text>
<text x="127.8" y="1295.8" text-anchor="end">6</text>
<text x="127.8" y="1159.3" text-anchor="end">8</text>
<text x="127.8" y="1022.7" text-anchor="end">10</text>
<text x="150.4" y="1748.3" text-anchor="middle">0</text>
<text x="266.1" y="1748.3" text-anchor="middle">24</text>
<text x="381.8" y="1748.3" text-anchor="middle">48</text>
<text x="497.4" y="1748.3" text-anchor="middle">72</text>
<text x="613.1" y="1748.3" text-anchor="middle">96</text>
<text x="728.8" y="1748.3" text-anchor="middle">120</text>
<text x="844.5" y="1748.3" text-anchor="middle">144</text>
<path d="M136.60,1692.80H150.40M136.60,1556.24H150.40M136.60,1419.68H150.40M136.60,1283.12H150.40M136.60,1146.56H150.40M136.60,1010.00H150.40M150.40,1692.80V1706.00M266.08,1692.80V1706.00M381.76,1692.80V1706.00M497.44,1692.80V1706.00M613.12,1692.80V1706.00M728.80,1692.80V1706.00M844.48,1692.80V1706.00" stroke="#000" stroke-width="4.8" fill="none"/>
<text x="536.0" y="1820.5" text-anchor="middle" style="font-size:45.2px">Time(h)</text>
<text transform="translate(60.0,1351.4) rotate(-90)" text-anchor="middle" style="font-size:45.2px">Plasma concentration(mg/l)</text>
<text x="186.4" y="1041.8" style="font-size:45.2px">2nd trimester</text>
<text x="186.4" y="1096.8" style="font-size:45.2px">po 300mg bid</text>
<text x="29" y="1016.5" style="font-size:37.5px">C.</text>
<clipPath id="cpD"><rect x="1565.4" y="990.0" width="819.4" height="712.8"/></clipPath><g clip-path="url(#cpD)">
<polygon points="1565.4,1692.8 1566.4,1654.0 1567.4,1626.3 1568.3,1603.8 1569.3,1583.7 1570.3,1566.1 1571.3,1551.1 1572.2,1537.4 1573.2,1525.5 1574.9,1510.3 1576.5,1498.3 1578.2,1489.2 1579.8,1482.6 1581.5,1477.2 1583.1,1473.1 1584.8,1470.3 1586.5,1468.2 1588.1,1466.8 1589.8,1465.9 1591.4,1465.4 1593.5,1466.2 1595.7,1467.7 1597.8,1470.1 1599.9,1472.7 1602.0,1475.7 1604.2,1478.8 1606.3,1482.0 1608.4,1485.3 1610.5,1488.7 1612.6,1492.0 1614.8,1495.3 1616.9,1498.6 1619.0,1501.8 1621.1,1505.1 1623.2,1508.4 1624.0,1492.0 1624.8,1475.1 1625.6,1457.8 1626.4,1439.2 1627.1,1420.4 1627.9,1404.8 1628.7,1390.9 1629.5,1378.5 1630.2,1368.4 1631.0,1360.5 1631.8,1353.6 1632.6,1348.0 1633.4,1344.4 1635.0,1340.1 1636.7,1337.1 1638.4,1334.8 1640.1,1332.7 1641.8,1330.8 1643.5,1329.4 1645.2,1328.6 1646.9,1328.2 1649.1,1329.8 1651.4,1332.8 1653.7,1337.8 1656.0,1343.4 1658.3,1349.5 1660.5,1355.9 1662.8,1362.6 1665.1,1369.5 1667.4,1376.5 1669.7,1383.3 1672.0,1390.2 1674.2,1397.1 1676.5,1403.9 1678.8,1410.8 1681.1,1417.6 1681.9,1402.9 1682.6,1387.7 1683.4,1372.2 1684.2,1355.5 1685.0,1338.6 1685.8,1324.6 1686.5,1312.1 1687.3,1301.0 1688.1,1291.9 1688.9,1284.9 1689.6,1278.7 1690.4,1273.8 1691.2,1270.4 1692.6,1266.6 1694.0,1263.9 1695.4,1261.8 1696.7,1259.9 1698.1,1258.2 1699.5,1256.9 1700.9,1256.2 1702.3,1255.8 1704.7,1257.8 1707.2,1261.6 1709.6,1267.9 1712.1,1274.8 1714.5,1282.5 1716.9,1290.5 1719.4,1298.9 1721.8,1307.6 1724.3,1316.3 1726.7,1324.9 1729.2,1333.4 1731.6,1342.0 1734.0,1350.6 1736.5,1359.2 1738.9,1367.8 1739.7,1353.9 1740.5,1339.5 1741.3,1324.8 1742.0,1309.1 1742.8,1293.1 1743.6,1279.9 1744.4,1268.1 1745.1,1257.6 1745.9,1249.0 1746.7,1242.4 1747.5,1236.6 1748.3,1231.9 1749.0,1228.6 1750.2,1225.2 1751.5,1222.6 1752.7,1220.5 1753.9,1218.7 1755.1,1217.1 1756.3,1215.9 1757.5,1215.2 1758.7,1214.8 1761.2,1217.1 1763.8,1221.4 1766.3,1228.4 1768.8,1236.2 1771.4,1244.8 1773.9,1253.8 1776.5,1263.1 1779.0,1272.9 1781.5,1282.7 1784.1,1292.3 1786.6,1301.9 1789.1,1311.6 1791.7,1321.2 1794.2,1330.8 1796.8,1340.5 1797.5,1327.0 1798.3,1313.1 1799.1,1298.9 1799.9,1283.6 1800.7,1268.1 1801.4,1255.3 1802.2,1243.9 1803.0,1233.7 1803.8,1225.4 1804.5,1219.0 1805.3,1213.4 1806.1,1208.9 1806.9,1205.6 1808.0,1202.4 1809.1,1199.8 1810.2,1197.8 1811.3,1196.0 1812.5,1194.5 1813.6,1193.3 1814.7,1192.7 1815.8,1192.3 1818.4,1194.7 1821.0,1199.2 1823.6,1206.7 1826.1,1214.9 1828.7,1224.1 1831.3,1233.6 1833.9,1243.5 1836.5,1253.9 1839.1,1264.2 1841.7,1274.4 1844.3,1284.6 1846.8,1294.8 1849.4,1305.0 1852.0,1315.2 1854.6,1325.5 1855.4,1312.3 1856.2,1298.7 1856.9,1284.8 1857.7,1269.9 1858.5,1254.8 1859.3,1242.3 1860.1,1231.1 1860.8,1221.1 1861.6,1213.0 1862.4,1206.8 1863.2,1201.4 1863.9,1197.0 1864.7,1193.7 1865.8,1190.6 1866.8,1188.1 1867.9,1186.1 1868.9,1184.3 1870.0,1182.8 1871.0,1181.7 1872.1,1181.1 1873.2,1180.7 1875.8,1183.1 1878.4,1187.8 1881.0,1195.4 1883.6,1203.8 1886.3,1213.1 1888.9,1222.8 1891.5,1232.9 1894.1,1243.5 1896.7,1254.1 1899.3,1264.5 1902.0,1274.9 1904.6,1285.3 1907.2,1295.7 1909.8,1306.2 1912.4,1316.6 1913.2,1303.7 1914.0,1290.5 1914.8,1276.9 1915.6,1262.3 1916.3,1247.5 1917.1,1235.3 1917.9,1224.4 1918.7,1214.7 1919.4,1206.8 1920.2,1200.7 1921.0,1195.5 1921.8,1191.2 1922.6,1188.0 1923.6,1184.9 1924.6,1182.5 1925.6,1180.5 1926.7,1178.8 1927.7,1177.3 1928.7,1176.2 1929.7,1175.6 1930.8,1175.2 1933.4,1177.7 1936.0,1182.3 1938.7,1190.0 1941.3,1198.4 1943.9,1207.8 1946.6,1217.6 1949.2,1227.7 1951.8,1238.4 1954.5,1249.0 1957.1,1259.4 1959.7,1269.9 1962.4,1280.4 1965.0,1290.9 1967.6,1301.3 1970.3,1311.8 1971.1,1299.2 1971.8,1286.2 1972.6,1272.9 1973.4,1258.5 1974.2,1244.1 1975.0,1232.1 1975.7,1221.4 1976.5,1211.8 1977.3,1204.0 1978.1,1198.1 1978.8,1193.0 1979.6,1188.7 1980.4,1185.6 1981.4,1182.6 1982.4,1180.2 1983.4,1178.3 1984.4,1176.6 1985.4,1175.1 1986.4,1174.1 1987.4,1173.4 1988.4,1173.1 1991.0,1175.5 1993.7,1180.2 1996.3,1187.8 1999.0,1196.3 2001.6,1205.6 2004.3,1215.4 2006.9,1225.6 2009.6,1236.2 2012.2,1246.8 2014.9,1257.3 2017.5,1267.8 2020.2,1278.2 2022.8,1288.7 2025.5,1299.2 2028.1,1309.6 2028.9,1297.1 2029.7,1284.2 2030.5,1271.0 2031.2,1256.7 2032.0,1242.4 2032.8,1230.5 2033.6,1219.8 2034.3,1210.4 2035.1,1202.6 2035.9,1196.7 2036.7,1191.6 2037.5,1187.4 2038.2,1184.3 2039.2,1181.3 2040.2,1179.0 2041.2,1177.0 2042.2,1175.4 2043.2,1173.9 2044.2,1172.9 2045.2,1172.2 2046.2,1171.9 2048.8,1174.3 2051.5,1179.0 2054.1,1186.7 2056.8,1195.1 2059.5,1204.5 2062.1,1214.2 2064.8,1224.4 2067.4,1235.0 2070.1,1245.6 2072.7,1256.1 2075.4,1266.6 2078.0,1277.1 2080.7,1287.5 2083.3,1298.0 2086.0,1308.5 2086.7,1296.0 2087.5,1283.1 2088.3,1269.9 2089.1,1255.8 2089.9,1241.5 2090.6,1229.6 2091.4,1219.0 2092.2,1209.6 2093.0,1201.9 2093.7,1196.0 2094.5,1190.9 2095.3,1186.7 2096.1,1183.6 2097.1,1180.7 2098.1,1178.3 2099.1,1176.4 2100.1,1174.7 2101.1,1173.2 2102.0,1172.2 2103.0,1171.6 2104.0,1171.3 2106.7,1173.7 2109.3,1178.4 2112.0,1186.0 2114.6,1194.4 2117.3,1203.8 2119.9,1213.6 2122.6,1223.8 2125.2,1234.4 2127.9,1245.0 2130.5,1255.5 2133.2,1265.9 2135.8,1276.4 2138.5,1286.9 2141.1,1297.3 2143.8,1307.8 2144.6,1295.3 2145.4,1282.5 2146.1,1269.4 2146.9,1255.2 2147.7,1240.9 2148.5,1229.1 2149.3,1218.5 2150.0,1209.1 2150.8,1201.5 2151.6,1195.6 2152.4,1190.5 2153.1,1186.3 2153.9,1183.2 2154.9,1180.3 2155.9,1177.9 2156.9,1176.0 2157.9,1174.3 2158.9,1172.9 2159.9,1171.9 2160.9,1171.2 2161.9,1170.9 2164.5,1173.3 2167.2,1178.0 2169.8,1185.6 2172.5,1194.1 2175.1,1203.5 2177.8,1213.2 2180.4,1223.4 2183.1,1234.0 2185.7,1244.6 2188.4,1255.1 2191.0,1265.6 2193.7,1276.0 2196.3,1286.5 2199.0,1297.0 2201.6,1307.5 2202.4,1295.0 2203.2,1282.2 2204.0,1269.1 2204.8,1254.9 2205.5,1240.7 2206.3,1228.9 2207.1,1218.3 2207.9,1208.9 2208.6,1201.2 2209.4,1195.3 2210.2,1190.3 2211.0,1186.1 2211.8,1183.0 2212.8,1180.1 2213.8,1177.7 2214.7,1175.8 2215.7,1174.1 2216.7,1172.7 2217.7,1171.7 2218.7,1171.0 2219.7,1170.7 2222.4,1173.1 2225.0,1177.8 2227.7,1185.4 2230.3,1193.9 2233.0,1203.3 2235.6,1213.0 2238.3,1223.2 2240.9,1233.8 2243.6,1244.4 2246.2,1254.9 2248.9,1265.4 2251.5,1275.8 2254.2,1286.3 2256.8,1296.8 2259.5,1307.3 2260.3,1294.8 2261.0,1282.0 2261.8,1268.9 2262.6,1254.7 2263.4,1240.4 2264.2,1228.6 2264.9,1218.1 2265.7,1208.7 2266.5,1201.0 2267.3,1195.1 2268.0,1190.1 2268.8,1185.9 2269.6,1182.8 2270.6,1179.8 2271.6,1177.5 2272.6,1175.6 2273.6,1173.9 2274.6,1172.4 2275.6,1171.4 2276.6,1170.8 2277.6,1170.5 2280.2,1172.9 2282.9,1177.6 2285.5,1185.2 2288.2,1193.6 2290.8,1203.0 2293.5,1212.8 2296.1,1223.0 2298.8,1233.6 2301.4,1244.2 2304.1,1254.7 2306.7,1265.1 2309.4,1275.6 2312.0,1286.1 2314.7,1296.5 2317.3,1307.0 2317.3,1532.3 2314.5,1525.3 2311.7,1517.8 2308.9,1509.7 2306.1,1501.1 2303.3,1492.4 2300.5,1483.7 2297.7,1474.9 2294.9,1466.1 2292.1,1457.3 2289.3,1448.5 2286.5,1439.5 2283.7,1430.5 2280.9,1422.4 2278.0,1416.1 2275.2,1412.9 2274.5,1413.1 2273.8,1413.7 2273.1,1414.6 2272.4,1415.9 2271.7,1417.4 2271.0,1419.1 2270.3,1421.2 2269.6,1423.6 2268.8,1426.6 2268.0,1430.2 2267.3,1434.4 2266.5,1439.5 2265.7,1446.2 2264.9,1454.4 2264.2,1463.7 2263.4,1474.0 2262.6,1486.5 2261.8,1498.8 2261.0,1510.3 2260.3,1521.5 2259.5,1532.4 2256.7,1525.4 2253.9,1517.9 2251.1,1509.7 2248.3,1501.1 2245.5,1492.4 2242.6,1483.7 2239.8,1474.9 2237.0,1466.1 2234.2,1457.3 2231.4,1448.5 2228.6,1439.5 2225.8,1430.6 2223.0,1422.4 2220.2,1416.2 2217.4,1412.9 2216.7,1413.2 2216.0,1413.8 2215.3,1414.7 2214.6,1415.9 2213.9,1417.4 2213.2,1419.2 2212.5,1421.3 2211.8,1423.7 2211.0,1426.7 2210.2,1430.3 2209.4,1434.5 2208.6,1439.6 2207.9,1446.3 2207.1,1454.5 2206.3,1463.7 2205.5,1474.0 2204.8,1486.5 2204.0,1498.9 2203.2,1510.3 2202.4,1521.5 2201.6,1532.4 2198.8,1525.4 2196.0,1517.9 2193.2,1509.8 2190.4,1501.1 2187.6,1492.5 2184.8,1483.7 2182.0,1475.0 2179.2,1466.2 2176.4,1457.4 2173.6,1448.6 2170.8,1439.6 2168.0,1430.6 2165.2,1422.5 2162.4,1416.2 2159.6,1413.0 2158.9,1413.3 2158.2,1413.8 2157.4,1414.7 2156.7,1416.0 2156.0,1417.5 2155.3,1419.3 2154.6,1421.4 2153.9,1423.7 2153.1,1426.7 2152.4,1430.3 2151.6,1434.6 2150.8,1439.6 2150.0,1446.3 2149.3,1454.6 2148.5,1463.8 2147.7,1474.1 2146.9,1486.6 2146.1,1498.9 2145.4,1510.4 2144.6,1521.6 2143.8,1532.5 2141.0,1525.5 2138.2,1518.0 2135.4,1509.8 2132.6,1501.2 2129.8,1492.5 2127.0,1483.8 2124.2,1475.0 2121.4,1466.3 2118.6,1457.5 2115.7,1448.7 2112.9,1439.7 2110.1,1430.7 2107.3,1422.6 2104.5,1416.3 2101.7,1413.1 2101.0,1413.4 2100.3,1413.9 2099.6,1414.8 2098.9,1416.1 2098.2,1417.6 2097.5,1419.4 2096.8,1421.5 2096.1,1423.8 2095.3,1426.8 2094.5,1430.4 2093.7,1434.7 2093.0,1439.7 2092.2,1446.4 2091.4,1454.7 2090.6,1463.9 2089.9,1474.2 2089.1,1486.7 2088.3,1499.0 2087.5,1510.5 2086.7,1521.7 2086.0,1532.5 2083.2,1525.6 2080.3,1518.1 2077.5,1509.9 2074.7,1501.3 2071.9,1492.7 2069.1,1483.9 2066.3,1475.2 2063.5,1466.4 2060.7,1457.6 2057.9,1448.8 2055.1,1439.8 2052.3,1430.9 2049.5,1422.7 2046.7,1416.5 2043.9,1413.3 2043.2,1413.6 2042.5,1414.1 2041.8,1415.0 2041.1,1416.3 2040.4,1417.8 2039.7,1419.6 2038.9,1421.6 2038.2,1424.0 2037.5,1427.0 2036.7,1430.6 2035.9,1434.8 2035.1,1439.9 2034.3,1446.6 2033.6,1454.8 2032.8,1464.1 2032.0,1474.4 2031.2,1486.8 2030.5,1499.2 2029.7,1510.7 2028.9,1521.8 2028.1,1532.7 2025.3,1525.7 2022.5,1518.2 2019.7,1510.1 2016.9,1501.5 2014.1,1492.9 2011.3,1484.2 2008.5,1475.4 2005.7,1466.7 2002.9,1457.9 2000.1,1449.1 1997.3,1440.1 1994.5,1431.2 1991.7,1423.1 1988.8,1416.9 1986.0,1413.6 1985.3,1413.9 1984.6,1414.4 1983.9,1415.3 1983.2,1416.6 1982.5,1418.1 1981.8,1419.9 1981.1,1422.0 1980.4,1424.4 1979.6,1427.4 1978.8,1430.9 1978.1,1435.2 1977.3,1440.3 1976.5,1447.0 1975.7,1455.2 1975.0,1464.4 1974.2,1474.7 1973.4,1487.2 1972.6,1499.5 1971.8,1511.0 1971.1,1522.2 1970.3,1533.0 1967.5,1526.1 1964.7,1518.6 1961.9,1510.5 1959.1,1501.9 1956.3,1493.3 1953.5,1484.6 1950.7,1475.9 1947.9,1467.1 1945.1,1458.4 1942.3,1449.6 1939.5,1440.7 1936.7,1431.8 1933.9,1423.7 1931.1,1417.5 1928.2,1414.2 1927.5,1414.5 1926.8,1415.1 1926.1,1415.9 1925.4,1417.2 1924.7,1418.7 1924.0,1420.5 1923.3,1422.6 1922.6,1425.0 1921.8,1428.0 1921.0,1431.5 1920.2,1435.8 1919.4,1440.9 1918.7,1447.6 1917.9,1455.8 1917.1,1465.0 1916.3,1475.3 1915.6,1487.8 1914.8,1500.2 1914.0,1511.6 1913.2,1522.8 1912.4,1533.7 1909.7,1526.8 1906.9,1519.4 1904.1,1511.3 1901.3,1502.8 1898.5,1494.2 1895.7,1485.6 1892.9,1476.9 1890.1,1468.2 1887.3,1459.5 1884.5,1450.8 1881.8,1441.9 1879.0,1433.1 1876.2,1425.0 1873.4,1418.8 1870.6,1415.6 1869.9,1415.9 1869.1,1416.4 1868.4,1417.3 1867.7,1418.6 1866.9,1420.1 1866.2,1421.8 1865.5,1423.9 1864.7,1426.3 1863.9,1429.2 1863.2,1432.8 1862.4,1437.0 1861.6,1442.1 1860.8,1448.8 1860.1,1456.9 1859.3,1466.1 1858.5,1476.4 1857.7,1488.8 1856.9,1501.0 1856.2,1512.4 1855.4,1523.6 1854.6,1534.4 1851.8,1527.5 1849.1,1520.1 1846.3,1512.1 1843.5,1503.7 1840.8,1495.1 1838.0,1486.5 1835.3,1477.9 1832.5,1469.3 1829.7,1460.6 1827.0,1452.0 1824.2,1443.1 1821.4,1434.3 1818.7,1426.3 1815.9,1420.2 1813.1,1416.9 1812.4,1417.2 1811.6,1417.8 1810.8,1418.7 1810.0,1419.9 1809.2,1421.4 1808.4,1423.2 1807.7,1425.2 1806.9,1427.6 1806.1,1430.5 1805.3,1434.1 1804.5,1438.4 1803.8,1443.5 1803.0,1450.1 1802.2,1458.3 1801.4,1467.5 1800.7,1477.7 1799.9,1490.1 1799.1,1502.4 1798.3,1513.8 1797.5,1524.9 1796.8,1535.8 1794.0,1529.2 1791.3,1522.1 1788.6,1514.4 1785.8,1506.3 1783.1,1498.1 1780.4,1489.9 1777.6,1481.6 1774.9,1473.3 1772.2,1465.0 1769.4,1456.7 1766.7,1448.2 1764.0,1439.8 1761.3,1432.1 1758.5,1426.2 1755.8,1423.1 1754.9,1423.4 1754.1,1423.9 1753.3,1424.8 1752.4,1426.1 1751.6,1427.5 1750.7,1429.2 1749.9,1431.3 1749.0,1433.7 1748.3,1436.6 1747.5,1440.1 1746.7,1444.4 1745.9,1449.5 1745.1,1456.1 1744.4,1464.2 1743.6,1473.3 1742.8,1483.5 1742.0,1495.9 1741.3,1508.1 1740.5,1519.4 1739.7,1530.5 1738.9,1541.2 1736.3,1535.2 1733.6,1528.7 1730.9,1521.7 1728.3,1514.2 1725.6,1506.7 1722.9,1499.2 1720.3,1491.6 1717.6,1484.0 1714.9,1476.5 1712.2,1468.9 1709.6,1461.1 1706.9,1453.4 1704.2,1446.3 1701.6,1440.9 1698.9,1438.1 1698.0,1438.4 1697.0,1438.9 1696.0,1439.8 1695.1,1441.0 1694.1,1442.4 1693.1,1444.1 1692.2,1446.1 1691.2,1448.6 1690.4,1451.2 1689.6,1454.8 1688.9,1459.0 1688.1,1464.0 1687.3,1470.5 1686.5,1478.5 1685.8,1487.5 1685.0,1497.5 1684.2,1509.6 1683.4,1521.6 1682.6,1532.8 1681.9,1543.6 1681.1,1554.2 1678.6,1549.6 1676.1,1544.7 1673.6,1539.4 1671.1,1533.8 1668.5,1528.2 1666.0,1522.5 1663.5,1516.8 1661.0,1511.0 1658.5,1505.3 1656.0,1499.6 1653.5,1493.7 1651.0,1487.9 1648.5,1482.5 1646.0,1478.5 1643.5,1476.4 1642.2,1476.6 1641.0,1477.2 1639.7,1478.1 1638.4,1479.3 1637.2,1480.7 1635.9,1482.3 1634.6,1484.3 1633.4,1486.9 1632.6,1489.4 1631.8,1493.0 1631.0,1497.5 1630.2,1502.6 1629.5,1509.2 1628.7,1517.2 1627.9,1526.3 1627.1,1536.4 1626.4,1548.7 1625.6,1560.8 1624.8,1572.1 1624.0,1583.1 1623.2,1593.8 1621.0,1592.0 1618.7,1590.1 1616.5,1588.0 1614.2,1585.8 1612.0,1583.5 1609.7,1581.3 1607.5,1579.0 1605.2,1576.8 1603.0,1574.5 1600.7,1572.2 1598.5,1569.9 1596.2,1567.6 1594.0,1565.5 1591.7,1563.9 1589.5,1563.1 1588.0,1563.3 1586.4,1563.9 1584.9,1564.6 1583.4,1565.8 1581.8,1567.5 1580.3,1569.8 1578.8,1572.9 1577.2,1576.6 1575.7,1581.8 1574.2,1588.7 1572.6,1597.4 1571.7,1604.1 1570.8,1611.9 1569.9,1620.5 1569.0,1630.5 1568.1,1642.0 1567.2,1654.8 1566.3,1670.7 1565.4,1692.8" fill="#FDC0C0"/>
<polyline points="1565.4,1692.8 1566.4,1662.3 1567.4,1640.5 1568.4,1622.7 1569.4,1606.9 1570.4,1593.1 1571.4,1581.3 1572.4,1570.5 1573.4,1561.2 1575.0,1549.2 1576.7,1539.7 1578.4,1532.6 1580.1,1527.4 1581.8,1523.2 1583.5,1520.0 1585.2,1517.7 1586.8,1516.1 1588.5,1515.0 1590.2,1514.3 1591.9,1513.9 1594.0,1514.5 1596.1,1515.9 1598.2,1517.9 1600.3,1520.4 1602.4,1523.1 1604.4,1526.1 1606.5,1529.2 1608.6,1532.5 1610.7,1536.2 1612.8,1539.9 1614.9,1543.3 1617.0,1546.6 1619.1,1549.9 1621.2,1553.1 1623.2,1556.2 1624.1,1548.9 1624.9,1539.6 1625.8,1527.5 1626.7,1514.3 1627.5,1501.0 1628.4,1487.9 1629.2,1476.5 1630.1,1466.6 1630.9,1457.5 1631.8,1449.0 1632.6,1440.5 1633.5,1431.3 1634.3,1424.7 1635.6,1419.5 1636.9,1415.8 1638.1,1413.0 1639.4,1410.8 1640.7,1409.0 1641.9,1407.8 1643.2,1407.0 1644.4,1406.7 1646.9,1407.8 1649.3,1410.6 1651.8,1414.6 1654.2,1419.3 1656.7,1424.7 1659.1,1430.5 1661.5,1436.6 1664.0,1443.1 1666.4,1450.2 1668.9,1457.4 1671.3,1464.1 1673.8,1470.5 1676.2,1476.9 1678.6,1483.1 1681.1,1489.3 1681.9,1482.7 1682.8,1474.3 1683.6,1463.5 1684.5,1451.6 1685.3,1439.7 1686.2,1427.9 1687.0,1417.6 1687.9,1408.7 1688.8,1400.5 1689.6,1392.8 1690.5,1385.2 1691.3,1377.1 1692.2,1371.0 1693.2,1366.6 1694.2,1363.2 1695.2,1360.6 1696.3,1358.5 1697.3,1356.8 1698.3,1355.8 1699.3,1355.1 1700.4,1354.8 1702.9,1356.2 1705.5,1359.8 1708.1,1364.9 1710.6,1371.0 1713.2,1377.9 1715.8,1385.2 1718.4,1393.1 1720.9,1401.4 1723.5,1410.5 1726.1,1419.7 1728.6,1428.4 1731.2,1436.6 1733.8,1444.7 1736.3,1452.7 1738.9,1460.6 1739.8,1454.3 1740.6,1446.2 1741.5,1435.7 1742.3,1424.2 1743.2,1412.8 1744.0,1401.4 1744.9,1391.5 1745.7,1382.9 1746.6,1375.0 1747.4,1367.6 1748.3,1360.2 1749.2,1352.5 1750.0,1346.5 1750.9,1342.4 1751.8,1339.1 1752.7,1336.5 1753.6,1334.5 1754.5,1332.9 1755.4,1331.8 1756.3,1331.2 1757.2,1330.9 1759.9,1332.4 1762.5,1336.4 1765.1,1341.9 1767.8,1348.7 1770.4,1356.3 1773.0,1364.3 1775.7,1372.9 1778.3,1382.0 1781.0,1392.0 1783.6,1402.1 1786.2,1411.6 1788.9,1420.6 1791.5,1429.5 1794.1,1438.3 1796.8,1447.0 1797.6,1440.7 1798.5,1432.8 1799.3,1422.5 1800.2,1411.2 1801.0,1399.9 1801.9,1388.7 1802.7,1378.9 1803.6,1370.4 1804.4,1362.7 1805.3,1355.4 1806.1,1348.2 1807.0,1340.6 1807.8,1334.6 1808.7,1330.7 1809.5,1327.4 1810.4,1324.8 1811.2,1322.8 1812.1,1321.2 1812.9,1320.2 1813.8,1319.6 1814.6,1319.3 1817.3,1320.9 1819.9,1325.0 1822.6,1330.8 1825.3,1337.8 1827.9,1345.7 1830.6,1354.1 1833.3,1363.0 1835.9,1372.5 1838.6,1382.9 1841.3,1393.4 1843.9,1403.3 1846.6,1412.7 1849.3,1421.9 1851.9,1431.1 1854.6,1440.2 1855.5,1433.9 1856.3,1426.0 1857.2,1415.8 1858.0,1404.5 1858.9,1393.3 1859.7,1382.2 1860.6,1372.4 1861.4,1364.0 1862.3,1356.3 1863.1,1349.1 1864.0,1341.9 1864.8,1334.4 1865.7,1328.4 1866.5,1324.5 1867.3,1321.2 1868.1,1318.6 1868.9,1316.7 1869.8,1315.1 1870.6,1314.1 1871.4,1313.4 1872.2,1313.2 1874.9,1314.8 1877.6,1319.0 1880.2,1325.0 1882.9,1332.2 1885.6,1340.3 1888.3,1348.9 1891.0,1358.1 1893.7,1367.9 1896.3,1378.6 1899.0,1389.4 1901.7,1399.5 1904.4,1409.2 1907.1,1418.7 1909.8,1428.1 1912.4,1437.4 1913.3,1431.1 1914.1,1423.2 1915.0,1412.9 1915.9,1401.6 1916.7,1390.3 1917.6,1379.1 1918.4,1369.3 1919.3,1360.9 1920.1,1353.2 1921.0,1345.8 1921.8,1338.6 1922.7,1331.1 1923.5,1325.1 1924.3,1321.2 1925.1,1317.9 1925.9,1315.2 1926.7,1313.3 1927.4,1311.7 1928.2,1310.6 1929.0,1310.0 1929.8,1309.7 1932.5,1311.4 1935.2,1315.7 1937.9,1321.8 1940.6,1329.2 1943.3,1337.5 1946.0,1346.3 1948.7,1355.7 1951.4,1365.7 1954.1,1376.6 1956.8,1387.7 1959.5,1398.0 1962.2,1407.9 1964.9,1417.6 1967.6,1427.2 1970.3,1436.8 1971.1,1430.4 1972.0,1422.4 1972.8,1412.0 1973.7,1400.6 1974.5,1389.2 1975.4,1377.9 1976.2,1368.0 1977.1,1359.5 1978.0,1351.7 1978.8,1344.3 1979.7,1337.0 1980.5,1329.5 1981.4,1323.4 1982.1,1319.4 1982.9,1316.1 1983.7,1313.5 1984.5,1311.4 1985.3,1309.8 1986.0,1308.8 1986.8,1308.2 1987.6,1307.9 1990.3,1309.6 1993.0,1313.9 1995.7,1320.1 1998.4,1327.6 2001.1,1336.0 2003.8,1344.9 2006.5,1354.4 2009.2,1364.5 2011.9,1375.6 2014.6,1386.7 2017.3,1397.2 2020.0,1407.2 2022.7,1417.1 2025.4,1426.8 2028.1,1436.4 2029.0,1430.1 2029.8,1422.0 2030.7,1411.6 2031.5,1400.1 2032.4,1388.6 2033.2,1377.3 2034.1,1367.3 2034.9,1358.8 2035.8,1350.9 2036.6,1343.5 2037.5,1336.2 2038.4,1328.6 2039.2,1322.4 2040.0,1318.5 2040.8,1315.2 2041.5,1312.5 2042.3,1310.5 2043.1,1308.8 2043.9,1307.8 2044.6,1307.2 2045.4,1306.9 2048.1,1308.6 2050.8,1313.0 2053.5,1319.2 2056.2,1326.7 2058.9,1335.1 2061.6,1344.1 2064.3,1353.7 2067.0,1363.9 2069.7,1375.0 2072.4,1386.3 2075.2,1396.8 2077.9,1406.9 2080.6,1416.8 2083.3,1426.6 2086.0,1436.3 2086.8,1429.9 2087.7,1421.8 2088.5,1411.3 2089.4,1399.8 2090.2,1388.3 2091.1,1376.9 2091.9,1367.0 2092.8,1358.4 2093.6,1350.5 2094.5,1343.1 2095.3,1335.7 2096.2,1328.1 2097.0,1321.9 2097.8,1318.0 2098.6,1314.6 2099.4,1311.9 2100.2,1309.9 2100.9,1308.3 2101.7,1307.2 2102.5,1306.6 2103.3,1306.3 2106.0,1308.0 2108.7,1312.4 2111.4,1318.7 2114.1,1326.2 2116.8,1334.7 2119.5,1343.7 2122.2,1353.3 2124.9,1363.5 2127.6,1374.7 2130.3,1386.0 2133.0,1396.6 2135.7,1406.7 2138.4,1416.6 2141.1,1426.4 2143.8,1436.2 2144.7,1429.8 2145.5,1421.7 2146.4,1411.2 2147.2,1399.6 2148.1,1388.1 2148.9,1376.7 2149.8,1366.8 2150.6,1358.1 2151.5,1350.3 2152.3,1342.8 2153.2,1335.4 2154.0,1327.8 2154.9,1321.6 2155.7,1317.7 2156.4,1314.3 2157.2,1311.6 2158.0,1309.6 2158.8,1308.0 2159.5,1306.9 2160.3,1306.3 2161.1,1306.0 2163.8,1307.7 2166.5,1312.1 2169.2,1318.4 2171.9,1325.9 2174.6,1334.4 2177.3,1343.4 2180.0,1353.1 2182.7,1363.3 2185.4,1374.5 2188.1,1385.8 2190.8,1396.4 2193.5,1406.5 2196.2,1416.5 2198.9,1426.4 2201.6,1436.1 2202.5,1429.7 2203.3,1421.6 2204.2,1411.1 2205.1,1399.6 2205.9,1388.0 2206.8,1376.6 2207.6,1366.6 2208.5,1358.0 2209.3,1350.1 2210.2,1342.7 2211.0,1335.3 2211.9,1327.7 2212.7,1321.5 2213.5,1317.5 2214.3,1314.2 2215.1,1311.5 2215.8,1309.4 2216.6,1307.8 2217.4,1306.8 2218.2,1306.1 2218.9,1305.9 2221.6,1307.6 2224.3,1312.0 2227.1,1318.2 2229.8,1325.8 2232.5,1334.3 2235.2,1343.3 2237.9,1352.9 2240.6,1363.2 2243.3,1374.4 2246.0,1385.7 2248.7,1396.4 2251.4,1406.5 2254.1,1416.5 2256.8,1426.3 2259.5,1436.1 2260.3,1429.7 2261.2,1421.6 2262.0,1411.1 2262.9,1399.5 2263.7,1388.0 2264.6,1376.5 2265.4,1366.5 2266.3,1357.9 2267.2,1350.0 2268.0,1342.5 2268.9,1335.1 2269.7,1327.5 2270.6,1321.3 2271.3,1317.3 2272.1,1314.0 2272.9,1311.3 2273.7,1309.2 2274.5,1307.6 2275.2,1306.6 2276.0,1305.9 2276.8,1305.7 2279.5,1307.4 2282.2,1311.8 2284.9,1318.0 2287.6,1325.6 2290.3,1334.1 2293.0,1343.1 2295.7,1352.8 2298.4,1363.1 2301.1,1374.3 2303.8,1385.6 2306.5,1396.3 2309.2,1406.4 2311.9,1416.4 2314.6,1426.3 2317.3,1436.1" fill="none" stroke="#F04144" stroke-width="8.33" stroke-linejoin="round" stroke-linecap="round"/>
<path d="M1563.8,1487.96H2317.3" stroke="#808080" stroke-width="4.2" stroke-dasharray="24.9 26" fill="none"/>
<polygon points="1565.4,1692.8 1565.6,1681.0 1565.8,1672.6 1566.1,1665.5 1566.4,1660.9 1566.8,1656.2 1567.3,1653.7 1568.1,1651.5 1568.8,1651.5 1569.5,1653.9 1570.2,1657.2 1571.2,1661.2 1572.1,1664.3 1573.1,1666.8 1574.2,1669.6 1575.3,1672.0 1576.5,1674.4 1577.7,1676.5 1578.8,1678.2 1579.9,1679.6 1581.1,1681.0 1582.3,1682.2 1583.3,1683.1 1585.2,1684.4 1587.1,1685.3 1589.5,1686.3 1592.4,1687.1 1595.8,1687.8 1599.1,1688.3 1604.0,1688.7 1608.8,1689.0 1616.0,1689.3 1623.2,1689.4 1623.4,1678.0 1623.6,1670.1 1623.9,1663.7 1624.2,1659.7 1624.7,1656.2 1625.2,1653.7 1625.9,1651.5 1626.6,1651.5 1627.3,1653.9 1628.1,1657.2 1629.0,1661.2 1630.0,1664.3 1631.0,1666.8 1632.1,1669.6 1633.1,1672.0 1634.3,1674.4 1635.5,1676.5 1636.6,1678.2 1637.7,1679.6 1638.9,1681.0 1640.1,1682.2 1641.1,1683.1 1643.0,1684.4 1644.9,1685.3 1647.3,1686.3 1650.2,1687.1 1653.6,1687.8 1657.0,1688.3 1661.8,1688.7 1666.6,1689.0 1673.9,1689.3 1681.1,1689.4 1681.3,1678.0 1681.5,1670.1 1681.8,1663.7 1682.0,1659.7 1682.5,1656.2 1683.0,1653.7 1683.7,1651.5 1684.5,1651.5 1685.2,1653.9 1685.9,1657.2 1686.9,1661.2 1687.8,1664.3 1688.8,1666.8 1689.9,1669.6 1691.0,1672.0 1692.2,1674.4 1693.4,1676.5 1694.4,1678.2 1695.5,1679.6 1696.7,1681.0 1698.0,1682.2 1699.0,1683.1 1700.8,1684.4 1702.8,1685.3 1705.2,1686.3 1708.1,1687.1 1711.4,1687.8 1714.8,1688.3 1719.6,1688.7 1724.5,1689.0 1731.7,1689.3 1738.9,1689.4 1739.1,1678.0 1739.3,1670.1 1739.6,1663.7 1739.9,1659.7 1740.4,1656.2 1740.8,1653.7 1741.6,1651.5 1742.3,1651.5 1743.0,1653.9 1743.7,1657.2 1744.7,1661.2 1745.7,1664.3 1746.6,1666.8 1747.7,1669.6 1748.8,1672.0 1750.0,1674.4 1751.2,1676.5 1752.3,1678.2 1753.4,1679.6 1754.6,1681.0 1755.8,1682.2 1756.8,1683.1 1758.7,1684.4 1760.6,1685.3 1763.0,1686.3 1765.9,1687.1 1769.3,1687.8 1772.7,1688.3 1777.5,1688.7 1782.3,1689.0 1789.5,1689.3 1796.8,1689.4 1797.0,1678.0 1797.1,1670.1 1797.4,1663.7 1797.7,1659.7 1798.2,1656.2 1798.7,1653.7 1799.4,1651.5 1800.1,1651.5 1800.9,1653.9 1801.6,1657.2 1802.5,1661.2 1803.5,1664.3 1804.5,1666.8 1805.6,1669.6 1806.6,1672.0 1807.8,1674.4 1809.1,1676.5 1810.1,1678.2 1811.2,1679.6 1812.4,1681.0 1813.6,1682.2 1814.6,1683.1 1816.5,1684.4 1818.5,1685.3 1820.9,1686.3 1823.8,1687.1 1827.1,1687.8 1830.5,1688.3 1835.3,1688.7 1840.1,1689.0 1847.4,1689.3 1854.6,1689.4 1854.8,1678.0 1855.0,1670.1 1855.3,1663.7 1855.6,1659.7 1856.0,1656.2 1856.5,1653.7 1857.3,1651.5 1858.0,1651.5 1858.7,1653.9 1859.4,1657.2 1860.4,1661.2 1861.3,1664.3 1862.3,1666.8 1863.4,1669.6 1864.5,1672.0 1865.7,1674.4 1866.9,1676.5 1868.0,1678.2 1869.1,1679.6 1870.3,1681.0 1871.5,1682.2 1872.5,1683.1 1874.4,1684.4 1876.3,1685.3 1878.7,1686.3 1881.6,1687.1 1885.0,1687.8 1888.3,1688.3 1893.2,1688.7 1898.0,1689.0 1905.2,1689.3 1912.4,1689.4 1912.6,1678.0 1912.8,1670.1 1913.1,1663.7 1913.4,1659.7 1913.9,1656.2 1914.4,1653.7 1915.1,1651.5 1915.8,1651.5 1916.5,1653.9 1917.3,1657.2 1918.2,1661.2 1919.2,1664.3 1920.2,1666.8 1921.3,1669.6 1922.3,1672.0 1923.5,1674.4 1924.7,1676.5 1925.8,1678.2 1926.9,1679.6 1928.1,1681.0 1929.3,1682.2 1930.3,1683.1 1932.2,1684.4 1934.1,1685.3 1936.5,1686.3 1939.4,1687.1 1942.8,1687.8 1946.2,1688.3 1951.0,1688.7 1955.8,1689.0 1963.1,1689.3 1970.3,1689.4 1970.5,1678.0 1970.7,1670.1 1971.0,1663.7 1971.2,1659.7 1971.7,1656.2 1972.2,1653.7 1972.9,1651.5 1973.7,1651.5 1974.4,1653.9 1975.1,1657.2 1976.1,1661.2 1977.0,1664.3 1978.0,1666.8 1979.1,1669.6 1980.2,1672.0 1981.4,1674.4 1982.6,1676.5 1983.6,1678.2 1984.7,1679.6 1985.9,1681.0 1987.2,1682.2 1988.2,1683.1 1990.0,1684.4 1992.0,1685.3 1994.4,1686.3 1997.3,1687.1 2000.6,1687.8 2004.0,1688.3 2008.8,1688.7 2013.7,1689.0 2020.9,1689.3 2028.1,1689.4 2028.3,1678.0 2028.5,1670.1 2028.8,1663.7 2029.1,1659.7 2029.6,1656.2 2030.0,1653.7 2030.8,1651.5 2031.5,1651.5 2032.2,1653.9 2032.9,1657.2 2033.9,1661.2 2034.9,1664.3 2035.8,1666.8 2036.9,1669.6 2038.0,1672.0 2039.2,1674.4 2040.4,1676.5 2041.5,1678.2 2042.6,1679.6 2043.8,1681.0 2045.0,1682.2 2046.0,1683.1 2047.9,1684.4 2049.8,1685.3 2052.2,1686.3 2055.1,1687.1 2058.5,1687.8 2061.9,1688.3 2066.7,1688.7 2071.5,1689.0 2078.7,1689.3 2086.0,1689.4 2086.2,1678.0 2086.3,1670.1 2086.6,1663.7 2086.9,1659.7 2087.4,1656.2 2087.9,1653.7 2088.6,1651.5 2089.3,1651.5 2090.1,1653.9 2090.8,1657.2 2091.7,1661.2 2092.7,1664.3 2093.7,1666.8 2094.8,1669.6 2095.8,1672.0 2097.0,1674.4 2098.3,1676.5 2099.3,1678.2 2100.4,1679.6 2101.6,1681.0 2102.8,1682.2 2103.8,1683.1 2105.7,1684.4 2107.7,1685.3 2110.1,1686.3 2113.0,1687.1 2116.3,1687.8 2119.7,1688.3 2124.5,1688.7 2129.3,1689.0 2136.6,1689.3 2143.8,1689.4 2144.0,1678.0 2144.2,1670.1 2144.5,1663.7 2144.8,1659.7 2145.2,1656.2 2145.7,1653.7 2146.5,1651.5 2147.2,1651.5 2147.9,1653.9 2148.6,1657.2 2149.6,1661.2 2150.5,1664.3 2151.5,1666.8 2152.6,1669.6 2153.7,1672.0 2154.9,1674.4 2156.1,1676.5 2157.2,1678.2 2158.3,1679.6 2159.5,1681.0 2160.7,1682.2 2161.7,1683.1 2163.6,1684.4 2165.5,1685.3 2167.9,1686.3 2170.8,1687.1 2174.2,1687.8 2177.5,1688.3 2182.4,1688.7 2187.2,1689.0 2194.4,1689.3 2201.6,1689.4 2201.8,1678.0 2202.0,1670.1 2202.3,1663.7 2202.6,1659.7 2203.1,1656.2 2203.6,1653.7 2204.3,1651.5 2205.0,1651.5 2205.7,1653.9 2206.5,1657.2 2207.4,1661.2 2208.4,1664.3 2209.4,1666.8 2210.5,1669.6 2211.5,1672.0 2212.7,1674.4 2213.9,1676.5 2215.0,1678.2 2216.1,1679.6 2217.3,1681.0 2218.5,1682.2 2219.5,1683.1 2221.4,1684.4 2223.3,1685.3 2225.7,1686.3 2228.6,1687.1 2232.0,1687.8 2235.4,1688.3 2240.2,1688.7 2245.0,1689.0 2252.2,1689.3 2259.5,1689.4 2259.7,1678.0 2259.9,1670.1 2260.2,1663.7 2260.4,1659.7 2260.9,1656.2 2261.4,1653.7 2262.1,1651.5 2262.9,1651.5 2263.6,1653.9 2264.3,1657.2 2265.3,1661.2 2266.2,1664.3 2267.2,1666.8 2268.3,1669.6 2269.4,1672.0 2270.6,1674.4 2271.8,1676.5 2272.8,1678.2 2273.9,1679.6 2275.1,1681.0 2276.4,1682.2 2277.4,1683.1 2279.2,1684.4 2281.2,1685.3 2283.6,1686.3 2286.5,1687.1 2289.8,1687.8 2293.2,1688.3 2298.0,1688.7 2302.9,1689.0 2310.1,1689.3 2317.3,1689.4 2317.3,1689.4 2310.1,1689.3 2302.9,1689.0 2298.0,1688.7 2293.2,1688.3 2289.8,1687.8 2286.5,1687.1 2283.6,1686.3 2281.2,1685.3 2279.2,1684.4 2277.4,1683.1 2276.4,1682.2 2275.1,1681.0 2273.9,1679.6 2272.8,1678.2 2271.8,1676.5 2270.6,1674.4 2269.4,1672.0 2268.3,1669.8 2267.2,1667.5 2266.2,1665.9 2265.3,1665.1 2264.3,1664.7 2263.6,1664.3 2262.9,1663.8 2262.1,1663.5 2261.4,1663.2 2260.9,1663.4 2260.4,1664.5 2260.2,1667.0 2259.9,1672.1 2259.7,1679.0 2259.5,1689.4 2252.2,1689.3 2245.0,1689.0 2240.2,1688.7 2235.4,1688.3 2232.0,1687.8 2228.6,1687.1 2225.7,1686.3 2223.3,1685.3 2221.4,1684.4 2219.5,1683.1 2218.5,1682.2 2217.3,1681.0 2216.1,1679.6 2215.0,1678.2 2213.9,1676.5 2212.7,1674.4 2211.5,1672.0 2210.5,1669.8 2209.4,1667.5 2208.4,1665.9 2207.4,1665.1 2206.5,1664.7 2205.7,1664.3 2205.0,1663.8 2204.3,1663.5 2203.6,1663.2 2203.1,1663.4 2202.6,1664.5 2202.3,1667.0 2202.0,1672.1 2201.8,1679.0 2201.6,1689.4 2194.4,1689.3 2187.2,1689.0 2182.4,1688.7 2177.5,1688.3 2174.2,1687.8 2170.8,1687.1 2167.9,1686.3 2165.5,1685.3 2163.6,1684.4 2161.7,1683.1 2160.7,1682.2 2159.5,1681.0 2158.3,1679.6 2157.2,1678.2 2156.1,1676.5 2154.9,1674.4 2153.7,1672.0 2152.6,1669.8 2151.5,1667.5 2150.5,1665.9 2149.6,1665.1 2148.6,1664.7 2147.9,1664.3 2147.2,1663.8 2146.5,1663.5 2145.7,1663.2 2145.2,1663.4 2144.8,1664.5 2144.5,1667.0 2144.2,1672.1 2144.0,1679.0 2143.8,1689.4 2136.6,1689.3 2129.3,1689.0 2124.5,1688.7 2119.7,1688.3 2116.3,1687.8 2113.0,1687.1 2110.1,1686.3 2107.7,1685.3 2105.7,1684.4 2103.8,1683.1 2102.8,1682.2 2101.6,1681.0 2100.4,1679.6 2099.3,1678.2 2098.3,1676.5 2097.0,1674.4 2095.8,1672.0 2094.8,1669.8 2093.7,1667.5 2092.7,1665.9 2091.7,1665.1 2090.8,1664.7 2090.1,1664.3 2089.3,1663.8 2088.6,1663.5 2087.9,1663.2 2087.4,1663.4 2086.9,1664.5 2086.6,1667.0 2086.3,1672.1 2086.2,1679.0 2086.0,1689.4 2078.7,1689.3 2071.5,1689.0 2066.7,1688.7 2061.9,1688.3 2058.5,1687.8 2055.1,1687.1 2052.2,1686.3 2049.8,1685.3 2047.9,1684.4 2046.0,1683.1 2045.0,1682.2 2043.8,1681.0 2042.6,1679.6 2041.5,1678.2 2040.4,1676.5 2039.2,1674.4 2038.0,1672.0 2036.9,1669.8 2035.8,1667.5 2034.9,1665.9 2033.9,1665.1 2032.9,1664.7 2032.2,1664.3 2031.5,1663.8 2030.8,1663.5 2030.0,1663.2 2029.6,1663.4 2029.1,1664.5 2028.8,1667.0 2028.5,1672.1 2028.3,1679.0 2028.1,1689.4 2020.9,1689.3 2013.7,1689.0 2008.8,1688.7 2004.0,1688.3 2000.6,1687.8 1997.3,1687.1 1994.4,1686.3 1992.0,1685.3 1990.0,1684.4 1988.2,1683.1 1987.2,1682.2 1985.9,1681.0 1984.7,1679.6 1983.6,1678.2 1982.6,1676.5 1981.4,1674.4 1980.2,1672.0 1979.1,1669.8 1978.0,1667.5 1977.0,1665.9 1976.1,1665.1 1975.1,1664.7 1974.4,1664.3 1973.7,1663.8 1972.9,1663.5 1972.2,1663.2 1971.7,1663.4 1971.2,1664.5 1971.0,1667.0 1970.7,1672.1 1970.5,1679.0 1970.3,1689.4 1963.1,1689.3 1955.8,1689.0 1951.0,1688.7 1946.2,1688.3 1942.8,1687.8 1939.4,1687.1 1936.5,1686.3 1934.1,1685.3 1932.2,1684.4 1930.3,1683.1 1929.3,1682.2 1928.1,1681.0 1926.9,1679.6 1925.8,1678.2 1924.7,1676.5 1923.5,1674.4 1922.3,1672.0 1921.3,1669.8 1920.2,1667.5 1919.2,1665.9 1918.2,1665.1 1917.3,1664.7 1916.5,1664.3 1915.8,1663.8 1915.1,1663.5 1914.4,1663.2 1913.9,1663.4 1913.4,1664.5 1913.1,1667.0 1912.8,1672.1 1912.6,1679.0 1912.4,1689.4 1905.2,1689.3 1898.0,1689.0 1893.2,1688.7 1888.3,1688.3 1885.0,1687.8 1881.6,1687.1 1878.7,1686.3 1876.3,1685.3 1874.4,1684.4 1872.5,1683.1 1871.5,1682.2 1870.3,1681.0 1869.1,1679.6 1868.0,1678.2 1866.9,1676.5 1865.7,1674.4 1864.5,1672.0 1863.4,1669.8 1862.3,1667.5 1861.3,1665.9 1860.4,1665.1 1859.4,1664.7 1858.7,1664.3 1858.0,1663.8 1857.3,1663.5 1856.5,1663.2 1856.0,1663.4 1855.6,1664.5 1855.3,1667.0 1855.0,1672.1 1854.8,1679.0 1854.6,1689.4 1847.4,1689.3 1840.1,1689.0 1835.3,1688.7 1830.5,1688.3 1827.1,1687.8 1823.8,1687.1 1820.9,1686.3 1818.5,1685.3 1816.5,1684.4 1814.6,1683.1 1813.6,1682.2 1812.4,1681.0 1811.2,1679.6 1810.1,1678.2 1809.1,1676.5 1807.8,1674.4 1806.6,1672.0 1805.6,1669.8 1804.5,1667.5 1803.5,1665.9 1802.5,1665.1 1801.6,1664.7 1800.9,1664.3 1800.1,1663.8 1799.4,1663.5 1798.7,1663.2 1798.2,1663.4 1797.7,1664.5 1797.4,1667.0 1797.1,1672.1 1797.0,1679.0 1796.8,1689.4 1789.5,1689.3 1782.3,1689.0 1777.5,1688.7 1772.7,1688.3 1769.3,1687.8 1765.9,1687.1 1763.0,1686.3 1760.6,1685.3 1758.7,1684.4 1756.8,1683.1 1755.8,1682.2 1754.6,1681.0 1753.4,1679.6 1752.3,1678.2 1751.2,1676.5 1750.0,1674.4 1748.8,1672.0 1747.7,1669.8 1746.6,1667.5 1745.7,1665.9 1744.7,1665.1 1743.7,1664.7 1743.0,1664.3 1742.3,1663.8 1741.6,1663.5 1740.8,1663.2 1740.4,1663.4 1739.9,1664.5 1739.6,1667.0 1739.3,1672.1 1739.1,1679.0 1738.9,1689.4 1731.7,1689.3 1724.5,1689.0 1719.6,1688.7 1714.8,1688.3 1711.4,1687.8 1708.1,1687.1 1705.2,1686.3 1702.8,1685.3 1700.8,1684.4 1699.0,1683.1 1698.0,1682.2 1696.7,1681.0 1695.5,1679.6 1694.4,1678.2 1693.4,1676.5 1692.2,1674.4 1691.0,1672.0 1689.9,1669.8 1688.8,1667.5 1687.8,1665.9 1686.9,1665.1 1685.9,1664.7 1685.2,1664.3 1684.5,1663.8 1683.7,1663.5 1683.0,1663.2 1682.5,1663.4 1682.0,1664.5 1681.8,1667.0 1681.5,1672.1 1681.3,1679.0 1681.1,1689.4 1673.9,1689.3 1666.6,1689.0 1661.8,1688.7 1657.0,1688.3 1653.6,1687.8 1650.2,1687.1 1647.3,1686.3 1644.9,1685.3 1643.0,1684.4 1641.1,1683.1 1640.1,1682.2 1638.9,1681.0 1637.7,1679.6 1636.6,1678.2 1635.5,1676.5 1634.3,1674.4 1633.1,1672.0 1632.1,1669.8 1631.0,1667.5 1630.0,1665.9 1629.0,1665.1 1628.1,1664.7 1627.3,1664.3 1626.6,1663.8 1625.9,1663.5 1625.2,1663.2 1624.7,1663.4 1624.2,1664.5 1623.9,1667.0 1623.6,1672.1 1623.4,1679.0 1623.2,1689.4 1616.0,1689.3 1608.8,1689.0 1604.0,1688.7 1599.1,1688.3 1595.8,1687.8 1592.4,1687.1 1589.5,1686.3 1587.1,1685.3 1585.2,1684.4 1583.3,1683.1 1582.3,1682.2 1581.1,1681.0 1579.9,1679.6 1578.8,1678.2 1577.7,1676.5 1576.5,1674.4 1575.3,1672.0 1574.2,1669.8 1573.1,1667.5 1572.1,1665.9 1571.2,1665.1 1570.2,1664.7 1569.5,1664.3 1568.8,1663.8 1568.1,1663.5 1567.3,1663.2 1566.8,1663.4 1566.4,1665.7 1566.1,1668.8 1565.8,1674.6 1565.6,1681.9 1565.4,1692.8" fill="#C4CCFF"/>
<polyline points="1565.4,1692.8 1565.6,1681.6 1565.8,1673.9 1566.1,1667.8 1566.4,1664.2 1566.8,1661.3 1567.3,1660.4 1568.1,1659.7 1568.8,1659.5 1569.5,1659.9 1570.2,1660.8 1571.2,1662.5 1572.1,1664.6 1573.1,1666.9 1574.2,1669.6 1575.3,1672.0 1576.5,1674.4 1577.7,1676.5 1578.8,1678.2 1579.9,1679.6 1581.1,1681.0 1582.3,1682.2 1583.3,1683.1 1585.2,1684.4 1587.1,1685.3 1589.5,1686.3 1592.4,1687.1 1595.8,1687.8 1599.1,1688.3 1604.0,1688.7 1608.8,1689.0 1616.0,1689.3 1623.2,1689.4 1623.4,1678.7 1623.6,1671.4 1623.9,1666.0 1624.2,1663.1 1624.7,1661.3 1625.2,1660.4 1625.9,1659.7 1626.6,1659.5 1627.3,1659.9 1628.1,1660.8 1629.0,1662.5 1630.0,1664.6 1631.0,1666.9 1632.1,1669.6 1633.1,1672.0 1634.3,1674.4 1635.5,1676.5 1636.6,1678.2 1637.7,1679.6 1638.9,1681.0 1640.1,1682.2 1641.1,1683.1 1643.0,1684.4 1644.9,1685.3 1647.3,1686.3 1650.2,1687.1 1653.6,1687.8 1657.0,1688.3 1661.8,1688.7 1666.6,1689.0 1673.9,1689.3 1681.1,1689.4 1681.3,1678.7 1681.5,1671.4 1681.8,1666.0 1682.0,1663.1 1682.5,1661.3 1683.0,1660.4 1683.7,1659.7 1684.5,1659.5 1685.2,1659.9 1685.9,1660.8 1686.9,1662.5 1687.8,1664.6 1688.8,1666.9 1689.9,1669.6 1691.0,1672.0 1692.2,1674.4 1693.4,1676.5 1694.4,1678.2 1695.5,1679.6 1696.7,1681.0 1698.0,1682.2 1699.0,1683.1 1700.8,1684.4 1702.8,1685.3 1705.2,1686.3 1708.1,1687.1 1711.4,1687.8 1714.8,1688.3 1719.6,1688.7 1724.5,1689.0 1731.7,1689.3 1738.9,1689.4 1739.1,1678.7 1739.3,1671.4 1739.6,1666.0 1739.9,1663.1 1740.4,1661.3 1740.8,1660.4 1741.6,1659.7 1742.3,1659.5 1743.0,1659.9 1743.7,1660.8 1744.7,1662.5 1745.7,1664.6 1746.6,1666.9 1747.7,1669.6 1748.8,1672.0 1750.0,1674.4 1751.2,1676.5 1752.3,1678.2 1753.4,1679.6 1754.6,1681.0 1755.8,1682.2 1756.8,1683.1 1758.7,1684.4 1760.6,1685.3 1763.0,1686.3 1765.9,1687.1 1769.3,1687.8 1772.7,1688.3 1777.5,1688.7 1782.3,1689.0 1789.5,1689.3 1796.8,1689.4 1797.0,1678.7 1797.1,1671.4 1797.4,1666.0 1797.7,1663.1 1798.2,1661.3 1798.7,1660.4 1799.4,1659.7 1800.1,1659.5 1800.9,1659.9 1801.6,1660.8 1802.5,1662.5 1803.5,1664.6 1804.5,1666.9 1805.6,1669.6 1806.6,1672.0 1807.8,1674.4 1809.1,1676.5 1810.1,1678.2 1811.2,1679.6 1812.4,1681.0 1813.6,1682.2 1814.6,1683.1 1816.5,1684.4 1818.5,1685.3 1820.9,1686.3 1823.8,1687.1 1827.1,1687.8 1830.5,1688.3 1835.3,1688.7 1840.1,1689.0 1847.4,1689.3 1854.6,1689.4 1854.8,1678.7 1855.0,1671.4 1855.3,1666.0 1855.6,1663.1 1856.0,1661.3 1856.5,1660.4 1857.3,1659.7 1858.0,1659.5 1858.7,1659.9 1859.4,1660.8 1860.4,1662.5 1861.3,1664.6 1862.3,1666.9 1863.4,1669.6 1864.5,1672.0 1865.7,1674.4 1866.9,1676.5 1868.0,1678.2 1869.1,1679.6 1870.3,1681.0 1871.5,1682.2 1872.5,1683.1 1874.4,1684.4 1876.3,1685.3 1878.7,1686.3 1881.6,1687.1 1885.0,1687.8 1888.3,1688.3 1893.2,1688.7 1898.0,1689.0 1905.2,1689.3 1912.4,1689.4 1912.6,1678.7 1912.8,1671.4 1913.1,1666.0 1913.4,1663.1 1913.9,1661.3 1914.4,1660.4 1915.1,1659.7 1915.8,1659.5 1916.5,1659.9 1917.3,1660.8 1918.2,1662.5 1919.2,1664.6 1920.2,1666.9 1921.3,1669.6 1922.3,1672.0 1923.5,1674.4 1924.7,1676.5 1925.8,1678.2 1926.9,1679.6 1928.1,1681.0 1929.3,1682.2 1930.3,1683.1 1932.2,1684.4 1934.1,1685.3 1936.5,1686.3 1939.4,1687.1 1942.8,1687.8 1946.2,1688.3 1951.0,1688.7 1955.8,1689.0 1963.1,1689.3 1970.3,1689.4 1970.5,1678.7 1970.7,1671.4 1971.0,1666.0 1971.2,1663.1 1971.7,1661.3 1972.2,1660.4 1972.9,1659.7 1973.7,1659.5 1974.4,1659.9 1975.1,1660.8 1976.1,1662.5 1977.0,1664.6 1978.0,1666.9 1979.1,1669.6 1980.2,1672.0 1981.4,1674.4 1982.6,1676.5 1983.6,1678.2 1984.7,1679.6 1985.9,1681.0 1987.2,1682.2 1988.2,1683.1 1990.0,1684.4 1992.0,1685.3 1994.4,1686.3 1997.3,1687.1 2000.6,1687.8 2004.0,1688.3 2008.8,1688.7 2013.7,1689.0 2020.9,1689.3 2028.1,1689.4 2028.3,1678.7 2028.5,1671.4 2028.8,1666.0 2029.1,1663.1 2029.6,1661.3 2030.0,1660.4 2030.8,1659.7 2031.5,1659.5 2032.2,1659.9 2032.9,1660.8 2033.9,1662.5 2034.9,1664.6 2035.8,1666.9 2036.9,1669.6 2038.0,1672.0 2039.2,1674.4 2040.4,1676.5 2041.5,1678.2 2042.6,1679.6 2043.8,1681.0 2045.0,1682.2 2046.0,1683.1 2047.9,1684.4 2049.8,1685.3 2052.2,1686.3 2055.1,1687.1 2058.5,1687.8 2061.9,1688.3 2066.7,1688.7 2071.5,1689.0 2078.7,1689.3 2086.0,1689.4 2086.2,1678.7 2086.3,1671.4 2086.6,1666.0 2086.9,1663.1 2087.4,1661.3 2087.9,1660.4 2088.6,1659.7 2089.3,1659.5 2090.1,1659.9 2090.8,1660.8 2091.7,1662.5 2092.7,1664.6 2093.7,1666.9 2094.8,1669.6 2095.8,1672.0 2097.0,1674.4 2098.3,1676.5 2099.3,1678.2 2100.4,1679.6 2101.6,1681.0 2102.8,1682.2 2103.8,1683.1 2105.7,1684.4 2107.7,1685.3 2110.1,1686.3 2113.0,1687.1 2116.3,1687.8 2119.7,1688.3 2124.5,1688.7 2129.3,1689.0 2136.6,1689.3 2143.8,1689.4 2144.0,1678.7 2144.2,1671.4 2144.5,1666.0 2144.8,1663.1 2145.2,1661.3 2145.7,1660.4 2146.5,1659.7 2147.2,1659.5 2147.9,1659.9 2148.6,1660.8 2149.6,1662.5 2150.5,1664.6 2151.5,1666.9 2152.6,1669.6 2153.7,1672.0 2154.9,1674.4 2156.1,1676.5 2157.2,1678.2 2158.3,1679.6 2159.5,1681.0 2160.7,1682.2 2161.7,1683.1 2163.6,1684.4 2165.5,1685.3 2167.9,1686.3 2170.8,1687.1 2174.2,1687.8 2177.5,1688.3 2182.4,1688.7 2187.2,1689.0 2194.4,1689.3 2201.6,1689.4 2201.8,1678.7 2202.0,1671.4 2202.3,1666.0 2202.6,1663.1 2203.1,1661.3 2203.6,1660.4 2204.3,1659.7 2205.0,1659.5 2205.7,1659.9 2206.5,1660.8 2207.4,1662.5 2208.4,1664.6 2209.4,1666.9 2210.5,1669.6 2211.5,1672.0 2212.7,1674.4 2213.9,1676.5 2215.0,1678.2 2216.1,1679.6 2217.3,1681.0 2218.5,1682.2 2219.5,1683.1 2221.4,1684.4 2223.3,1685.3 2225.7,1686.3 2228.6,1687.1 2232.0,1687.8 2235.4,1688.3 2240.2,1688.7 2245.0,1689.0 2252.2,1689.3 2259.5,1689.4 2259.7,1678.7 2259.9,1671.4 2260.2,1666.0 2260.4,1663.1 2260.9,1661.3 2261.4,1660.4 2262.1,1659.7 2262.9,1659.5 2263.6,1659.9 2264.3,1660.8 2265.3,1662.5 2266.2,1664.6 2267.2,1666.9 2268.3,1669.6 2269.4,1672.0 2270.6,1674.4 2271.8,1676.5 2272.8,1678.2 2273.9,1679.6 2275.1,1681.0 2276.4,1682.2 2277.4,1683.1 2279.2,1684.4 2281.2,1685.3 2283.6,1686.3 2286.5,1687.1 2289.8,1687.8 2293.2,1688.3 2298.0,1688.7 2302.9,1689.0 2310.1,1689.3 2317.3,1689.4" fill="none" stroke="#2040FF" stroke-width="8.33" stroke-linejoin="round" stroke-linecap="round"/>
<path d="M1567.1,1670.8V1692.8M1625.0,1670.8V1692.8M1682.8,1670.8V1692.8M1740.7,1670.8V1692.8M1798.5,1670.8V1692.8M1856.3,1670.8V1692.8M1914.2,1670.8V1692.8M1972.0,1670.8V1692.8M2029.9,1670.8V1692.8M2087.7,1670.8V1692.8M2145.5,1670.8V1692.8M2203.4,1670.8V1692.8M2261.2,1670.8V1692.8" stroke="#93A3FF" stroke-width="1.3" fill="none"/>
</g>
<path d="M1565.30,1007.60V1695.20" stroke="#000" stroke-width="4.8" fill="none"/>
<path d="M1563.00,1692.80H2339.00" stroke="#000" stroke-width="4.8" fill="none"/>
<text x="1542.8" y="1705.5" text-anchor="end">0</text>
<text x="1542.8" y="1568.9" text-anchor="end">2</text>
<text x="1542.8" y="1432.4" text-anchor="end">4</text>
<text x="1542.8" y="1295.8" text-anchor="end">6</text>
<text x="1542.8" y="1159.3" text-anchor="end">8</text>
<text x="1542.8" y="1022.7" text-anchor="end">10</text>
<text x="1565.4" y="1748.3" text-anchor="middle">0</text>
<text x="1681.1" y="1748.3" text-anchor="middle">24</text>
<text x="1796.8" y="1748.3" text-anchor="middle">48</text>
<text x="1912.4" y="1748.3" text-anchor="middle">72</text>
<text x="2028.1" y="1748.3" text-anchor="middle">96</text>
<text x="2143.8" y="1748.3" text-anchor="middle">120</text>
<text x="2259.5" y="1748.3" text-anchor="middle">144</text>
<path d="M1551.60,1692.80H1565.40M1551.60,1556.24H1565.40M1551.60,1419.68H1565.40M1551.60,1283.12H1565.40M1551.60,1146.56H1565.40M1551.60,1010.00H1565.40M1565.40,1692.80V1706.00M1681.08,1692.80V1706.00M1796.76,1692.80V1706.00M1912.44,1692.80V1706.00M2028.12,1692.80V1706.00M2143.80,1692.80V1706.00M2259.48,1692.80V1706.00" stroke="#000" stroke-width="4.8" fill="none"/>
<text x="1951.0" y="1820.5" text-anchor="middle" style="font-size:45.2px">Time(h)</text>
<text transform="translate(1475.0,1351.4) rotate(-90)" text-anchor="middle" style="font-size:45.2px">Plasma concentration(mg/l)</text>
<text x="1601.4" y="1041.8" style="font-size:45.2px">3rd trimester</text>
<text x="1601.4" y="1096.8" style="font-size:45.2px">po 300mg bid</text>
<text x="1416.8" y="1031.8" style="font-size:37.5px">D.</text>
<clipPath id="cpE"><rect x="150.4" y="1956.1" width="819.4" height="712.5"/></clipPath><g clip-path="url(#cpE)">
<polyline points="150.4,2658.6 151.4,2621.1 152.4,2594.3 153.4,2572.5 154.4,2553.1 155.4,2536.2 156.4,2521.6 157.4,2508.4 158.4,2496.9 160.0,2482.2 161.7,2470.6 163.4,2461.8 165.1,2455.4 166.8,2450.2 168.5,2446.3 170.2,2443.5 171.8,2441.5 173.5,2440.2 175.2,2439.3 176.9,2438.8 179.0,2439.3 181.1,2440.7 183.2,2442.5 185.3,2444.8 187.4,2447.3 189.4,2450.0 191.5,2452.9 193.6,2456.0 195.7,2459.3 197.8,2462.7 199.9,2465.9 202.0,2468.9 204.1,2471.9 206.2,2474.8 208.2,2477.7 209.1,2468.7 209.9,2457.3 210.8,2442.5 211.7,2426.2 212.5,2410.0 213.4,2393.9 214.2,2379.8 215.1,2367.7 215.9,2356.6 216.8,2346.1 217.6,2335.6 218.5,2324.3 219.3,2316.2 220.6,2309.9 221.9,2305.3 223.1,2301.9 224.4,2299.2 225.7,2296.9 226.9,2295.4 228.2,2294.6 229.4,2294.1 231.9,2295.3 234.3,2298.3 236.8,2302.6 239.2,2307.7 241.7,2313.5 244.1,2319.7 246.5,2326.2 249.0,2333.2 251.4,2340.8 253.9,2348.6 256.3,2355.8 258.8,2362.7 261.2,2369.5 263.6,2376.2 266.1,2382.9 266.9,2374.7 267.8,2364.4 268.6,2351.0 269.5,2336.3 270.3,2321.7 271.2,2307.1 272.0,2294.4 272.9,2283.4 273.8,2273.4 274.6,2263.9 275.5,2254.5 276.3,2244.5 277.2,2236.9 278.2,2231.5 279.2,2227.3 280.2,2224.1 281.3,2221.6 282.3,2219.5 283.3,2218.2 284.3,2217.4 285.4,2217.0 287.9,2218.6 290.5,2222.7 293.1,2228.5 295.6,2235.5 298.2,2243.4 300.8,2251.8 303.4,2260.7 305.9,2270.2 308.5,2280.6 311.1,2291.1 313.6,2301.0 316.2,2310.4 318.8,2319.6 321.3,2328.8 323.9,2337.8 324.8,2330.0 325.6,2320.2 326.5,2307.4 327.3,2293.4 328.2,2279.4 329.0,2265.5 329.9,2253.4 330.7,2242.9 331.6,2233.3 332.4,2224.3 333.3,2215.2 334.2,2205.8 335.0,2198.5 335.9,2193.5 336.8,2189.4 337.7,2186.3 338.6,2183.8 339.5,2181.9 340.4,2180.6 341.3,2179.8 342.2,2179.5 344.9,2181.2 347.5,2185.8 350.1,2192.2 352.8,2199.9 355.4,2208.7 358.0,2217.9 360.7,2227.8 363.3,2238.4 366.0,2249.9 368.6,2261.5 371.2,2272.5 373.9,2282.8 376.5,2293.1 379.1,2303.2 381.8,2313.3 382.6,2305.6 383.5,2296.0 384.3,2283.5 385.2,2269.8 386.0,2256.1 386.9,2242.5 387.7,2230.6 388.6,2220.4 389.4,2211.0 390.3,2202.1 391.1,2193.3 392.0,2184.2 392.8,2176.9 393.7,2172.1 394.5,2168.1 395.4,2165.0 396.2,2162.6 397.1,2160.7 397.9,2159.4 398.8,2158.7 399.6,2158.3 402.3,2160.2 404.9,2165.0 407.6,2171.9 410.3,2180.2 412.9,2189.6 415.6,2199.5 418.3,2210.1 420.9,2221.4 423.6,2233.8 426.3,2246.2 428.9,2257.9 431.6,2269.1 434.3,2280.0 436.9,2290.9 439.6,2301.7 440.5,2294.0 441.3,2284.4 442.2,2271.9 443.0,2258.2 443.9,2244.5 444.7,2230.9 445.6,2219.0 446.4,2208.8 447.3,2199.4 448.1,2190.5 449.0,2181.7 449.8,2172.6 450.7,2165.3 451.5,2160.5 452.3,2156.6 453.1,2153.4 453.9,2151.0 454.8,2149.1 455.6,2147.8 456.4,2147.1 457.2,2146.7 459.9,2148.6 462.6,2153.6 465.2,2160.6 467.9,2169.1 470.6,2178.6 473.3,2188.7 476.0,2199.5 478.7,2211.0 481.3,2223.6 484.0,2236.3 486.7,2248.2 489.4,2259.6 492.1,2270.7 494.8,2281.8 497.4,2292.8 498.3,2285.3 499.1,2275.9 500.0,2263.7 500.9,2250.3 501.7,2236.9 502.6,2223.6 503.4,2212.0 504.3,2201.9 505.1,2192.8 506.0,2184.1 506.8,2175.5 507.7,2166.6 508.5,2159.4 509.3,2154.8 510.1,2150.9 510.9,2147.8 511.7,2145.4 512.4,2143.5 513.2,2142.3 514.0,2141.6 514.8,2141.3 517.5,2143.2 520.2,2148.2 522.9,2155.3 525.6,2163.8 528.3,2173.5 531.0,2183.6 533.7,2194.5 536.4,2206.2 539.1,2218.9 541.8,2231.7 544.5,2243.7 547.2,2255.2 549.9,2266.4 552.6,2277.6 555.3,2288.7 556.1,2281.3 557.0,2271.9 557.8,2259.7 558.7,2246.4 559.5,2233.0 560.4,2219.8 561.2,2208.3 562.1,2198.3 563.0,2189.2 563.8,2180.5 564.7,2172.0 565.5,2163.1 566.4,2156.0 567.1,2151.4 567.9,2147.5 568.7,2144.4 569.5,2142.0 570.3,2140.2 571.0,2138.9 571.8,2138.2 572.6,2137.9 575.3,2139.8 578.0,2144.9 580.7,2152.0 583.4,2160.7 586.1,2170.4 588.8,2180.7 591.5,2191.7 594.2,2203.5 596.9,2216.3 599.6,2229.3 602.3,2241.4 605.0,2253.0 607.7,2264.4 610.4,2275.7 613.1,2286.8 614.0,2279.4 614.8,2270.0 615.7,2257.9 616.5,2244.5 617.4,2231.2 618.2,2218.0 619.1,2206.4 619.9,2196.4 620.8,2187.3 621.6,2178.7 622.5,2170.1 623.4,2161.3 624.2,2154.1 625.0,2149.5 625.8,2145.6 626.5,2142.5 627.3,2140.2 628.1,2138.3 628.9,2137.1 629.6,2136.4 630.4,2136.0 633.1,2138.0 635.8,2143.1 638.5,2150.3 641.2,2158.9 643.9,2168.7 646.6,2179.1 649.3,2190.2 652.0,2202.0 654.7,2214.9 657.4,2227.9 660.2,2240.1 662.9,2251.8 665.6,2263.2 668.3,2274.6 671.0,2285.8 671.8,2278.4 672.7,2269.0 673.5,2256.9 674.4,2243.5 675.2,2230.2 676.1,2216.9 676.9,2205.4 677.8,2195.4 678.6,2186.3 679.5,2177.6 680.3,2169.1 681.2,2160.2 682.0,2153.1 682.8,2148.5 683.6,2144.6 684.4,2141.5 685.2,2139.1 685.9,2137.3 686.7,2136.1 687.5,2135.3 688.3,2135.0 691.0,2137.0 693.7,2142.1 696.4,2149.3 699.1,2158.0 701.8,2167.8 704.5,2178.2 707.2,2189.3 709.9,2201.2 712.6,2214.1 715.3,2227.2 718.0,2239.4 720.7,2251.1 723.4,2262.6 726.1,2274.0 728.8,2285.3 729.7,2277.8 730.5,2268.5 731.4,2256.3 732.2,2242.9 733.1,2229.6 733.9,2216.4 734.8,2204.8 735.6,2194.8 736.5,2185.7 737.3,2177.1 738.2,2168.5 739.0,2159.7 739.9,2152.5 740.7,2147.9 741.4,2144.1 742.2,2140.9 743.0,2138.6 743.8,2136.7 744.5,2135.5 745.3,2134.8 746.1,2134.4 748.8,2136.4 751.5,2141.5 754.2,2148.7 756.9,2157.5 759.6,2167.3 762.3,2177.7 765.0,2188.8 767.7,2200.7 770.4,2213.7 773.1,2226.8 775.8,2239.1 778.5,2250.7 781.2,2262.3 783.9,2273.7 786.6,2285.0 787.5,2277.5 788.3,2268.2 789.2,2256.0 790.1,2242.6 790.9,2229.3 791.8,2216.1 792.6,2204.5 793.5,2194.5 794.3,2185.4 795.2,2176.8 796.0,2168.2 796.9,2159.4 797.7,2152.2 798.5,2147.6 799.3,2143.8 800.1,2140.6 800.8,2138.3 801.6,2136.4 802.4,2135.2 803.2,2134.5 803.9,2134.1 806.6,2136.1 809.3,2141.2 812.1,2148.4 814.8,2157.2 817.5,2167.0 820.2,2177.5 822.9,2188.6 825.6,2200.5 828.3,2213.4 831.0,2226.5 833.7,2238.8 836.4,2250.5 839.1,2262.1 841.8,2273.5 844.5,2284.8 845.3,2277.4 846.2,2268.0 847.0,2255.8 847.9,2242.4 848.7,2229.0 849.6,2215.8 850.4,2204.2 851.3,2194.2 852.2,2185.1 853.0,2176.5 853.9,2167.9 854.7,2159.0 855.6,2151.9 856.3,2147.3 857.1,2143.4 857.9,2140.3 858.7,2137.9 859.5,2136.0 860.2,2134.8 861.0,2134.1 861.8,2133.8 864.5,2135.7 867.2,2140.8 869.9,2148.1 872.6,2156.8 875.3,2166.7 878.0,2177.1 880.7,2188.3 883.4,2200.2 886.1,2213.2 888.8,2226.3 891.5,2238.6 894.2,2250.3 896.9,2261.8 899.6,2273.3 902.3,2284.6" fill="none" stroke="#FF0000" stroke-width="8.33" stroke-linejoin="round" stroke-linecap="round"/>
<polyline points="150.4,2658.6 151.4,2625.0 152.4,2601.1 153.4,2581.6 154.4,2564.3 155.4,2549.1 156.4,2536.1 157.4,2524.3 158.4,2514.0 160.0,2500.8 161.7,2490.4 163.4,2482.6 165.1,2476.9 166.8,2472.2 168.5,2468.7 170.2,2466.3 171.8,2464.4 173.5,2463.3 175.2,2462.4 176.9,2462.0 179.0,2462.7 181.1,2464.3 183.2,2466.6 185.3,2469.3 187.4,2472.5 189.4,2475.8 191.5,2479.3 193.6,2483.1 195.7,2487.2 197.8,2491.3 199.9,2495.2 202.0,2499.0 204.1,2502.6 206.2,2506.2 208.2,2509.8 209.1,2501.7 209.9,2491.4 210.8,2478.1 211.7,2463.5 212.5,2448.9 213.4,2434.4 214.2,2421.7 215.1,2410.8 215.9,2400.8 216.8,2391.3 217.6,2381.9 218.5,2371.8 219.3,2364.5 220.6,2358.8 221.9,2354.7 223.1,2351.6 224.4,2349.2 225.7,2347.1 226.9,2345.8 228.2,2345.0 229.4,2344.7 231.9,2345.9 234.3,2349.0 236.8,2353.5 239.2,2358.9 241.7,2365.1 244.1,2371.5 246.5,2378.4 249.0,2385.8 251.4,2393.9 253.9,2402.0 256.3,2409.6 258.8,2416.9 261.2,2424.0 263.6,2431.1 266.1,2438.2 266.9,2430.8 267.8,2421.6 268.6,2409.6 269.5,2396.4 270.3,2383.2 271.2,2370.2 272.0,2358.8 272.9,2348.9 273.8,2339.9 274.6,2331.4 275.5,2323.0 276.3,2314.0 277.2,2307.2 278.2,2302.4 279.2,2298.6 280.2,2295.7 281.3,2293.5 282.3,2291.6 283.3,2290.4 284.3,2289.7 285.4,2289.4 287.9,2290.9 290.5,2294.8 293.1,2300.4 295.6,2307.1 298.2,2314.7 300.8,2322.7 303.4,2331.3 305.9,2340.5 308.5,2350.4 311.1,2360.5 313.6,2370.0 316.2,2379.0 318.8,2387.9 321.3,2396.7 323.9,2405.4 324.8,2398.4 325.6,2389.5 326.5,2378.0 327.3,2365.4 328.2,2352.7 329.0,2340.2 329.9,2329.3 330.7,2319.9 331.6,2311.2 332.4,2303.1 333.3,2295.0 334.2,2286.5 335.0,2279.9 335.9,2275.4 336.8,2271.7 337.7,2268.9 338.6,2266.7 339.5,2264.9 340.4,2263.7 341.3,2263.1 342.2,2262.8 344.9,2264.4 347.5,2268.7 350.1,2274.9 352.8,2282.3 355.4,2290.6 358.0,2299.4 360.7,2308.9 363.3,2319.0 366.0,2329.9 368.6,2341.0 371.2,2351.4 373.9,2361.4 376.5,2371.1 379.1,2380.8 381.8,2390.4 382.6,2383.5 383.5,2374.7 384.3,2363.4 385.2,2350.9 386.0,2338.5 386.9,2326.2 387.7,2315.4 388.6,2306.1 389.4,2297.6 390.3,2289.5 391.1,2281.5 392.0,2273.2 392.8,2266.7 393.7,2262.3 394.5,2258.7 395.4,2255.8 396.2,2253.6 397.1,2251.9 397.9,2250.8 398.8,2250.1 399.6,2249.8 402.3,2251.5 404.9,2256.0 407.6,2262.4 410.3,2270.0 412.9,2278.7 415.6,2287.9 418.3,2297.6 420.9,2308.1 423.6,2319.5 426.3,2331.0 428.9,2341.8 431.6,2352.1 434.3,2362.2 436.9,2372.3 439.6,2382.2 440.5,2375.4 441.3,2366.7 442.2,2355.6 443.0,2343.3 443.9,2331.1 444.7,2318.9 445.6,2308.3 446.4,2299.1 447.3,2290.7 448.1,2282.8 449.0,2274.9 449.8,2266.8 450.7,2260.3 451.5,2256.0 452.3,2252.4 453.1,2249.6 453.9,2247.4 454.8,2245.7 455.6,2244.6 456.4,2243.9 457.2,2243.6 459.9,2245.4 462.6,2250.0 465.2,2256.5 467.9,2264.3 470.6,2273.1 473.3,2282.5 476.0,2292.5 478.7,2303.2 481.3,2314.8 484.0,2326.5 486.7,2337.6 489.4,2348.0 492.1,2358.4 494.8,2368.6 497.4,2378.8 498.3,2372.0 499.1,2363.3 500.0,2352.2 500.9,2339.9 501.7,2327.6 502.6,2315.5 503.4,2304.9 504.3,2295.7 505.1,2287.3 506.0,2279.4 506.8,2271.5 507.7,2263.4 508.5,2256.9 509.3,2252.6 510.1,2249.1 510.9,2246.2 511.7,2244.0 512.4,2242.3 513.2,2241.2 514.0,2240.5 514.8,2240.2 517.5,2242.0 520.2,2246.6 522.9,2253.2 525.6,2261.1 528.3,2270.0 531.0,2279.5 533.7,2289.6 536.4,2300.3 539.1,2312.1 541.8,2324.0 544.5,2335.1 547.2,2345.7 549.9,2356.1 552.6,2366.5 555.3,2376.7 556.1,2369.9 557.0,2361.3 557.8,2350.1 558.7,2337.8 559.5,2325.6 560.4,2313.4 561.2,2302.8 562.1,2293.6 563.0,2285.2 563.8,2277.3 564.7,2269.4 565.5,2261.3 566.4,2254.7 567.1,2250.5 567.9,2246.9 568.7,2244.0 569.5,2241.9 570.3,2240.2 571.0,2239.0 571.8,2238.4 572.6,2238.1 575.3,2239.9 578.0,2244.5 580.7,2251.2 583.4,2259.2 586.1,2268.2 588.8,2277.8 591.5,2288.0 594.2,2298.9 596.9,2310.7 599.6,2322.7 602.3,2334.0 605.0,2344.7 607.7,2355.3 610.4,2365.8 613.1,2376.1 614.0,2369.3 614.8,2360.6 615.7,2349.4 616.5,2337.0 617.4,2324.7 618.2,2312.5 619.1,2301.9 619.9,2292.6 620.8,2284.2 621.6,2276.3 622.5,2268.3 623.4,2260.2 624.2,2253.6 625.0,2249.4 625.8,2245.8 626.5,2242.9 627.3,2240.7 628.1,2239.0 628.9,2237.9 629.6,2237.2 630.4,2236.9 633.1,2238.7 635.8,2243.4 638.5,2250.1 641.2,2258.1 643.9,2267.2 646.6,2276.8 649.3,2287.1 652.0,2298.1 654.7,2310.0 657.4,2322.1 660.2,2333.4 662.9,2344.2 665.6,2354.8 668.3,2365.4 671.0,2375.8 671.8,2368.9 672.7,2360.2 673.5,2349.0 674.4,2336.6 675.2,2324.3 676.1,2312.0 676.9,2301.4 677.8,2292.1 678.6,2283.7 679.5,2275.7 680.3,2267.8 681.2,2259.6 682.0,2253.0 682.8,2248.7 683.6,2245.1 684.4,2242.3 685.2,2240.1 685.9,2238.3 686.7,2237.2 687.5,2236.6 688.3,2236.2 691.0,2238.1 693.7,2242.8 696.4,2249.5 699.1,2257.6 701.8,2266.7 704.5,2276.3 707.2,2286.6 709.9,2297.6 712.6,2309.6 715.3,2321.7 718.0,2333.1 720.7,2343.9 723.4,2354.6 726.1,2365.1 728.8,2375.6 729.7,2368.7 730.5,2360.0 731.4,2348.8 732.2,2336.4 733.1,2324.0 733.9,2311.8 734.8,2301.1 735.6,2291.8 736.5,2283.4 737.3,2275.4 738.2,2267.5 739.0,2259.3 739.9,2252.7 740.7,2248.4 741.4,2244.8 742.2,2241.9 743.0,2239.7 743.8,2238.0 744.5,2236.9 745.3,2236.2 746.1,2235.9 748.8,2237.7 751.5,2242.4 754.2,2249.1 756.9,2257.2 759.6,2266.4 762.3,2276.0 765.0,2286.3 767.7,2297.4 770.4,2309.4 773.1,2321.5 775.8,2332.9 778.5,2343.7 781.2,2354.4 783.9,2365.0 786.6,2375.5 787.5,2368.6 788.3,2359.9 789.2,2348.6 790.1,2336.2 790.9,2323.9 791.8,2311.6 792.6,2300.9 793.5,2291.7 794.3,2283.2 795.2,2275.2 796.0,2267.3 796.9,2259.1 797.7,2252.5 798.5,2248.2 799.3,2244.6 800.1,2241.7 800.8,2239.5 801.6,2237.8 802.4,2236.7 803.2,2236.0 803.9,2235.7 806.6,2237.5 809.3,2242.2 812.1,2249.0 814.8,2257.1 817.5,2266.2 820.2,2275.9 822.9,2286.2 825.6,2297.2 828.3,2309.2 831.0,2321.4 833.7,2332.8 836.4,2343.7 839.1,2354.3 841.8,2365.0 844.5,2375.4 845.3,2368.5 846.2,2359.8 847.0,2348.6 847.9,2336.1 848.7,2323.8 849.6,2311.5 850.4,2300.8 851.3,2291.5 852.2,2283.0 853.0,2275.0 853.9,2267.1 854.7,2258.9 855.6,2252.2 856.3,2248.0 857.1,2244.4 857.9,2241.5 858.7,2239.3 859.5,2237.6 860.2,2236.4 861.0,2235.8 861.8,2235.4 864.5,2237.3 867.2,2242.0 869.9,2248.7 872.6,2256.8 875.3,2266.0 878.0,2275.7 880.7,2286.0 883.4,2297.1 886.1,2309.1 888.8,2321.3 891.5,2332.7 894.2,2343.5 896.9,2354.3 899.6,2364.9 902.3,2375.4" fill="none" stroke="#2040FF" stroke-width="8.33" stroke-linejoin="round" stroke-linecap="round"/>
<polyline points="150.4,2658.6 151.4,2628.1 152.4,2606.3 153.4,2588.6 154.4,2572.8 155.4,2559.0 156.4,2547.1 157.4,2536.4 158.4,2527.1 160.0,2515.1 161.7,2505.6 163.4,2498.5 165.1,2493.3 166.8,2489.0 168.5,2485.9 170.2,2483.6 171.8,2481.9 173.5,2480.9 175.2,2480.1 176.9,2479.8 179.0,2480.3 181.1,2481.8 183.2,2483.8 185.3,2486.3 187.4,2489.0 189.4,2492.0 191.5,2495.1 193.6,2498.4 195.7,2502.1 197.8,2505.7 199.9,2509.2 202.0,2512.5 204.1,2515.7 206.2,2518.9 208.2,2522.1 209.1,2514.7 209.9,2505.4 210.8,2493.4 211.7,2480.1 212.5,2466.9 213.4,2453.8 214.2,2442.4 215.1,2432.5 215.9,2423.4 216.8,2414.9 217.6,2406.4 218.5,2397.2 219.3,2390.6 220.6,2385.5 221.9,2381.7 223.1,2379.0 224.4,2376.7 225.7,2374.9 226.9,2373.7 228.2,2373.0 229.4,2372.6 231.9,2373.7 234.3,2376.5 236.8,2380.5 239.2,2385.3 241.7,2390.7 244.1,2396.4 246.5,2402.5 249.0,2409.0 251.4,2416.1 253.9,2423.3 256.3,2430.0 258.8,2436.4 261.2,2442.8 263.6,2449.0 266.1,2455.2 266.9,2448.6 267.8,2440.2 268.6,2429.4 269.5,2417.5 270.3,2405.6 271.2,2393.8 272.0,2383.5 272.9,2374.6 273.8,2366.5 274.6,2358.8 275.5,2351.1 276.3,2343.0 277.2,2336.9 278.2,2332.5 279.2,2329.1 280.2,2326.5 281.3,2324.5 282.3,2322.8 283.3,2321.7 284.3,2321.1 285.4,2320.8 287.9,2322.1 290.5,2325.7 293.1,2330.8 295.6,2336.9 298.2,2343.9 300.8,2351.2 303.4,2359.0 305.9,2367.3 308.5,2376.4 311.1,2385.7 313.6,2394.3 316.2,2402.5 318.8,2410.6 321.3,2418.6 323.9,2426.5 324.8,2420.2 325.6,2412.1 326.5,2401.7 327.3,2390.2 328.2,2378.7 329.0,2367.3 329.9,2357.4 330.7,2348.8 331.6,2341.0 332.4,2333.5 333.3,2326.2 334.2,2318.4 335.0,2312.4 335.9,2308.3 336.8,2305.0 337.7,2302.4 338.6,2300.4 339.5,2298.8 340.4,2297.8 341.3,2297.2 342.2,2296.9 344.9,2298.4 347.5,2302.3 350.1,2307.9 352.8,2314.6 355.4,2322.2 358.0,2330.2 360.7,2338.8 363.3,2348.0 366.0,2358.0 368.6,2368.0 371.2,2377.5 373.9,2386.5 376.5,2395.4 379.1,2404.2 381.8,2412.9 382.6,2406.6 383.5,2398.7 384.3,2388.4 385.2,2377.1 386.0,2365.8 386.9,2354.6 387.7,2344.8 388.6,2336.4 389.4,2328.7 390.3,2321.4 391.1,2314.1 392.0,2306.6 392.8,2300.6 393.7,2296.6 394.5,2293.4 395.4,2290.8 396.2,2288.8 397.1,2287.2 397.9,2286.2 398.8,2285.6 399.6,2285.3 402.3,2286.9 404.9,2290.9 407.6,2296.7 410.3,2303.7 412.9,2311.6 415.6,2320.0 418.3,2328.9 420.9,2338.5 423.6,2348.9 426.3,2359.4 428.9,2369.2 431.6,2378.6 434.3,2387.8 436.9,2397.0 439.6,2406.1 440.5,2399.8 441.3,2391.9 442.2,2381.7 443.0,2370.4 443.9,2359.2 444.7,2348.1 445.6,2338.4 446.4,2330.0 447.3,2322.3 448.1,2315.0 449.0,2307.8 449.8,2300.3 450.7,2294.4 451.5,2290.4 452.3,2287.2 453.1,2284.6 453.9,2282.6 454.8,2281.0 455.6,2280.0 456.4,2279.4 457.2,2279.1 459.9,2280.8 462.6,2285.0 465.2,2290.9 467.9,2298.1 470.6,2306.2 473.3,2314.8 476.0,2324.0 478.7,2333.8 481.3,2344.5 484.0,2355.3 486.7,2365.5 489.4,2375.1 492.1,2384.6 494.8,2394.0 497.4,2403.3 498.3,2397.1 499.1,2389.1 500.0,2378.8 500.9,2367.5 501.7,2356.2 502.6,2345.1 503.4,2335.3 504.3,2326.8 505.1,2319.1 506.0,2311.8 506.8,2304.6 507.7,2297.1 508.5,2291.0 509.3,2287.1 510.1,2283.8 510.9,2281.2 511.7,2279.2 512.4,2277.6 513.2,2276.6 514.0,2276.0 514.8,2275.7 517.5,2277.4 520.2,2281.7 522.9,2287.8 525.6,2295.1 528.3,2303.4 531.0,2312.2 533.7,2321.6 536.4,2331.6 539.1,2342.5 541.8,2353.6 544.5,2363.9 547.2,2373.8 549.9,2383.5 552.6,2393.1 555.3,2402.7 556.1,2396.3 557.0,2388.3 557.8,2377.9 558.7,2366.5 559.5,2355.1 560.4,2343.8 561.2,2334.0 562.1,2325.4 563.0,2317.7 563.8,2310.3 564.7,2303.0 565.5,2295.4 566.4,2289.3 567.1,2285.4 567.9,2282.1 568.7,2279.4 569.5,2277.4 570.3,2275.8 571.0,2274.8 571.8,2274.2 572.6,2273.9 575.3,2275.6 578.0,2279.9 580.7,2286.1 583.4,2293.5 586.1,2301.9 588.8,2310.8 591.5,2320.3 594.2,2330.5 596.9,2341.5 599.6,2352.7 602.3,2363.2 605.0,2373.1 607.7,2383.0 610.4,2392.7 613.1,2402.4 614.0,2396.0 614.8,2387.9 615.7,2377.5 616.5,2366.0 617.4,2354.6 618.2,2343.2 619.1,2333.3 619.9,2324.7 620.8,2316.9 621.6,2309.5 622.5,2302.1 623.4,2294.5 624.2,2288.4 625.0,2284.4 625.8,2281.1 626.5,2278.4 627.3,2276.4 628.1,2274.8 628.9,2273.8 629.6,2273.1 630.4,2272.9 633.1,2274.6 635.8,2278.9 638.5,2285.1 641.2,2292.6 643.9,2301.1 646.6,2310.0 649.3,2319.6 652.0,2329.8 654.7,2340.9 657.4,2352.2 660.2,2362.7 662.9,2372.8 665.6,2382.7 668.3,2392.5 671.0,2402.2 671.8,2395.8 672.7,2387.7 673.5,2377.2 674.4,2365.7 675.2,2354.2 676.1,2342.9 676.9,2332.9 677.8,2324.3 678.6,2316.5 679.5,2309.0 680.3,2301.6 681.2,2294.0 682.0,2287.9 682.8,2283.9 683.6,2280.6 684.4,2277.9 685.2,2275.9 685.9,2274.3 686.7,2273.2 687.5,2272.6 688.3,2272.3 691.0,2274.0 693.7,2278.4 696.4,2284.6 699.1,2292.2 701.8,2300.6 704.5,2309.6 707.2,2319.2 709.9,2329.5 712.6,2340.6 715.3,2351.9 718.0,2362.5 720.7,2372.6 723.4,2382.5 726.1,2392.4 728.8,2402.1 729.7,2395.7 730.5,2387.6 731.4,2377.1 732.2,2365.6 733.1,2354.1 733.9,2342.7 734.8,2332.7 735.6,2324.1 736.5,2316.2 737.3,2308.8 738.2,2301.4 739.0,2293.8 739.9,2287.6 740.7,2283.6 741.4,2280.3 742.2,2277.6 743.0,2275.6 743.8,2274.0 744.5,2272.9 745.3,2272.3 746.1,2272.0 748.8,2273.7 751.5,2278.1 754.2,2284.4 756.9,2291.9 759.6,2300.4 762.3,2309.4 765.0,2319.0 767.7,2329.3 770.4,2340.5 773.1,2351.8 775.8,2362.4 778.5,2372.5 781.2,2382.4 783.9,2392.3 786.6,2402.0 787.5,2395.6 788.3,2387.5 789.2,2377.0 790.1,2365.5 790.9,2354.0 791.8,2342.6 792.6,2332.6 793.5,2324.0 794.3,2316.1 795.2,2308.6 796.0,2301.2 796.9,2293.6 797.7,2287.5 798.5,2283.5 799.3,2280.1 800.1,2277.4 800.8,2275.4 801.6,2273.8 802.4,2272.7 803.2,2272.1 803.9,2271.8 806.6,2273.5 809.3,2277.9 812.1,2284.2 814.8,2291.7 817.5,2300.3 820.2,2309.3 822.9,2318.9 825.6,2329.2 828.3,2340.4 831.0,2351.7 833.7,2362.3 836.4,2372.4 839.1,2382.4 841.8,2392.3 844.5,2402.0 845.3,2395.6 846.2,2387.5 847.0,2377.0 847.9,2365.4 848.7,2353.9 849.6,2342.5 850.4,2332.5 851.3,2323.8 852.2,2316.0 853.0,2308.5 853.9,2301.1 854.7,2293.4 855.6,2287.3 856.3,2283.3 857.1,2279.9 857.9,2277.2 858.7,2275.2 859.5,2273.6 860.2,2272.5 861.0,2271.9 861.8,2271.6 864.5,2273.3 867.2,2277.7 869.9,2284.0 872.6,2291.6 875.3,2300.1 878.0,2309.1 880.7,2318.7 883.4,2329.0 886.1,2340.2 888.8,2351.6 891.5,2362.2 894.2,2372.3 896.9,2382.3 899.6,2392.2 902.3,2402.0" fill="none" stroke="#008F00" stroke-width="8.33" stroke-linejoin="round" stroke-linecap="round"/>
<polyline points="150.4,2658.6 151.4,2617.4 152.4,2587.9 153.4,2564.0 154.4,2542.6 155.4,2524.0 156.4,2508.0 157.4,2493.5 158.4,2480.9 160.0,2464.7 161.7,2451.9 163.4,2442.3 165.1,2435.2 166.8,2429.5 168.5,2425.2 170.2,2422.2 171.8,2419.9 173.5,2418.5 175.2,2417.5 176.9,2417.0 179.0,2417.6 181.1,2419.0 183.2,2421.1 185.3,2423.7 187.4,2426.5 189.4,2429.6 191.5,2432.8 193.6,2436.2 195.7,2440.0 197.8,2443.8 199.9,2447.4 202.0,2450.7 204.1,2454.1 206.2,2457.4 208.2,2460.7 209.1,2450.7 209.9,2438.2 210.8,2421.9 211.7,2404.0 212.5,2386.1 213.4,2368.4 214.2,2352.9 215.1,2339.5 215.9,2327.3 216.8,2315.8 217.6,2304.2 218.5,2291.9 219.3,2282.9 220.6,2276.0 221.9,2271.0 223.1,2267.2 224.4,2264.2 225.7,2261.7 226.9,2260.1 228.2,2259.1 229.4,2258.7 231.9,2259.9 234.3,2263.0 236.8,2267.4 239.2,2272.7 241.7,2278.8 244.1,2285.1 246.5,2292.0 249.0,2299.2 251.4,2307.2 253.9,2315.2 256.3,2322.7 258.8,2329.8 261.2,2336.9 263.6,2343.9 266.1,2350.8 266.9,2341.9 267.8,2330.6 268.6,2316.1 269.5,2300.0 270.3,2284.0 271.2,2268.2 272.0,2254.3 272.9,2242.4 273.8,2231.4 274.6,2221.1 275.5,2210.8 276.3,2199.9 277.2,2191.6 278.2,2185.7 279.2,2181.2 280.2,2177.6 281.3,2174.9 282.3,2172.7 283.3,2171.2 284.3,2170.3 285.4,2169.9 287.9,2171.5 290.5,2175.6 293.1,2181.5 295.6,2188.6 298.2,2196.5 300.8,2205.0 303.4,2214.0 305.9,2223.6 308.5,2234.1 311.1,2244.7 313.6,2254.6 316.2,2264.1 318.8,2273.4 321.3,2282.6 323.9,2291.8 324.8,2283.4 325.6,2272.9 326.5,2259.3 327.3,2244.3 328.2,2229.4 329.0,2214.6 329.9,2201.7 330.7,2190.5 331.6,2180.3 332.4,2170.6 333.3,2161.0 334.2,2150.9 335.0,2143.1 335.9,2137.8 336.8,2133.5 337.7,2130.1 338.6,2127.5 339.5,2125.4 340.4,2124.0 341.3,2123.2 342.2,2122.8 344.9,2124.7 347.5,2129.3 350.1,2136.0 352.8,2144.1 355.4,2153.2 358.0,2162.8 360.7,2173.0 363.3,2184.0 366.0,2195.9 368.6,2208.0 371.2,2219.4 373.9,2230.1 376.5,2240.8 379.1,2251.3 381.8,2261.7 382.6,2253.6 383.5,2243.2 384.3,2229.9 385.2,2215.2 386.0,2200.5 386.9,2186.0 387.7,2173.3 388.6,2162.3 389.4,2152.3 390.3,2142.8 391.1,2133.3 392.0,2123.5 392.8,2115.8 393.7,2110.6 394.5,2106.4 395.4,2103.0 396.2,2100.4 397.1,2098.4 397.9,2097.0 398.8,2096.2 399.6,2095.9 402.3,2097.8 404.9,2102.8 407.6,2109.9 410.3,2118.4 412.9,2128.0 415.6,2138.2 418.3,2149.0 420.9,2160.6 423.6,2173.3 426.3,2186.1 428.9,2198.1 431.6,2209.5 434.3,2220.8 436.9,2231.9 439.6,2243.0 440.5,2235.0 441.3,2224.9 442.2,2211.8 443.0,2197.4 443.9,2183.0 444.7,2168.8 445.6,2156.3 446.4,2145.6 447.3,2135.7 448.1,2126.4 449.0,2117.2 449.8,2107.7 450.7,2100.0 451.5,2095.0 452.3,2090.8 453.1,2087.5 453.9,2085.0 454.8,2083.0 455.6,2081.7 456.4,2080.9 457.2,2080.5 459.9,2082.5 462.6,2087.6 465.2,2094.9 467.9,2103.6 470.6,2113.5 473.3,2123.9 476.0,2135.0 478.7,2146.9 481.3,2159.9 484.0,2173.0 486.7,2185.3 489.4,2197.1 492.1,2208.6 494.8,2220.1 497.4,2231.4 498.3,2223.5 499.1,2213.6 500.0,2200.7 500.9,2186.5 501.7,2172.4 502.6,2158.4 503.4,2146.2 504.3,2135.6 505.1,2125.9 506.0,2116.8 506.8,2107.7 507.7,2098.4 508.5,2090.8 509.3,2085.9 510.1,2081.8 510.9,2078.5 511.7,2076.0 512.4,2074.1 513.2,2072.8 514.0,2072.0 514.8,2071.7 517.5,2073.7 520.2,2078.8 522.9,2086.2 525.6,2095.1 528.3,2105.2 531.0,2115.8 533.7,2127.2 536.4,2139.3 539.1,2152.5 541.8,2165.8 544.5,2178.4 547.2,2190.3 549.9,2202.0 552.6,2213.7 555.3,2225.2 556.1,2217.4 557.0,2207.4 557.8,2194.6 558.7,2180.5 559.5,2166.4 560.4,2152.4 561.2,2140.2 562.1,2129.6 563.0,2120.0 563.8,2110.9 564.7,2101.8 565.5,2092.5 566.4,2084.9 567.1,2080.1 567.9,2076.0 568.7,2072.7 569.5,2070.2 570.3,2068.2 571.0,2066.9 571.8,2066.2 572.6,2065.8 575.3,2067.9 578.0,2073.2 580.7,2080.7 583.4,2089.8 586.1,2100.1 588.8,2110.9 591.5,2122.5 594.2,2134.9 596.9,2148.4 599.6,2162.1 602.3,2174.9 605.0,2187.1 607.7,2199.1 610.4,2211.0 613.1,2222.8 614.0,2214.9 614.8,2204.9 615.7,2192.0 616.5,2177.8 617.4,2163.6 618.2,2149.6 619.1,2137.3 619.9,2126.7 620.8,2117.1 621.6,2107.9 622.5,2098.8 623.4,2089.4 624.2,2081.8 625.0,2076.9 625.8,2072.8 626.5,2069.5 627.3,2067.0 628.1,2065.0 628.9,2063.7 629.6,2063.0 630.4,2062.6 633.1,2064.7 635.8,2070.0 638.5,2077.7 641.2,2086.9 643.9,2097.3 646.6,2108.3 649.3,2120.0 652.0,2132.5 654.7,2146.2 657.4,2160.0 660.2,2173.0 662.9,2185.3 665.6,2197.4 668.3,2209.5 671.0,2221.4 671.8,2213.5 672.7,2203.5 673.5,2190.6 674.4,2176.3 675.2,2162.1 676.1,2148.1 676.9,2135.8 677.8,2125.1 678.6,2115.4 679.5,2106.2 680.3,2097.1 681.2,2087.7 682.0,2080.1 682.8,2075.2 683.6,2071.1 684.4,2067.8 685.2,2065.3 685.9,2063.3 686.7,2062.0 687.5,2061.2 688.3,2060.8 691.0,2062.9 693.7,2068.3 696.4,2076.0 699.1,2085.3 701.8,2095.7 704.5,2106.8 707.2,2118.6 709.9,2131.2 712.6,2145.0 715.3,2158.9 718.0,2171.9 720.7,2184.3 723.4,2196.5 726.1,2208.7 728.8,2220.7 729.7,2212.7 730.5,2202.7 731.4,2189.8 732.2,2175.5 733.1,2161.3 733.9,2147.2 734.8,2134.9 735.6,2124.3 736.5,2114.5 737.3,2105.3 738.2,2096.2 739.0,2086.8 739.9,2079.2 740.7,2074.3 741.4,2070.1 742.2,2066.8 743.0,2064.3 743.8,2062.3 744.5,2061.0 745.3,2060.2 746.1,2059.9 748.8,2062.0 751.5,2067.4 754.2,2075.1 756.9,2084.4 759.6,2094.9 762.3,2106.0 765.0,2117.8 767.7,2130.5 770.4,2144.3 773.1,2158.2 775.8,2171.3 778.5,2183.8 781.2,2196.1 783.9,2208.2 786.6,2220.3 787.5,2212.3 788.3,2202.3 789.2,2189.4 790.1,2175.1 790.9,2160.9 791.8,2146.8 792.6,2134.4 793.5,2123.8 794.3,2114.0 795.2,2104.8 796.0,2095.7 796.9,2086.3 797.7,2078.6 798.5,2073.7 799.3,2069.6 800.1,2066.3 800.8,2063.8 801.6,2061.8 802.4,2060.5 803.2,2059.7 803.9,2059.3 806.6,2061.4 809.3,2066.9 812.1,2074.6 814.8,2083.9 817.5,2094.4 820.2,2105.5 822.9,2117.4 825.6,2130.1 828.3,2143.9 831.0,2157.9 833.7,2171.0 836.4,2183.5 839.1,2195.8 841.8,2208.0 844.5,2220.0 845.3,2212.1 846.2,2202.0 847.0,2189.0 847.9,2174.7 848.7,2160.5 849.6,2146.3 850.4,2134.0 851.3,2123.3 852.2,2113.5 853.0,2104.3 853.9,2095.1 854.7,2085.7 855.6,2078.0 856.3,2073.1 857.1,2069.0 857.9,2065.6 858.7,2063.1 859.5,2061.1 860.2,2059.8 861.0,2059.0 861.8,2058.7 864.5,2060.8 867.2,2066.2 869.9,2074.0 872.6,2083.3 875.3,2093.8 878.0,2105.0 880.7,2116.9 883.4,2129.6 886.1,2143.5 888.8,2157.5 891.5,2170.6 894.2,2183.1 896.9,2195.5 899.6,2207.7 902.3,2219.8" fill="none" stroke="#424242" stroke-width="8.33" stroke-linejoin="round" stroke-linecap="round"/>
<path d="M148.8,2453.85H902.3" stroke="#808080" stroke-width="4.2" stroke-dasharray="24.9 26" fill="none"/>
</g>
<path d="M150.30,1973.70V2661.00" stroke="#000" stroke-width="4.8" fill="none"/>
<path d="M148.00,2658.60H924.00" stroke="#000" stroke-width="4.8" fill="none"/>
<text x="127.8" y="2671.3" text-anchor="end">0</text>
<text x="127.8" y="2534.8" text-anchor="end">2</text>
<text x="127.8" y="2398.3" text-anchor="end">4</text>
<text x="127.8" y="2261.8" text-anchor="end">6</text>
<text x="127.8" y="2125.3" text-anchor="end">8</text>
<text x="127.8" y="1988.8" text-anchor="end">10</text>
<text x="150.4" y="2714.1" text-anchor="middle">0</text>
<text x="266.1" y="2714.1" text-anchor="middle">24</text>
<text x="381.8" y="2714.1" text-anchor="middle">48</text>
<text x="497.4" y="2714.1" text-anchor="middle">72</text>
<text x="613.1" y="2714.1" text-anchor="middle">96</text>
<text x="728.8" y="2714.1" text-anchor="middle">120</text>
<text x="844.5" y="2714.1" text-anchor="middle">144</text>
<path d="M136.60,2658.60H150.40M136.60,2522.10H150.40M136.60,2385.60H150.40M136.60,2249.10H150.40M136.60,2112.60H150.40M136.60,1976.10H150.40M150.40,2658.60V2671.80M266.08,2658.60V2671.80M381.76,2658.60V2671.80M497.44,2658.60V2671.80M613.12,2658.60V2671.80M728.80,2658.60V2671.80M844.48,2658.60V2671.80" stroke="#000" stroke-width="4.8" fill="none"/>
<text x="536.0" y="2786.3" text-anchor="middle" style="font-size:45.2px">Time(h)</text>
<text transform="translate(60.0,2317.3) rotate(-90)" text-anchor="middle" style="font-size:45.2px">Plasma concentration(mg/l)</text>
<text x="14.8" y="1993.8" style="font-size:37.5px">E.</text>
<path d="M918,2390.1H1019.6" stroke="#424242" stroke-width="8.33" stroke-linecap="round" fill="none"/>
<path d="M918,2445.8H1019.6" stroke="#FF0000" stroke-width="8.33" stroke-linecap="round" fill="none"/>
<path d="M918,2501.4H1019.6" stroke="#2040FF" stroke-width="8.33" stroke-linecap="round" fill="none"/>
<path d="M918,2557.0H1019.6" stroke="#008F00" stroke-width="8.33" stroke-linecap="round" fill="none"/>
<path d="M916.7,2612.6H993" stroke="#808080" stroke-width="4.2" stroke-dasharray="25.5 25" fill="none"/>
<text x="1031.3" y="2406.2" style="font-size:45.2px">Non-pregnancy</text>
<text x="1031.3" y="2461.9" style="font-size:45.2px">1st trimester</text>
<text x="1031.3" y="2517.5" style="font-size:45.2px">2nd trimester</text>
<text x="1031.3" y="2573.1" style="font-size:45.2px">3rd trimester</text>
<text x="1031.3" y="2628.7" style="font-size:45.2px">Y=3mg/l</text>
</svg></body></html>
